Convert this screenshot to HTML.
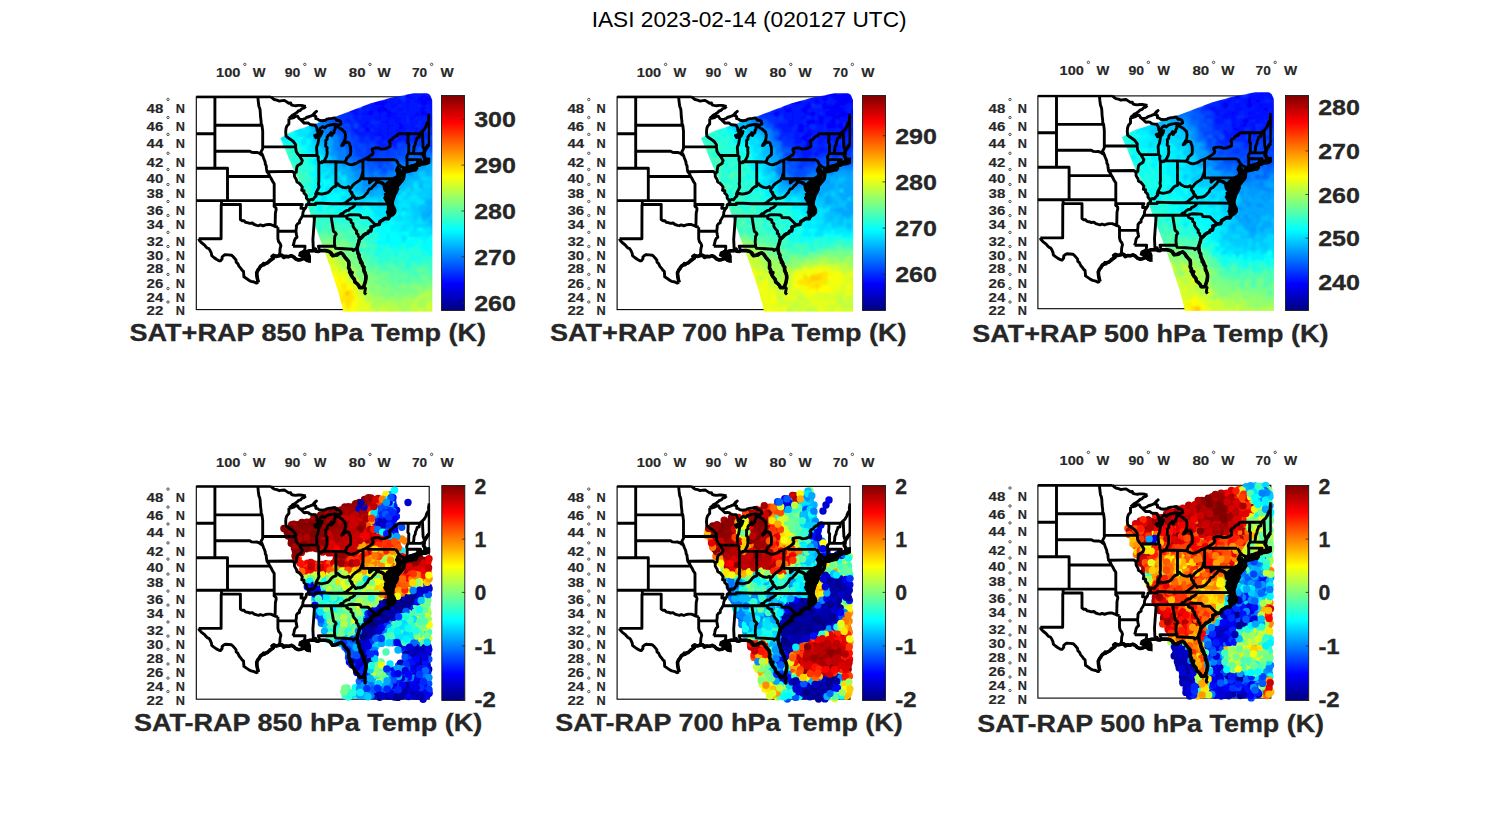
<!DOCTYPE html>
<html><head><meta charset="utf-8"><style>
html,body{margin:0;padding:0;background:#fff;width:1500px;height:825px;overflow:hidden}
svg{display:block}
text{font-family:"Liberation Sans",sans-serif}
.lb{font-size:12.9px;font-weight:bold;fill:#262626;stroke:#262626;stroke-width:0.15}
.lo{font-size:13.3px}
.dg{fill:none;stroke:#262626;stroke-width:0.8}
.cb{font-size:22.5px;font-weight:bold;fill:#262626;stroke:#262626;stroke-width:0.3}
.tt{font-size:23.6px;font-weight:bold;fill:#262626;stroke:#262626;stroke-width:0.3}
.mt{font-size:21.8px;fill:#000}
</style></head><body>
<svg width="1500" height="825" viewBox="0 0 1500 825">
<defs>
<linearGradient id="jetg" x1="0" y1="0" x2="0" y2="1"><stop offset="0.0000" stop-color="#800000"/><stop offset="0.0156" stop-color="#8f0000"/><stop offset="0.0312" stop-color="#9f0000"/><stop offset="0.0469" stop-color="#af0000"/><stop offset="0.0625" stop-color="#bf0000"/><stop offset="0.0781" stop-color="#cf0000"/><stop offset="0.0938" stop-color="#df0000"/><stop offset="0.1094" stop-color="#ef0000"/><stop offset="0.1250" stop-color="#ff0000"/><stop offset="0.1406" stop-color="#ff1000"/><stop offset="0.1562" stop-color="#ff2000"/><stop offset="0.1719" stop-color="#ff3000"/><stop offset="0.1875" stop-color="#ff4000"/><stop offset="0.2031" stop-color="#ff5000"/><stop offset="0.2188" stop-color="#ff6000"/><stop offset="0.2344" stop-color="#ff7000"/><stop offset="0.2500" stop-color="#ff8000"/><stop offset="0.2656" stop-color="#ff8f00"/><stop offset="0.2812" stop-color="#ff9f00"/><stop offset="0.2969" stop-color="#ffaf00"/><stop offset="0.3125" stop-color="#ffbf00"/><stop offset="0.3281" stop-color="#ffcf00"/><stop offset="0.3438" stop-color="#ffdf00"/><stop offset="0.3594" stop-color="#ffef00"/><stop offset="0.3750" stop-color="#ffff00"/><stop offset="0.3906" stop-color="#efff10"/><stop offset="0.4062" stop-color="#dfff20"/><stop offset="0.4219" stop-color="#cfff30"/><stop offset="0.4375" stop-color="#bfff40"/><stop offset="0.4531" stop-color="#afff50"/><stop offset="0.4688" stop-color="#9fff60"/><stop offset="0.4844" stop-color="#8fff70"/><stop offset="0.5000" stop-color="#80ff80"/><stop offset="0.5156" stop-color="#70ff8f"/><stop offset="0.5312" stop-color="#60ff9f"/><stop offset="0.5469" stop-color="#50ffaf"/><stop offset="0.5625" stop-color="#40ffbf"/><stop offset="0.5781" stop-color="#30ffcf"/><stop offset="0.5938" stop-color="#20ffdf"/><stop offset="0.6094" stop-color="#10ffef"/><stop offset="0.6250" stop-color="#00ffff"/><stop offset="0.6406" stop-color="#00efff"/><stop offset="0.6562" stop-color="#00dfff"/><stop offset="0.6719" stop-color="#00cfff"/><stop offset="0.6875" stop-color="#00bfff"/><stop offset="0.7031" stop-color="#00afff"/><stop offset="0.7188" stop-color="#009fff"/><stop offset="0.7344" stop-color="#008fff"/><stop offset="0.7500" stop-color="#0080ff"/><stop offset="0.7656" stop-color="#0070ff"/><stop offset="0.7812" stop-color="#0060ff"/><stop offset="0.7969" stop-color="#0050ff"/><stop offset="0.8125" stop-color="#0040ff"/><stop offset="0.8281" stop-color="#0030ff"/><stop offset="0.8438" stop-color="#0020ff"/><stop offset="0.8594" stop-color="#0010ff"/><stop offset="0.8750" stop-color="#0000ff"/><stop offset="0.8906" stop-color="#0000ef"/><stop offset="0.9062" stop-color="#0000df"/><stop offset="0.9219" stop-color="#0000cf"/><stop offset="0.9375" stop-color="#0000bf"/><stop offset="0.9531" stop-color="#0000af"/><stop offset="0.9688" stop-color="#00009f"/><stop offset="0.9844" stop-color="#00008f"/><stop offset="1.0000" stop-color="#000080"/></linearGradient>
<linearGradient id="sg0" x1="0" y1="0" x2="0" y2="1"><stop offset="0" stop-color="#0038ff"/><stop offset="0.2" stop-color="#0080ff"/><stop offset="0.5" stop-color="#00d1ff"/><stop offset="0.7" stop-color="#4dffb2"/><stop offset="1" stop-color="#b3ff4c"/></linearGradient><linearGradient id="sg1" x1="0" y1="0" x2="0" y2="1"><stop offset="0" stop-color="#0038ff"/><stop offset="0.2" stop-color="#0080ff"/><stop offset="0.5" stop-color="#00d1ff"/><stop offset="0.7" stop-color="#4dffb2"/><stop offset="1" stop-color="#b3ff4c"/></linearGradient><linearGradient id="sg2" x1="0" y1="0" x2="0" y2="1"><stop offset="0" stop-color="#004dff"/><stop offset="0.2" stop-color="#0094ff"/><stop offset="0.5" stop-color="#00d1ff"/><stop offset="0.7" stop-color="#2effd1"/><stop offset="1" stop-color="#80ff80"/></linearGradient><linearGradient id="sg3" x1="0" y1="0" x2="0" y2="1"><stop offset="0" stop-color="#e50000"/><stop offset="0.3" stop-color="#ff4c00"/><stop offset="0.5" stop-color="#e5ff1a"/><stop offset="0.7" stop-color="#00b2ff"/><stop offset="1" stop-color="#00e5ff"/></linearGradient><linearGradient id="sg4" x1="0" y1="0" x2="0" y2="1"><stop offset="0" stop-color="#e50000"/><stop offset="0.3" stop-color="#ff4c00"/><stop offset="0.5" stop-color="#00b2ff"/><stop offset="0.7" stop-color="#0000e6"/><stop offset="1" stop-color="#0019ff"/></linearGradient><linearGradient id="sg5" x1="0" y1="0" x2="0" y2="1"><stop offset="0" stop-color="#e50000"/><stop offset="0.3" stop-color="#ff4c00"/><stop offset="0.5" stop-color="#ff4c00"/><stop offset="0.7" stop-color="#e5ff1a"/><stop offset="1" stop-color="#1affe5"/></linearGradient>
<clipPath id="swclip"><polygon points="280.3,138.2 291.8,131.5 308.8,126 340,115 370,103.5 391.8,97.5 413.6,93.2 427.3,93.2 430,94.8 432.2,100 432.4,140 432.4,200 432.4,260 432.3,311.8 343.2,311.8 341.4,303.6 337.7,290 333.2,276.4 328.6,262.7 325,252.7 319,236.4 311.8,217.5 307.5,205.8 301.5,186.7 293,168.5 286,151.5"/></clipPath>
<filter id="bl" x="-5%" y="-5%" width="110%" height="110%"><feGaussianBlur stdDeviation="0.9"/></filter>
<clipPath id="boxclip"><rect x="195.3" y="95.6" width="234.9" height="215.2"/></clipPath>
</defs>
<rect width="1500" height="825" fill="#fff"/>
<text x="591.7" y="26.6" class="mt" textLength="314.9" lengthAdjust="spacingAndGlyphs">IASI 2023-02-14 (020127 UTC)</text>
<g transform="translate(0,0)"><rect x="196.3" y="96.8" width="232.9" height="212.8" fill="#fff" stroke="#000" stroke-width="1.1"/><g clip-path="url(#swclip)"><g filter="url(#bl)"><g fill="none" stroke-width="6" stroke-linecap="round"><path stroke="#0026ff" d="M400 98h0M416 98h0M396 102h0M404 102h0M420 106h0M428 106h0M360 110h0M368 110h0M392 110h0M340 114h0M348 114h0M352 114h0M360 114h0M340 118h0M348 118h0M360 118h0M408 118h0M416 118h0M424 118h0M356 122h0M364 122h0M376 122h0M380 122h0M408 122h0M420 122h0M368 126h0M376 126h0M416 126h0M420 126h0M432 126h0M364 130h0M408 130h0M432 130h0M356 134h0M368 134h0M384 134h0M416 134h0M424 134h0M428 134h0M432 134h0M360 138h0M364 138h0M408 138h0M412 138h0M424 138h0M428 138h0M360 142h0M364 142h0M368 142h0M376 142h0M388 142h0M400 142h0M412 142h0M380 146h0M388 146h0M368 150h0M376 150h0M380 150h0M388 150h0M372 158h0"/><path stroke="#0033ff" d="M404 98h0M400 106h0M344 114h0M344 118h0M352 118h0M344 122h0M352 122h0M372 122h0M352 130h0M360 130h0M372 130h0M352 134h0M412 134h0M352 138h0M368 138h0M376 138h0M380 138h0M396 138h0M420 138h0M372 142h0M384 142h0M404 142h0M416 142h0M420 142h0M368 146h0M376 146h0M392 146h0M408 146h0M420 146h0M428 146h0M432 146h0M356 150h0M360 150h0M396 150h0M416 150h0M368 154h0M372 154h0M376 154h0M388 154h0M400 154h0M380 158h0"/><path stroke="#000dff" d="M408 98h0M412 98h0M424 98h0M432 98h0M388 102h0M392 102h0M400 102h0M408 102h0M416 102h0M420 102h0M428 102h0M432 102h0M372 106h0M376 106h0M380 106h0M392 106h0M396 106h0M408 106h0M424 106h0M432 106h0M352 110h0M356 110h0M372 110h0M376 110h0M388 110h0M408 110h0M420 110h0M432 110h0M356 114h0M364 114h0M368 114h0M380 114h0M392 114h0M396 114h0M420 114h0M428 114h0M376 118h0M380 118h0M388 118h0M392 118h0M396 118h0M400 118h0M432 118h0M368 122h0M384 122h0M388 122h0M396 122h0M400 122h0M428 122h0M352 126h0M364 126h0M388 126h0M392 126h0M404 126h0M412 126h0M356 130h0M380 130h0M388 130h0M396 130h0M400 130h0M404 130h0M416 130h0M376 134h0M380 134h0M388 134h0M400 134h0M420 134h0M384 138h0M392 142h0"/><path stroke="#00f2ff" d="M296 130h0M304 130h0M288 134h0M296 134h0M280 138h0M296 138h0M304 138h0M312 138h0M300 142h0M308 146h0M308 150h0M316 154h0M316 158h0M320 166h0M316 170h0M324 174h0M328 174h0M340 174h0M316 178h0M320 178h0M324 178h0M316 182h0M320 182h0M332 182h0M328 186h0M332 186h0M340 186h0M316 190h0M340 190h0M420 190h0M328 194h0M332 194h0M340 194h0M340 198h0M344 202h0M348 202h0M356 202h0M344 206h0M348 206h0M356 206h0M368 206h0M404 206h0M356 210h0M364 210h0M372 210h0M400 210h0M368 214h0M388 214h0M376 218h0M380 218h0M392 218h0M420 218h0M388 222h0M396 222h0M400 222h0M404 222h0M376 226h0M392 226h0M396 226h0M400 226h0M412 226h0M384 230h0M392 230h0M396 230h0M400 230h0M408 230h0M412 230h0M424 230h0M388 234h0M400 234h0M424 234h0M388 238h0M416 238h0M424 238h0M428 238h0M388 242h0M404 242h0M424 242h0M432 242h0M412 246h0M428 250h0"/><path stroke="#99ff66" d="M324 246h0M336 250h0M340 258h0M344 258h0M352 266h0M356 270h0M356 274h0M356 278h0M364 282h0M368 286h0M380 286h0M420 286h0M420 290h0M428 290h0M432 290h0M396 294h0M420 294h0M376 298h0M408 298h0M412 298h0M416 298h0M380 302h0M392 302h0M400 302h0"/><path stroke="#33ffcc" d="M288 146h0M288 154h0M292 154h0M296 158h0M300 158h0M300 162h0M300 166h0M296 170h0M300 174h0M304 178h0M308 178h0M304 182h0M308 182h0M304 190h0M312 206h0M308 210h0M312 210h0M312 214h0M316 214h0M320 214h0M316 218h0M332 218h0M344 218h0M320 222h0M324 222h0M328 222h0M340 222h0M348 222h0M340 226h0M348 226h0M360 226h0M364 226h0M368 226h0M344 230h0M348 230h0M360 230h0M368 234h0M376 234h0M364 238h0M372 238h0M368 242h0M376 246h0M364 250h0M372 250h0M376 250h0M404 250h0M372 258h0M380 258h0M384 258h0M396 258h0M400 258h0M408 258h0M424 258h0M432 258h0M384 262h0M388 262h0M392 262h0M404 262h0M412 262h0M416 262h0M424 262h0M428 262h0M432 262h0M396 266h0M420 266h0M432 266h0M388 270h0"/><path stroke="#00bfff" d="M316 130h0M320 142h0M316 146h0M320 146h0M324 150h0M328 154h0M324 158h0M332 158h0M336 166h0M336 170h0M340 170h0M344 170h0M424 170h0M432 174h0M412 178h0M420 178h0M432 178h0M348 182h0M396 182h0M408 182h0M412 182h0M420 182h0M424 182h0M396 186h0M404 186h0M408 186h0M412 186h0M432 186h0M360 190h0M396 190h0M404 190h0M412 190h0M432 190h0M360 194h0M364 194h0M368 194h0M380 194h0M388 194h0M392 194h0M400 194h0M432 194h0M372 198h0M380 198h0M396 198h0M424 198h0M432 198h0M380 202h0M380 206h0M420 206h0M424 206h0M428 206h0M420 210h0M424 210h0M432 214h0M428 218h0M432 218h0"/><path stroke="#4dffb2" d="M292 162h0M296 174h0M300 178h0M316 222h0M332 222h0M324 226h0M332 226h0M336 226h0M320 234h0M328 234h0M344 234h0M348 234h0M352 234h0M356 234h0M360 234h0M344 238h0M348 238h0M356 238h0M360 238h0M348 242h0M356 242h0M360 242h0M352 250h0M356 250h0M364 254h0M364 258h0M368 258h0M368 262h0M372 266h0M380 266h0M388 266h0M404 266h0M424 266h0M372 270h0M380 270h0M384 270h0M392 270h0M412 270h0M416 270h0M428 270h0M392 274h0M408 274h0M412 274h0M420 274h0M424 274h0M432 274h0M392 278h0M400 278h0M408 278h0M416 278h0M408 282h0M420 282h0"/><path stroke="#0073ff" d="M324 122h0M324 126h0M332 126h0M332 138h0M340 146h0M336 150h0M340 150h0M352 154h0M412 154h0M428 154h0M432 154h0M412 158h0M352 162h0M364 162h0M392 162h0M396 162h0M400 162h0M412 162h0M416 162h0M364 166h0M396 166h0M356 170h0M364 170h0M368 170h0M380 170h0M368 174h0M372 174h0M388 174h0"/><path stroke="#00d9ff" d="M308 126h0M308 134h0M308 138h0M312 142h0M320 150h0M320 154h0M324 162h0M324 166h0M332 166h0M324 170h0M336 174h0M336 178h0M424 178h0M428 178h0M336 182h0M344 182h0M416 182h0M336 186h0M344 186h0M352 186h0M424 186h0M428 186h0M344 190h0M408 190h0M416 190h0M412 194h0M416 194h0M424 194h0M348 198h0M384 198h0M408 198h0M360 202h0M364 202h0M384 202h0M392 202h0M400 202h0M408 202h0M412 202h0M416 202h0M424 202h0M384 206h0M388 206h0M392 206h0M396 206h0M416 206h0M388 210h0M392 210h0M408 210h0M412 210h0M392 214h0M400 214h0M412 214h0M400 218h0M408 218h0M412 218h0M384 222h0M412 222h0M416 222h0M424 222h0M416 226h0M424 226h0M404 230h0M416 230h0M432 230h0M432 234h0"/><path stroke="#0099ff" d="M316 126h0M328 130h0M324 134h0M324 138h0M328 142h0M332 146h0M332 150h0M332 154h0M336 162h0M428 162h0M432 162h0M412 166h0M424 166h0M412 170h0M408 174h0M412 174h0M356 178h0M396 178h0M400 178h0M404 178h0M380 182h0M388 182h0M392 182h0M364 186h0M372 186h0M364 190h0M372 190h0"/><path stroke="#008cff" d="M320 122h0M336 154h0M424 162h0M344 166h0M352 166h0M352 170h0M360 170h0M396 170h0M356 174h0M360 174h0M396 174h0M360 178h0M364 178h0M368 178h0M376 178h0M384 178h0M388 178h0M364 182h0M368 182h0M376 182h0M384 182h0M368 186h0M380 186h0"/><path stroke="#0066ff" d="M332 118h0M336 126h0M336 130h0M336 134h0M340 138h0M340 142h0M420 150h0M428 150h0M408 154h0M348 158h0M352 158h0M356 158h0M416 158h0M428 158h0M356 162h0M360 162h0M404 162h0M408 162h0M360 166h0M368 166h0M376 166h0M384 166h0M376 170h0M388 170h0M380 174h0M384 174h0M372 178h0"/><path stroke="#ccff33" d="M328 254h0M332 254h0M332 258h0M336 266h0M340 266h0M340 270h0M344 270h0M348 274h0M352 282h0M364 290h0M360 294h0M364 298h0M368 302h0M372 302h0M376 306h0M380 310h0M384 310h0M388 310h0M428 310h0"/><path stroke="#40ffbf" d="M288 150h0M300 154h0M288 158h0M292 166h0M296 166h0M300 170h0M304 174h0M308 174h0M300 182h0M308 190h0M304 194h0M308 194h0M308 206h0M312 218h0M356 222h0M316 226h0M328 226h0M344 226h0M356 226h0M320 230h0M324 230h0M328 230h0M332 230h0M336 230h0M340 230h0M356 230h0M364 230h0M364 234h0M352 238h0M364 242h0M356 246h0M360 246h0M368 246h0M372 246h0M368 254h0M372 254h0M400 254h0M376 258h0M392 258h0M372 262h0M376 262h0M400 262h0M384 266h0M400 266h0M412 266h0M416 266h0M428 266h0M400 270h0M404 270h0M408 270h0M432 270h0M416 274h0M400 282h0"/><path stroke="#00a6ff" d="M320 138h0M328 138h0M324 142h0M332 142h0M328 146h0M336 158h0M340 162h0M420 166h0M432 166h0M348 170h0M416 170h0M420 170h0M428 170h0M352 174h0M404 174h0M352 178h0M356 182h0M360 182h0M372 182h0M360 186h0M388 186h0M392 186h0M356 190h0M368 190h0M376 190h0M384 190h0M388 190h0M372 194h0M384 194h0M432 202h0M432 210h0M428 214h0"/><path stroke="#fff200" d="M332 274h0M340 278h0M340 282h0M336 286h0M340 290h0M344 290h0M348 290h0M352 290h0M340 294h0M344 294h0M340 298h0M344 302h0M352 302h0M348 310h0"/><path stroke="#b3ff4c" d="M328 250h0M332 250h0M340 262h0M344 262h0M344 266h0M348 270h0M360 286h0M424 294h0M428 294h0M372 298h0M428 298h0M388 302h0M428 302h0M380 306h0M388 306h0M392 306h0M396 306h0M404 306h0M376 310h0M392 310h0M400 310h0M408 310h0"/><path stroke="#ffbf00" d="M348 294h0"/><path stroke="#00ccff" d="M312 130h0M312 134h0M316 142h0M316 150h0M324 154h0M328 158h0M328 162h0M328 166h0M332 170h0M332 174h0M420 174h0M424 174h0M328 178h0M340 178h0M340 182h0M428 182h0M432 182h0M348 186h0M348 190h0M352 190h0M400 190h0M424 190h0M428 190h0M352 194h0M356 194h0M408 194h0M420 194h0M428 194h0M364 198h0M368 198h0M376 198h0M388 198h0M392 198h0M404 198h0M420 198h0M428 198h0M396 202h0M412 206h0M396 210h0M404 210h0M416 210h0M416 214h0M420 214h0M416 218h0M428 222h0M420 226h0M428 226h0M432 226h0"/><path stroke="#f2ff0d" d="M344 282h0M352 286h0M356 306h0M344 310h0M356 310h0"/><path stroke="#bfff40" d="M336 258h0M336 262h0M352 274h0M364 286h0M360 290h0M364 294h0M368 294h0M420 298h0M416 302h0M432 302h0M384 306h0M412 306h0M416 306h0M432 306h0M396 310h0M412 310h0M416 310h0M424 310h0M432 310h0"/><path stroke="#d9ff26" d="M328 262h0M332 262h0M348 278h0M356 286h0M364 302h0M428 306h0M364 310h0M368 310h0M372 310h0M420 310h0"/><path stroke="#0dfff2" d="M292 134h0M300 138h0M284 142h0M300 146h0M304 150h0M312 166h0M324 190h0M316 198h0M328 198h0M332 202h0M328 206h0M336 206h0M340 206h0M364 206h0M328 210h0M336 210h0M344 210h0M348 210h0M352 210h0M368 210h0M328 214h0M336 214h0M344 214h0M372 214h0M372 222h0M372 226h0M380 226h0M384 226h0M376 230h0M388 230h0M408 238h0M412 238h0M432 238h0M408 242h0M396 246h0M400 246h0M420 246h0M432 246h0M380 250h0M384 250h0M396 250h0M424 250h0M432 250h0M396 254h0M412 254h0M424 254h0"/><path stroke="#a6ff59" d="M332 246h0M324 250h0M348 262h0M348 266h0M352 270h0M352 278h0M360 282h0M368 290h0M372 294h0M432 294h0M368 298h0M380 298h0M384 298h0M392 298h0M404 298h0M424 298h0M432 298h0M376 302h0M384 302h0M396 302h0M404 302h0M408 302h0M412 302h0M420 302h0M424 302h0M372 306h0M400 306h0M408 306h0M420 306h0M424 306h0M404 310h0"/><path stroke="#0059ff" d="M328 122h0M332 122h0M332 130h0M340 134h0M344 134h0M348 142h0M344 146h0M348 146h0M348 150h0M352 150h0M408 150h0M348 154h0M416 154h0M424 154h0M360 158h0M400 158h0M404 158h0M408 158h0M368 162h0M372 162h0M372 166h0M388 166h0M392 166h0M372 170h0M392 170h0"/><path stroke="#59ffa6" d="M308 202h0M316 230h0M352 230h0M324 234h0M332 234h0M336 234h0M340 234h0M336 238h0M340 238h0M352 242h0M352 246h0M364 246h0M360 254h0M360 258h0M364 262h0M368 266h0M376 266h0M392 266h0M396 270h0M424 270h0M376 274h0M380 274h0M396 274h0M400 274h0M404 274h0M428 274h0M412 278h0M420 278h0M428 278h0M432 278h0M380 282h0M392 282h0M404 282h0M412 282h0"/><path stroke="#ffff00" d="M336 274h0M336 278h0M344 278h0M336 282h0M340 286h0M348 286h0M356 298h0M356 302h0M344 306h0M352 306h0M352 310h0"/><path stroke="#00b2ff" d="M312 126h0M320 130h0M316 134h0M320 134h0M316 138h0M324 146h0M328 150h0M332 162h0M340 166h0M348 166h0M416 166h0M428 166h0M432 170h0M344 174h0M348 174h0M416 174h0M428 174h0M348 178h0M408 178h0M416 178h0M352 182h0M400 182h0M404 182h0M356 186h0M400 186h0M420 186h0M380 190h0M392 190h0M376 194h0M396 194h0M428 202h0M432 206h0M428 210h0M424 214h0M424 218h0M432 222h0"/><path stroke="#ffe500" d="M344 286h0M352 294h0M344 298h0M348 298h0M352 298h0M340 302h0M348 306h0"/><path stroke="#8cff73" d="M328 246h0M340 250h0M336 254h0M360 278h0M384 282h0M372 286h0M376 286h0M428 286h0M376 290h0M380 290h0M392 290h0M424 290h0M376 294h0M380 294h0M388 294h0M408 294h0M412 294h0M388 298h0M396 298h0M400 298h0"/><path stroke="#0000f2" d="M384 110h0"/><path stroke="#1affe5" d="M284 146h0M296 150h0M308 158h0M312 158h0M296 162h0M308 162h0M304 170h0M312 182h0M312 186h0M312 190h0M312 194h0M312 198h0M320 198h0M312 202h0M316 206h0M324 210h0M332 214h0M352 214h0M356 214h0M360 214h0M364 214h0M336 218h0M356 218h0M364 218h0M368 218h0M364 222h0M368 222h0M372 230h0M372 234h0M380 238h0M376 242h0M420 242h0M380 246h0M384 246h0M388 246h0M404 246h0M416 246h0M400 250h0M408 250h0M416 250h0M420 250h0M376 254h0M380 254h0M388 254h0M428 254h0M412 258h0M416 258h0M420 258h0"/><path stroke="#0000ff" d="M408 94h0M424 94h0M420 98h0M428 98h0M376 102h0M380 102h0M384 102h0M424 102h0M384 106h0M380 110h0M400 110h0M424 110h0M372 114h0M388 114h0M404 114h0M416 114h0M424 114h0M412 118h0M400 126h0M368 130h0"/><path stroke="#26ffd9" d="M292 146h0M296 146h0M292 150h0M300 150h0M296 154h0M292 158h0M304 158h0M304 162h0M304 166h0M308 166h0M308 170h0M312 170h0M312 178h0M304 186h0M308 186h0M308 198h0M324 206h0M316 210h0M332 210h0M324 214h0M340 214h0M348 214h0M320 218h0M324 218h0M328 218h0M340 218h0M348 218h0M352 218h0M360 218h0M336 222h0M344 222h0M352 222h0M360 222h0M320 226h0M352 226h0M368 230h0M368 238h0M376 238h0M372 242h0M360 250h0M368 250h0M388 250h0M392 250h0M412 250h0M384 254h0M392 254h0M404 254h0M408 254h0M416 254h0M420 254h0M388 258h0M404 258h0M428 258h0M380 262h0M396 262h0M408 262h0M420 262h0M408 266h0"/><path stroke="#ffd900" d="M348 302h0"/><path stroke="#e5ff1a" d="M328 258h0M332 266h0M332 270h0M336 270h0M340 274h0M344 274h0M348 282h0M356 282h0M356 290h0M356 294h0M360 298h0M360 302h0M360 306h0M364 306h0M368 306h0M360 310h0"/><path stroke="#0080ff" d="M320 126h0M328 126h0M324 130h0M328 134h0M332 134h0M336 138h0M336 142h0M336 146h0M344 150h0M340 154h0M344 154h0M340 158h0M344 158h0M420 158h0M432 158h0M344 162h0M348 162h0M420 162h0M356 166h0M400 166h0M404 166h0M408 166h0M400 170h0M404 170h0M408 170h0M364 174h0M376 174h0M392 174h0M400 174h0M380 178h0M392 178h0M376 186h0M384 186h0"/><path stroke="#66ff99" d="M320 238h0M324 238h0M328 238h0M332 238h0M340 242h0M352 254h0M356 258h0M364 266h0M364 270h0M368 270h0M376 270h0M420 270h0M388 274h0M384 278h0M388 278h0M396 278h0M404 278h0M388 282h0M396 282h0M416 282h0M424 282h0M432 282h0M384 286h0M392 286h0M396 286h0M408 286h0"/><path stroke="#00ffff" d="M288 138h0M292 138h0M288 142h0M292 142h0M296 142h0M308 142h0M304 146h0M304 154h0M308 154h0M312 154h0M320 158h0M312 162h0M316 166h0M312 174h0M316 174h0M324 182h0M328 182h0M316 186h0M324 186h0M320 190h0M332 190h0M316 194h0M320 194h0M324 194h0M336 194h0M344 194h0M332 198h0M336 198h0M316 202h0M320 202h0M324 202h0M328 202h0M336 202h0M340 202h0M320 206h0M332 206h0M352 206h0M320 210h0M340 210h0M360 210h0M396 214h0M404 214h0M372 218h0M388 218h0M376 222h0M392 222h0M388 226h0M380 230h0M420 230h0M380 234h0M384 234h0M392 234h0M396 234h0M404 234h0M408 234h0M384 238h0M392 238h0M396 238h0M400 238h0M420 238h0M380 242h0M384 242h0M392 242h0M396 242h0M400 242h0M412 242h0M416 242h0M428 242h0M392 246h0M408 246h0M424 246h0M428 246h0M432 254h0"/><path stroke="#0019ff" d="M412 94h0M416 94h0M420 94h0M428 94h0M388 98h0M392 98h0M396 98h0M372 102h0M412 102h0M364 106h0M368 106h0M388 106h0M404 106h0M412 106h0M416 106h0M364 110h0M396 110h0M404 110h0M412 110h0M416 110h0M428 110h0M376 114h0M384 114h0M400 114h0M408 114h0M412 114h0M432 114h0M356 118h0M364 118h0M368 118h0M372 118h0M384 118h0M404 118h0M420 118h0M428 118h0M348 122h0M360 122h0M392 122h0M404 122h0M412 122h0M416 122h0M424 122h0M432 122h0M360 126h0M372 126h0M380 126h0M384 126h0M396 126h0M408 126h0M424 126h0M428 126h0M376 130h0M384 130h0M392 130h0M412 130h0M420 130h0M424 130h0M360 134h0M364 134h0M372 134h0M392 134h0M396 134h0M404 134h0M408 134h0M372 138h0M388 138h0M392 138h0M400 138h0M404 138h0M416 138h0M380 142h0M396 142h0M408 142h0M384 146h0M396 146h0"/><path stroke="#004dff" d="M336 122h0M340 130h0M344 130h0M348 134h0M344 138h0M348 138h0M432 138h0M344 142h0M352 142h0M352 146h0M360 146h0M400 146h0M412 146h0M364 150h0M404 150h0M412 150h0M424 150h0M432 150h0M356 154h0M396 154h0M404 154h0M420 154h0M384 158h0M392 158h0M396 158h0M424 158h0M376 162h0M384 162h0M388 162h0M384 170h0"/><path stroke="#73ff8c" d="M320 242h0M332 242h0M336 242h0M344 242h0M336 246h0M344 246h0M348 246h0M344 250h0M348 250h0M344 254h0M348 254h0M356 254h0M352 258h0M352 262h0M360 262h0M360 266h0M360 274h0M372 274h0M384 274h0M380 278h0M424 278h0M376 282h0M428 282h0M400 286h0M424 286h0M396 290h0M400 290h0M404 290h0M408 290h0M412 290h0M392 294h0"/><path stroke="#00e5ff" d="M300 130h0M308 130h0M300 134h0M304 134h0M284 138h0M304 142h0M312 146h0M312 150h0M316 162h0M320 162h0M320 170h0M328 170h0M320 174h0M332 178h0M344 178h0M320 186h0M416 186h0M328 190h0M336 190h0M348 194h0M404 194h0M324 198h0M344 198h0M352 198h0M356 198h0M360 198h0M400 198h0M412 198h0M416 198h0M352 202h0M368 202h0M372 202h0M376 202h0M388 202h0M404 202h0M420 202h0M360 206h0M372 206h0M376 206h0M400 206h0M408 206h0M376 210h0M380 210h0M384 210h0M376 214h0M380 214h0M384 214h0M408 214h0M384 218h0M396 218h0M404 218h0M380 222h0M408 222h0M420 222h0M404 226h0M408 226h0M428 230h0M412 234h0M416 234h0M420 234h0M428 234h0M404 238h0"/><path stroke="#80ff80" d="M324 242h0M328 242h0M340 246h0M340 254h0M348 258h0M356 262h0M356 266h0M360 270h0M364 274h0M368 274h0M364 278h0M368 278h0M372 278h0M376 278h0M368 282h0M372 282h0M388 286h0M404 286h0M412 286h0M416 286h0M432 286h0M372 290h0M384 290h0M388 290h0M416 290h0M384 294h0M400 294h0M404 294h0M416 294h0"/><path stroke="#0040ff" d="M336 118h0M340 122h0M340 126h0M344 126h0M348 126h0M356 126h0M348 130h0M428 130h0M356 138h0M356 142h0M424 142h0M428 142h0M432 142h0M356 146h0M364 146h0M372 146h0M404 146h0M416 146h0M424 146h0M372 150h0M384 150h0M392 150h0M400 150h0M360 154h0M364 154h0M380 154h0M384 154h0M392 154h0M364 158h0M368 158h0M376 158h0M388 158h0M380 162h0M380 166h0"/></g></g></g><g clip-path="url(#boxclip)"><path d="M196.3 96.8 270.9 96.8M214.9 96.8 214.9 168.2M196.3 133.7 214.9 133.7M214.9 125.3 262 125.3M214.9 151.2 249.8 151.2 251.7 152.3 254.2 152.5 256.7 152.4 259.2 153.2 261.1 154.7 262.7 155.6M196.3 168.2 227.5 168.2 227.5 200.6M227.5 176.5 269.9 176.5M196.3 200.6 274.2 200.6M221.5 200.6 221.5 204.5 240.4 204.5 240.4 219.5 242.2 220.7 244.1 220.7 245.4 222.3 247.3 222.6 249.8 223.4 252.3 223 254.2 224.5 256.7 225.3 258.6 225.7 260.5 224.9 263 225.9 265.5 224.9 268 224.5 270.6 224.5 272.5 225.3 275.1 226.5 277.9 227.2M221.2 204.5 221.1 238.8 198.7 238.8M198.7 238.8 199.4 240.5 201.3 242.5 203.2 244 204.6 245.1 205.7 246.5 207.1 248 208.9 248.7 210 250.3 210.8 252 211.5 253.8 211.7 255.7 213.9 257.5 216.4 259.3 219 260.7 220.5 260.9 222.1 258.9 222.1 257 223.4 255.7 225.3 254.6 228.4 254.9 231.5 255.2 232.9 256.4 234.1 257.8 236 260 236.2 262.2 237.8 263.6 239.1 266.4 241 268.6 242 270.2 243.5 271.4 243.8 275 243.9 276.8 245.4 277.8 247.9 279.5 249.4 280.6 251.1 281.3 254.2 282 256.4 283.1 258.3 282.4M258.3 282.4 257.7 279.9 257 276.4 256.7 272.8 258 270 259.2 268.7 259.9 267.2 261.2 266.2 262.4 265 263.4 263.2 265.5 263.6 267.4 263.2 268.7 261.8 270.5 260.8 271.8 259.3 273.4 258.2 272.1 256.4 273.7 255.3 276.2 256.4 279.1 255.7M274.2 200.6 274.2 204.5 274.1 206.3 276 207.8 276.2 209.5 275.8 211.3 275.4 213.1 275.1 226.5M277.9 227.2 277.9 231.2 277.9 238.8 278.7 241.8 280.2 243.6 280.9 245.8 280.3 247.8 280 249.8 279.9 252.8 279.1 255.7M277.9 231.2 295.9 231.3M274.2 200.6 274.2 183.8 272.6 181.4 271.2 178.5 269.9 176.5M274.2 204.5 302.3 204.5 301.1 206.9 301 208.4 305.2 208.4M262.7 155.6 263.6 158.1 264.5 160.2 265.2 162.3 265.3 164.1 266.2 165.7 266.5 169 267 171.7 268.7 174 269.9 176.5M267 171.7 292.4 171.4 294.4 173.3M262.7 146.9 295.6 146.9M262.7 146.9 262.7 131.1 262 125.3 261.1 123.3 261.1 121.1 260.5 116.5 260.2 111 260 109.4 259.6 107.8 258.9 106.3 258.3 101.6 257.8 96.8M262.7 146.9 262.7 148.8 261.8 150.4 260.8 152.4 262 153.9 262.7 155.6M270.9 96.8 273.1 98.7 274.3 99.5 276.9 100.1 279.4 101.1 281.9 100.6 284.4 100.4 286.9 102 288.8 103.3 290.7 103 291.3 104.8 293.2 105.4 295.7 105.8 298.3 105.4 300.8 105.4 303.3 105.8 305.8 106.4M305.8 106.4 304.2 107.9 302 108.6 300.4 110.3 298.3 111 297.2 112.3 295.8 113.2 294.5 114.2 292.6 115 291.3 116.5 288.9 118.4M288.9 118.4 288.9 124 286.9 126.1 286 128.6 285.7 132 286 136 287.3 137.2 288.8 138.2 291.3 139.9 293.1 141.2 294.5 143 295.7 144.8 295.6 146.9M288.9 118.4 290.7 118.4 293.9 117.5 295.6 116.4 297.6 116.1 298.9 118.4 300.6 119.6M300.6 119.6 302.7 121.6 304.2 123.1 306.4 122.9 308.3 123 309.7 124.3 311.5 124.8 315.3 125.2 316.8 127.9 317.1 130.6 318.4 132.8M295.6 146.9 296.1 151.2 297.6 153.8 299.2 155.5 300.8 158.1 302.3 160.6 301.4 163.2 299.5 164.4 298.1 165.2 297 166.5 296.4 169.8 296.3 172.1 294.4 173.3 294.5 176.5 295.4 178.1 296.4 179.7 296.9 182 298.9 183 300.8 185 302.3 187 301.7 190.3 304 190.7 303.9 193.1 305.4 194.3 306.4 195.8 306.4 198.2 307.6 199.3 308.6 200.6 309 202.2 308.1 203.8 306.4 204.5 306.1 206.9 305.2 208.4 303.8 210.2 303 212.3 302.7 215.4 301.4 217.7 300.5 219.2 299.5 220.7 299.5 222.8 297.6 223.8 296.4 225.5 296.4 227.6 295.9 231.3 296.4 234.3 297 237.3 295.4 238.5 294.5 240.3 293.9 243.2 293 246.2M293 246.2 305 246.2 304.9 248.4 304.6 250.4 305.8 252.2M299.3 155.5 317.1 155.5M318.8 161.8 318.8 181.8 318.4 183.8 319 187 317.8 189.5 316.5 191.9 315.6 194.2M308.6 200.6 310.8 199.4 312.7 199.8 314.6 197.4 316.1 196.1 315.6 194.2 318.4 193.5 321.5 194.2 324.7 193.5 327.8 192.7 329.7 191.1 331.6 188.6 333.5 187 336 186.2 335.9 183.8 337.9 183.8 339 185.2 340.4 186.2 342.9 187.4 346.1 187.8 348.6 186.6 349.9 189 351.8 187 352.7 185.4 354.9 183.4 357.4 181.8 359.9 180.1 361.2 177.3 362.1 174.8 362.6 173 363 171.2M335.9 161.8 335.9 183.8M320.9 161.8 335.9 161.8 344.5 162.1M363 171.2 363 159.8M367.7 157.5 367.7 159.8 395.4 159.8M363 171.2 363 178.8 392.7 178.8M349.9 191.1 351.9 192.5 352.4 195 354 196.4 355.5 199 357.4 198.2 359.9 198.2 362.5 197.4 364.3 196.2 366.2 193.9 367.6 192.7 368.1 191.1 369.4 189 371.3 188.6 373.2 186.2 375 184.6 376.6 182.2 380.1 182.2M380.1 182.2 378.5 181.5 377.6 180.1 375.7 180.1 373.8 179.7 371.9 181 369.5 183 369.5 178.8M343.1 203.7 346.1 202.6 348 200.6 350.5 199 352 197.4 354 196.4M354 196.4 351.8 194.2 350.8 191.9 349.9 191.1 349.9 189M306.4 204.5 315.6 204.5 315.6 203.1 322.2 203.3 331.6 203.7 337.9 203.7 343.1 203.7M343.1 203.7 355.7 203.8M355.7 203.8 354.3 206.1 352.4 207.6 349.9 208.6 348.8 210.3 346.7 210.4 344.2 211.9 343 213.5 341.1 213.8 339 216.1M339 216.1 301.4 216.1M355.7 203.8 392.2 204.1M339 216.1 346.7 216.1 348.8 215 351.1 214.6 359.7 215 360.4 215.4 361.2 217.5 368.2 217.7 375.4 224.8M346.7 216.1 346.8 218.2 348.6 219.2 351 219.8 351.1 222.3 353 223.7 353 226.1 353.8 227.7 354.9 229.1 356.8 231.3 356.4 233.2 358 234.3 358.3 236.2 359.3 237.7 360.6 238.4M331 216.1 333.5 231.3 335.3 232.6 336.2 234.1 334.8 236.2 334.4 241.8 334.8 246.2M334.8 246.2 335.6 248.3 344.2 248.7 352.4 249.3 353.3 250.6 355.2 249.1 357.1 248.4M334.8 246.2 318.4 246.2 319 248.4 319.7 250.6M314.6 216.1 312.9 239.5 313.4 250.6M279.1 255.7 281.9 255.2 284 256 286.3 256.4 288.8 256.7 291.3 255.7 293.9 257.1 295.7 258.9 298.3 260 300.8 259.6 302.7 258.9 304.6 258.2 307.1 260 308.6 260.7 307.7 258.6 306.4 257.1 305.2 255.7 306.8 253.8 305.2 252.9 305.8 252.2M300.5 253.1 302.7 252 304.6 252 304.9 253.1 303 253.3 300.5 253.1M305.8 252.2 307.5 250.9 309.6 250.7 313.4 250.7 315.3 249.1 315.9 251.3 318.4 251.5 320.1 250.2 322.2 250.6 325.3 250.6 328.5 251.3 331 252.8 331.1 254.6 332.6 255.7 335.4 255.3 337.3 255.3 338.5 253.8 341.1 252.8 342.9 254.2 343.8 255.7 344.8 257.1 346.7 259.3 348.6 261.4 348.9 265 348.6 267.9 349.9 270 349.6 272.1 350.2 273.6 351.1 275 352.4 277.1 354.3 279.2 354.9 282 356.8 283.4 358.7 285.5 359.6 287.6 362.5 287.6 363.7 286.9 364.3 284.8 365.3 282 365.9 278.5 365.9 275.7 365 272.8 364.6 271 363.7 269.3 364.2 267.1 362.5 265.7 362.1 263.6 361.8 261.9 360.6 260.7 360.1 258.8 359 257.1 358.9 255.2 358 253.5 357.4 250.6 357.1 248.4M363.7 286.9 365.5 288.4 365 290.7 364.7 292.9 366.2 294.5M357.1 248.4 357.7 245.4 358.7 242.5 359.3 239.5 360.6 238.4 362.5 236.6 363.7 235.1 366.2 233.6 368 233 368.7 231.3 370.3 230.5 371.3 229.1 371 226.9 373.2 226.4 375.4 224.8 379.1 224.5 380.1 221.5 382.6 220 385.1 218.4 388.3 218.8 389.5 216.5 390.8 215.2 392.7 214.6 394.6 212.3 394.6 210 394.3 208.1 393 206.9 392.2 204.1 391.7 201.4M388.3 216.5 388.1 214.4 390.1 213.8 387.6 212.3 389.5 211.4 391.4 210.7 388.9 209.2 390.8 209.1 392 207.6 387.6 208.4M391.7 201.4 389.5 201 388.9 199 389.5 196.6 389.2 194.2 389.5 192.3 387.6 191.1 385.7 190.3 384.8 188.6 384.5 186.2 384.8 185 383.2 183.8 382 183 380.1 182.2M389.5 192.3 388.3 190.3 388.9 187.8 387.9 185.4 388.6 183 389.5 181.8 390.8 180.1 391.7 179.7 392.7 178.8M385.1 189.5 387 188.6 387.6 191.1M388.9 195.8 386.9 195.9 385.7 194.2 387.6 196.6M391.7 179.7 390.1 182.2 390.8 185 389.5 187 389.4 189.3 391.4 190.3 392 192.7 391.7 195.8 391.4 199.4 392 199.4 393.3 197.8 393.9 195.8 394.6 194.4 395.5 193.1 396.4 191.1 397.4 189 397.1 186.2 396.3 184.5 395.2 183 394.2 180.1 394.2 178.1M392.7 178.8 392.7 189 397.4 189M393.6 193.1 396.2 192.4M394.2 178.1 396.4 177.3 397.7 176 399.3 174.8 397.7 172.7 396.4 170.3 397.4 168.2 398.3 166.5 399.6 165.3M392.7 178.8 394.6 177.8 395.1 178.1M395.4 159.8 397.1 161.5 398.3 164 399.6 165.3M399.6 165.3 401 166.7 402.9 167.3 404.6 168.3M404.6 168.3 404 170.3 402.4 172.3 404 173.2 403.7 176.5 403.4 178.5 402.1 180.5 400.2 182.6 398.3 185 398 183 395.8 181.8 394.2 179.7M404 171.5 407.1 171.5 410.3 170.7 413.4 169.8 415.4 169.8 416.6 168.2 414.1 168.6 411.5 168.6 408.4 169 405.9 169.4 404.6 169.8M367.7 157.5 370 156 372.5 154.2 373.2 152.1 372.2 150.4 372.2 148.9 375.7 148 378.8 148 381.3 149.1 385.1 148.8 387.6 147.8 390.1 146.5 390.1 143.4 389.2 141.7 390.3 140.2 392 139.5 393.4 137.7 395.2 136.4 397 135.9 397.7 134.2 399.6 133.7 408.1 133.7M408.1 133.7 419.7 133.6 421.1 132.4 422.4 131.1M408.1 133.7 408.1 138.2 407.8 142.6 408.9 144.4 408.7 146.5 408.7 151.2 408.6 153.4M408.6 153.4 407.4 155.2 406.6 157.1 407.1 159.4 407.1 165.7 406.2 168.2M413.1 153.6 413.7 151.2 414.1 146.9 415.3 144.3 415.6 142 416.6 139.9 417.1 137.9 419.1 137.3 419.7 133.6M408.6 153.4 413.7 153.6 421 153.8 422.9 153 424.1 152.4M424.8 150.5 423.8 148.8 423.1 146.9 422.9 142.6 422.6 135.5 422.4 131.1M422.4 131.1 424.1 129.7 425 128.1 426 126.6 426.4 124.7 427.3 122.9 428.9 120.9 428.5 118.4 429.2 113.8M407.1 159.4 417.8 159.6 420.5 159.6 420.5 164M417.8 159.6 417.5 165.5M406.2 168.2 408.4 167.2 410.3 166.5 412.8 165.9 415.3 165.7 417.5 165.5 419.7 165.1 421 164 422.2 164 423.5 163.6 425.4 163.6 427.9 162.7 429.2 161.9 429.2 159.4 427.9 159.4 426 161 425.1 159.8 424.8 157.7 423.5 156 424.1 153.8 424.1 152.4 424.8 150.5 425.1 148.7 426.6 147.8 427.9 145.6 429.2 144.3M429.2 144.3 429.2 113.8M318.8 161.8 320.3 162.7 322.2 162.5 323.7 161.5 325.3 158.9 326.6 156.4 327.2 153 326.9 149.5 327.2 147.5 325.6 146.1 325.9 142.6 325.7 140.5 327.2 139.1 327.1 137.1 328.2 135.5 329.9 134.3 331 132.4 331.6 135.5 332.6 133.7 334.1 132.6 334.1 130.6 335.2 129 335.1 127 337.3 126.6 339.8 128.2 342.3 129.7 343.4 131 344.8 132 345.5 135.5 345.1 139.5 344.3 141 343.6 142.6 342.5 144 341.7 145.6 343.2 144.9 344.2 143.4 345.7 142.7 347.3 142.1 349.2 143 349.7 145 350.5 146.9 350.8 151.2 350.5 154.7 348.6 156.4 346.7 158.1 346.1 160.2 344.5 162.1M300.6 119.6 303.3 119.1 305.1 118.7 306.4 117.5 309.6 116.5 311.2 115.8 312.7 115.2 314.6 112.8 316.5 111.4 315.2 112.5 314.5 114 314 115.6 315.9 116.5 315.8 118.7 317.8 119.1 319 120.2 322.2 120.7 325.3 120.2 326.8 119.2 328.5 118.8 331.6 118.4 334.8 117.9 336.6 120.2 338.5 120.2 340.4 121.1 341.1 123.9 339.6 124.7 337.9 124.9 334.8 124.3 331.6 124.8 329.1 125.2 326.6 126.1 324.7 127.9 322.8 126.6 320.3 128.4 319.7 129.9 318.4 131.1 318.4 132.8M317.1 155.5 316.8 151.2 316.5 147.8 316.9 146 317.8 144.3 318.4 140.8 319 137.3 320.5 135.7 321.5 133.7 322.2 131.5 319.6 132.4 319 135.1 317.1 136.8 315.9 137.7 314.7 135.5 317.1 134.6 318.4 132.8M317.1 155.5 318.4 157 318.1 158.9 318.4 161 318.8 161.8M344.5 162.1 346.7 163.2 349.2 164.4 351.8 164.8 354.3 164 355.9 163.5 357.4 162.7 359.9 161 361.5 160.8 363 159.9 365.6 158.9 367.7 157.5" fill="none" stroke="#000" stroke-width="2.9" stroke-linejoin="round"/><path d="M258.3 282.4 257.7 279.9 257 276.4 256.7 272.8 258 270 259.1 268.7 259.9 267.2 260.9 265.8 262.4 265 264.2 264.7 265.5 263.6 267.2 262.9 268.7 261.8 270 260.2 271.8 259.3 273.4 258.2 272.1 256.4 273.7 255.3 276.2 256.4 279.1 255.7M279.1 255.7 281.9 255.2 283.6 257.5 286.3 256.4 288.8 256.7 291.3 255.7 293.9 257.1 295.7 258.9 298.3 260 300.8 259.6 302.7 258.9 304.6 258.2 307.1 260 308.6 260.7 307.7 258.6 306.4 257.1 305.2 255.7 306.8 253.8 305.2 252.9 305.8 252.2M305.8 252.2 307.8 251.7 309.6 250.7 313.4 250.7 315.3 249.1 315.9 251.3 318.4 251.5 320.2 250.6 322.2 250.6 325.3 250.6 328.5 251.3 331 252.8 331.8 254.2 332.6 255.7 335.4 255.3 336.9 254.4 338.5 253.8 341.1 252.8 342.9 254.2 343.9 255.6 344.8 257.1 346.7 259.3 348.6 261.4 348.9 265 348.6 267.9 349.9 270 349.6 272.1 352.1 272.6 351.1 275 352.4 277.1 354.3 279.2 354.9 282 356.8 283.4 358.7 285.5 359.6 287.6 362.5 287.6 363.7 286.9 364.3 284.8 365.3 282 365.9 278.5 365.9 275.7 365 272.8 364 271.2 363.7 269.3 363.8 267.3 362.5 265.7 362.1 263.6 360.6 262.6 360.6 260.7 359.7 258.9 359 257.1 359.2 255.1 358 253.5 357.4 250.6 357.1 248.4M357.1 248.4 357.7 245.4 358.7 242.5 359.3 239.5 360.6 238.4 362.5 236.6 363.7 235.1 366.2 233.6 367.9 232.9 368.7 231.3 370.8 231 371.3 229.1 371.2 227 373.2 226.4 375.4 224.8 379.1 224.5 380.1 221.5 382.6 220 385.1 218.4 388.3 218.8 389.5 216.5 391 215.3 392.7 214.6 394.6 212.3 394.6 210 393.5 208.5 393 206.9 392.2 204.1 391.7 201.4M388.3 216.5 389.6 215.5 390.1 213.8 387.6 212.3 389.8 212.3 391.4 210.7 388.9 209.2 389.6 206.6 392 207.6 387.6 208.4M391.7 201.4 389.5 201 388.9 199 389.5 196.6 389.2 194.2 389.5 192.3 387.6 191.1 385.7 190.3 384.8 188.6 384.5 186.2 384.8 185 383.2 183.8 382 183 380.1 182.2M389.5 192.3 388.3 190.3 388.9 187.8 387.9 185.4 388.6 183 389.5 181.8 390.8 180.1 391.7 179.7 392.7 178.8M385.1 189.5 387 188.6 387.6 191.1M388.9 195.8 387.7 194.3 385.7 194.2 387.6 196.6M391.7 179.7 390.1 182.2 390.8 185 389.5 187 391.4 188.1 391.4 190.3 392 192.7 391.7 195.8 391.4 199.4 392 199.4 393.4 197.9 393.9 195.8 393.7 193.9 395.5 193.1 396.4 191.1 397.4 189 397.1 186.2 396.2 184.5 395.2 183 394.2 180.1 394.2 178.1M392.7 178.8 392.7 189 397.4 189M393.6 193.1 396.2 192.4M404.6 168.3 404 170.3 402.4 172.3 404 173.2 403.7 176.5 403.4 178.5 402.1 180.5 400.2 182.6 398.3 185 398 183 395.8 181.8 394.2 179.7M404 171.5 407.1 171.5 410.3 170.7 413.4 169.8 415.4 169.8 416.6 168.2 414.1 168.6 411.5 168.6 408.4 169 405.9 169.4 404.6 169.8M406.2 168.2 408.4 167.2 410.3 166.5 412.8 165.9 415.3 165.7 417.5 165.5 419.7 165.1 421 164 422.2 164 423.5 163.6 425.4 163.6 427.9 162.7 429.2 161.9 429.2 159.4 427.9 159.4 426 161 425.1 159.8 424.8 157.7 423.5 156 424.1 153.8 424.1 152.4 424.8 150.5 425.6 149.1 426.6 147.8 427.9 145.6 429.2 144.3" fill="none" stroke="#000" stroke-width="3.6" stroke-linejoin="round"/><polygon points="396.2,166.5 401,168.4 403,173.3 400.5,181 398,188.8 395.5,196.6 393.5,204.4 395.5,212.5 391,216.5 386.5,212 387,205 383,198 386,193 384,187 386,182 390,179.5 395,177.5 397,172.3"/><polygon points="403,168 410,165 418,162 428,158.5 430,160.5 422,165 414,169 406,172.5 402,172"/><polygon points="299,252 304,249.5 309,251 311,256 311,263 306,262 302,258 298,256"/></g></g><g transform="translate(0,0)"><text x="163.3" y="112.9" text-anchor="end" class="lb" textLength="16.7" lengthAdjust="spacingAndGlyphs">48</text><circle cx="168" cy="99.5" r="1.2" class="dg"/><text x="175.7" y="112.9" class="lb" textLength="9.2" lengthAdjust="spacingAndGlyphs">N</text><text x="163.3" y="130.8" text-anchor="end" class="lb" textLength="16.7" lengthAdjust="spacingAndGlyphs">46</text><circle cx="168" cy="117.5" r="1.2" class="dg"/><text x="175.7" y="130.8" class="lb" textLength="9.2" lengthAdjust="spacingAndGlyphs">N</text><text x="163.3" y="147.8" text-anchor="end" class="lb" textLength="16.7" lengthAdjust="spacingAndGlyphs">44</text><circle cx="168" cy="134.4" r="1.2" class="dg"/><text x="175.7" y="147.8" class="lb" textLength="9.2" lengthAdjust="spacingAndGlyphs">N</text><text x="163.3" y="166.7" text-anchor="end" class="lb" textLength="16.7" lengthAdjust="spacingAndGlyphs">42</text><circle cx="168" cy="153.3" r="1.2" class="dg"/><text x="175.7" y="166.7" class="lb" textLength="9.2" lengthAdjust="spacingAndGlyphs">N</text><text x="163.3" y="182.9" text-anchor="end" class="lb" textLength="16.7" lengthAdjust="spacingAndGlyphs">40</text><circle cx="168" cy="169.5" r="1.2" class="dg"/><text x="175.7" y="182.9" class="lb" textLength="9.2" lengthAdjust="spacingAndGlyphs">N</text><text x="163.3" y="197.9" text-anchor="end" class="lb" textLength="16.7" lengthAdjust="spacingAndGlyphs">38</text><circle cx="168" cy="184.5" r="1.2" class="dg"/><text x="175.7" y="197.9" class="lb" textLength="9.2" lengthAdjust="spacingAndGlyphs">N</text><text x="163.3" y="214.9" text-anchor="end" class="lb" textLength="16.7" lengthAdjust="spacingAndGlyphs">36</text><circle cx="168" cy="201.5" r="1.2" class="dg"/><text x="175.7" y="214.9" class="lb" textLength="9.2" lengthAdjust="spacingAndGlyphs">N</text><text x="163.3" y="228.9" text-anchor="end" class="lb" textLength="16.7" lengthAdjust="spacingAndGlyphs">34</text><circle cx="168" cy="215.5" r="1.2" class="dg"/><text x="175.7" y="228.9" class="lb" textLength="9.2" lengthAdjust="spacingAndGlyphs">N</text><text x="163.3" y="245.8" text-anchor="end" class="lb" textLength="16.7" lengthAdjust="spacingAndGlyphs">32</text><circle cx="168" cy="232.4" r="1.2" class="dg"/><text x="175.7" y="245.8" class="lb" textLength="9.2" lengthAdjust="spacingAndGlyphs">N</text><text x="163.3" y="259.9" text-anchor="end" class="lb" textLength="16.7" lengthAdjust="spacingAndGlyphs">30</text><circle cx="168" cy="246.5" r="1.2" class="dg"/><text x="175.7" y="259.9" class="lb" textLength="9.2" lengthAdjust="spacingAndGlyphs">N</text><text x="163.3" y="273.1" text-anchor="end" class="lb" textLength="16.7" lengthAdjust="spacingAndGlyphs">28</text><circle cx="168" cy="259.7" r="1.2" class="dg"/><text x="175.7" y="273.1" class="lb" textLength="9.2" lengthAdjust="spacingAndGlyphs">N</text><text x="163.3" y="287.8" text-anchor="end" class="lb" textLength="16.7" lengthAdjust="spacingAndGlyphs">26</text><circle cx="168" cy="274.4" r="1.2" class="dg"/><text x="175.7" y="287.8" class="lb" textLength="9.2" lengthAdjust="spacingAndGlyphs">N</text><text x="163.3" y="301.9" text-anchor="end" class="lb" textLength="16.7" lengthAdjust="spacingAndGlyphs">24</text><circle cx="168" cy="288.5" r="1.2" class="dg"/><text x="175.7" y="301.9" class="lb" textLength="9.2" lengthAdjust="spacingAndGlyphs">N</text><text x="163.3" y="315.4" text-anchor="end" class="lb" textLength="16.7" lengthAdjust="spacingAndGlyphs">22</text><circle cx="168" cy="302" r="1.2" class="dg"/><text x="175.7" y="315.4" class="lb" textLength="9.2" lengthAdjust="spacingAndGlyphs">N</text></g><g transform="translate(0,0)"><text x="216" y="77" class="lb lo" textLength="24.4" lengthAdjust="spacingAndGlyphs">100</text><circle cx="244.8" cy="64.4" r="1.2" class="dg"/><text x="252.8" y="77" class="lb lo" textLength="12.8" lengthAdjust="spacingAndGlyphs">W</text><text x="284.8" y="77" class="lb lo" textLength="15.6" lengthAdjust="spacingAndGlyphs">90</text><circle cx="304.8" cy="64.4" r="1.2" class="dg"/><text x="314" y="77" class="lb lo" textLength="12.4" lengthAdjust="spacingAndGlyphs">W</text><text x="348.8" y="77" class="lb lo" textLength="16.8" lengthAdjust="spacingAndGlyphs">80</text><circle cx="370" cy="64.4" r="1.2" class="dg"/><text x="377.6" y="77" class="lb lo" textLength="13.2" lengthAdjust="spacingAndGlyphs">W</text><text x="412" y="77" class="lb lo" textLength="15.2" lengthAdjust="spacingAndGlyphs">70</text><circle cx="431.6" cy="64.4" r="1.2" class="dg"/><text x="440.4" y="77" class="lb lo" textLength="13.2" lengthAdjust="spacingAndGlyphs">W</text></g><g transform="translate(0,0)"><rect x="441.5" y="95.5" width="23" height="215" fill="url(#jetg)" stroke="#1a1a1a" stroke-width="0.9"/><text x="474.2" y="127.2" class="cb" textLength="41.8" lengthAdjust="spacingAndGlyphs">300</text><line x1="461.5" x2="464.8" y1="119.2" y2="119.2" stroke="#262626" stroke-width="0.8"/><text x="474.2" y="173.1" class="cb" textLength="41.8" lengthAdjust="spacingAndGlyphs">290</text><line x1="461.5" x2="464.8" y1="165.1" y2="165.1" stroke="#262626" stroke-width="0.8"/><text x="474.2" y="219" class="cb" textLength="41.8" lengthAdjust="spacingAndGlyphs">280</text><line x1="461.5" x2="464.8" y1="211" y2="211" stroke="#262626" stroke-width="0.8"/><text x="474.2" y="264.8" class="cb" textLength="41.8" lengthAdjust="spacingAndGlyphs">270</text><line x1="461.5" x2="464.8" y1="256.8" y2="256.8" stroke="#262626" stroke-width="0.8"/><text x="474.2" y="310.7" class="cb" textLength="41.8" lengthAdjust="spacingAndGlyphs">260</text><line x1="461.5" x2="464.8" y1="302.7" y2="302.7" stroke="#262626" stroke-width="0.8"/></g><text x="129.6" y="341.1" class="tt" textLength="356.5" lengthAdjust="spacingAndGlyphs">SAT+RAP 850 hPa Temp (K)</text><g transform="translate(420.8,0)"><rect x="196.3" y="96.8" width="232.9" height="212.8" fill="#fff" stroke="#000" stroke-width="1.1"/><g clip-path="url(#swclip)"><g filter="url(#bl)"><g fill="none" stroke-width="6" stroke-linecap="round"><path stroke="#00ffff" d="M308 130h0M312 130h0M308 134h0M316 138h0M320 138h0M312 142h0M316 146h0M320 146h0M324 146h0M320 154h0M336 154h0M332 158h0M332 162h0M336 162h0M336 170h0M336 174h0M340 174h0M332 178h0M336 178h0M340 178h0M344 178h0M336 182h0M340 186h0M340 190h0M344 190h0M344 194h0M352 194h0M364 202h0M356 206h0M360 206h0M380 210h0M388 210h0M380 214h0M388 214h0M376 218h0M392 218h0M380 222h0M372 230h0M376 230h0M392 230h0M396 230h0M412 230h0M372 234h0M380 234h0M392 234h0M404 234h0M408 234h0M412 234h0M420 234h0M432 234h0M388 238h0M424 238h0M432 238h0"/><path stroke="#0066ff" d="M336 118h0M360 142h0M360 146h0M360 150h0M432 154h0M420 158h0M364 162h0M424 162h0M428 162h0M364 166h0M368 166h0M404 166h0M412 166h0M428 166h0M392 170h0M400 170h0M368 174h0M388 174h0M380 178h0M384 178h0"/><path stroke="#fff200" d="M384 274h0M392 274h0M396 274h0M408 274h0M388 278h0M396 282h0M384 286h0M388 286h0M400 286h0M388 290h0M396 290h0M404 294h0"/><path stroke="#59ffa6" d="M308 210h0M316 218h0M320 222h0M324 222h0M320 226h0M328 226h0M316 230h0M324 234h0M340 238h0M344 238h0M356 246h0M416 246h0M420 246h0M360 250h0M364 250h0M404 250h0M416 250h0M424 250h0M368 254h0M376 254h0"/><path stroke="#0dfff2" d="M300 134h0M312 134h0M312 138h0M320 142h0M328 146h0M300 150h0M320 150h0M328 150h0M324 154h0M324 158h0M328 166h0M328 178h0M336 190h0M344 198h0M348 198h0M352 198h0M356 202h0M328 206h0M348 206h0M368 210h0M372 210h0M376 210h0M372 214h0M376 214h0M384 218h0M364 222h0M372 222h0M372 226h0M376 226h0M388 230h0M372 238h0M380 238h0M384 238h0M392 238h0M396 238h0M408 238h0M412 238h0M420 238h0M428 238h0M372 242h0M380 242h0M384 242h0M392 242h0M412 242h0"/><path stroke="#ffd900" d="M400 274h0M384 278h0M400 278h0M388 282h0M396 286h0"/><path stroke="#ccff33" d="M328 254h0M328 258h0M332 262h0M336 262h0M332 266h0M340 266h0M384 266h0M392 266h0M396 266h0M412 266h0M340 270h0M380 270h0M412 270h0M420 270h0M432 270h0M424 274h0M344 278h0M368 278h0M432 278h0M360 282h0M368 282h0M352 286h0M360 286h0M368 290h0M376 290h0M432 290h0M348 294h0M356 294h0M364 294h0M400 294h0M408 294h0M420 294h0M424 294h0M384 298h0M404 298h0M412 298h0M416 298h0M432 298h0M360 302h0M364 302h0M368 302h0M372 302h0M376 302h0M384 302h0M388 302h0M416 302h0M424 302h0M428 302h0M432 302h0M372 306h0M380 306h0M384 306h0M392 306h0M412 306h0M416 306h0M428 306h0M372 310h0M380 310h0M392 310h0M396 310h0M412 310h0M428 310h0"/><path stroke="#000dff" d="M416 94h0M420 94h0M428 94h0M372 102h0M380 102h0M388 102h0M392 102h0M404 102h0M416 102h0M432 102h0M364 106h0M384 106h0M420 106h0M424 106h0M364 110h0M380 110h0M396 110h0M400 110h0M404 110h0M408 110h0M424 110h0M352 114h0M364 114h0M372 114h0M384 114h0M404 114h0M416 114h0M428 114h0M432 114h0M364 118h0M372 118h0M380 118h0M384 118h0M392 118h0M404 118h0M420 118h0M424 118h0M428 118h0M432 118h0M368 122h0M372 122h0M408 122h0M420 122h0M424 122h0M428 122h0M368 126h0M372 126h0M384 126h0M388 126h0M396 126h0M416 126h0M428 126h0M376 130h0M388 130h0M392 130h0M428 130h0M432 130h0M384 134h0M420 134h0M424 134h0M380 138h0M404 138h0M380 142h0M392 142h0M408 142h0M384 146h0M376 154h0"/><path stroke="#66ff99" d="M320 238h0M328 238h0M332 242h0M336 242h0M340 242h0M348 246h0M352 246h0M352 250h0M356 250h0M408 250h0M420 250h0M428 250h0M364 254h0M388 254h0M396 254h0M400 254h0M360 258h0M368 258h0M376 258h0M388 258h0"/><path stroke="#0099ff" d="M340 130h0M352 170h0M420 170h0M424 170h0M432 170h0M356 174h0M404 174h0M408 174h0M428 174h0M400 178h0M416 178h0M360 182h0M364 182h0M392 182h0M404 182h0M408 182h0M424 182h0M368 186h0M372 186h0M388 190h0M432 194h0M428 202h0M416 210h0"/><path stroke="#d9ff26" d="M328 262h0M400 266h0M404 266h0M408 266h0M416 266h0M336 270h0M376 270h0M416 270h0M336 274h0M344 274h0M348 274h0M372 274h0M348 278h0M372 278h0M428 278h0M336 282h0M348 282h0M372 282h0M424 282h0M428 282h0M432 282h0M348 286h0M356 286h0M420 286h0M424 286h0M432 286h0M352 290h0M356 290h0M412 290h0M420 290h0M424 290h0M340 294h0M368 294h0M372 294h0M376 294h0M380 294h0M396 294h0M416 294h0M432 294h0M340 298h0M356 298h0M376 298h0M388 298h0M396 298h0M408 298h0M344 302h0M380 302h0M408 302h0M356 306h0M360 306h0M364 306h0M368 306h0M388 306h0M396 306h0M404 306h0M408 306h0M420 306h0M352 310h0M376 310h0M384 310h0M404 310h0M408 310h0M420 310h0M424 310h0M432 310h0"/><path stroke="#b3ff4c" d="M404 262h0M424 262h0M344 266h0M352 266h0M428 266h0M348 270h0M352 270h0M372 270h0M356 274h0M360 278h0M364 278h0"/><path stroke="#33ffcc" d="M288 134h0M292 134h0M284 142h0M288 142h0M292 142h0M296 142h0M308 142h0M288 146h0M292 146h0M300 146h0M304 146h0M312 154h0M300 158h0M304 158h0M320 158h0M292 162h0M296 162h0M292 166h0M308 166h0M312 166h0M324 166h0M300 170h0M316 170h0M320 170h0M296 174h0M308 174h0M316 174h0M324 174h0M312 178h0M316 178h0M312 182h0M316 182h0M324 182h0M332 182h0M312 186h0M320 186h0M304 190h0M308 190h0M304 194h0M312 194h0M316 194h0M324 194h0M308 198h0M316 198h0M324 198h0M316 202h0M324 202h0M332 202h0M312 206h0M316 206h0M340 206h0M352 206h0M336 210h0M344 210h0M340 214h0M356 214h0M360 214h0M336 218h0M340 218h0M356 218h0M336 222h0M348 222h0M356 226h0M360 226h0M364 226h0M328 230h0M332 230h0M336 230h0M344 230h0M368 230h0M340 234h0M348 234h0M364 234h0M368 242h0M396 242h0M416 242h0M420 242h0M424 242h0M432 242h0M372 246h0M380 246h0M388 246h0M404 246h0M408 246h0M424 246h0M372 250h0M384 250h0"/><path stroke="#008cff" d="M348 138h0M348 142h0M356 162h0M356 166h0M360 166h0M420 166h0M356 170h0M412 170h0M428 170h0M396 178h0M376 182h0M380 182h0M396 182h0M376 186h0M380 186h0M424 190h0M420 194h0"/><path stroke="#00f2ff" d="M316 134h0M332 138h0M316 142h0M324 142h0M328 142h0M332 146h0M332 150h0M332 154h0M332 166h0M336 166h0M332 170h0M340 170h0M340 182h0M348 190h0M352 190h0M348 194h0M356 194h0M364 194h0M356 198h0M360 198h0M364 198h0M372 198h0M376 198h0M368 202h0M372 202h0M376 202h0M380 202h0M372 206h0M376 206h0M380 206h0M384 206h0M384 214h0M396 214h0M376 222h0M384 222h0M388 222h0M392 222h0M396 222h0M380 226h0M384 226h0M392 226h0M384 230h0M404 230h0M432 230h0M384 234h0M388 234h0M416 234h0M424 234h0M428 234h0"/><path stroke="#99ff66" d="M320 242h0M332 250h0M340 250h0M340 254h0M340 258h0M400 258h0M412 258h0M416 258h0M424 258h0M348 262h0M360 262h0M392 262h0M412 262h0M428 262h0M432 262h0M348 266h0M364 266h0M372 266h0M376 266h0M364 270h0M360 274h0"/><path stroke="#0000f2" d="M412 94h0M412 98h0M424 98h0M420 102h0M424 102h0M428 102h0M408 106h0M412 106h0M416 106h0M432 110h0M412 114h0M420 114h0M424 114h0M412 118h0M416 118h0"/><path stroke="#0040ff" d="M352 130h0M364 138h0M364 146h0M392 146h0M428 146h0M372 150h0M424 150h0M368 154h0M408 154h0M420 154h0M376 158h0M396 158h0M400 158h0M416 158h0M428 158h0M368 162h0M380 162h0M388 162h0M396 162h0M376 166h0M384 166h0M388 166h0M380 170h0M376 174h0"/><path stroke="#0073ff" d="M332 118h0M336 122h0M344 126h0M352 134h0M352 138h0M356 142h0M352 146h0M360 158h0M364 158h0M360 162h0M420 162h0M400 166h0M408 166h0M416 166h0M360 170h0M364 170h0M360 174h0M392 174h0M372 178h0M384 182h0"/><path stroke="#00d9ff" d="M312 126h0M316 130h0M320 130h0M324 134h0M328 134h0M324 138h0M328 138h0M336 138h0M332 142h0M340 142h0M336 146h0M336 150h0M340 154h0M344 166h0M344 170h0M344 174h0M352 174h0M348 182h0M348 186h0M356 186h0M356 190h0M420 190h0M360 194h0M368 194h0M368 198h0M380 198h0M428 198h0M392 202h0M388 206h0M392 206h0M396 206h0M408 206h0M396 210h0M408 210h0M400 218h0M404 218h0M424 218h0M416 222h0M424 222h0M432 222h0M400 226h0M404 226h0M424 226h0M432 226h0M400 230h0M428 230h0"/><path stroke="#ffff00" d="M400 270h0M332 274h0M416 274h0M376 278h0M408 278h0M412 278h0M344 282h0M416 282h0M376 286h0M404 286h0M408 286h0M344 290h0M392 290h0M400 290h0M404 290h0M408 290h0M352 298h0M348 310h0M364 310h0"/><path stroke="#0000e6" d="M388 114h0"/><path stroke="#004dff" d="M340 114h0M352 126h0M356 130h0M356 138h0M432 150h0M364 154h0M372 154h0M368 158h0M404 158h0M424 158h0M432 158h0M376 162h0M400 162h0M404 162h0M372 166h0M392 166h0M376 170h0M384 170h0M380 174h0M384 174h0M376 178h0"/><path stroke="#0080ff" d="M332 122h0M340 122h0M336 126h0M340 126h0M344 130h0M348 130h0M348 134h0M352 142h0M356 146h0M356 150h0M356 154h0M360 154h0M424 166h0M432 166h0M404 170h0M408 170h0M416 170h0M364 174h0M396 174h0M400 174h0M412 174h0M364 178h0M368 178h0M388 178h0M392 178h0M368 182h0M372 182h0"/><path stroke="#1affe5" d="M296 130h0M300 130h0M304 130h0M304 134h0M280 138h0M296 138h0M304 138h0M308 146h0M316 150h0M324 150h0M328 154h0M328 158h0M324 162h0M328 162h0M304 166h0M328 174h0M332 174h0M324 178h0M304 182h0M336 186h0M312 190h0M324 190h0M332 190h0M328 194h0M332 194h0M336 194h0M340 198h0M328 202h0M336 202h0M344 202h0M348 202h0M352 202h0M344 206h0M364 206h0M368 206h0M328 210h0M348 210h0M352 210h0M344 214h0M352 214h0M332 218h0M360 218h0M364 218h0M368 218h0M372 218h0M380 218h0M344 222h0M352 226h0M368 226h0M356 230h0M364 230h0M380 230h0M368 234h0M376 234h0M368 238h0M376 238h0M400 238h0M404 238h0M416 238h0M376 242h0M388 242h0M400 242h0M408 242h0M392 246h0"/><path stroke="#0026ff" d="M388 98h0M368 106h0M396 106h0M400 106h0M352 110h0M356 110h0M344 114h0M348 114h0M360 114h0M400 114h0M356 118h0M388 118h0M396 118h0M356 122h0M360 122h0M364 122h0M384 122h0M356 126h0M376 126h0M404 126h0M424 126h0M432 126h0M372 130h0M404 130h0M360 134h0M364 134h0M368 134h0M372 134h0M380 134h0M400 134h0M432 134h0M360 138h0M368 138h0M372 138h0M396 138h0M420 138h0M432 138h0M368 142h0M384 142h0M396 142h0M404 142h0M412 142h0M416 142h0M424 142h0M428 142h0M376 146h0M380 146h0M396 146h0M400 146h0M404 146h0M420 146h0M424 146h0M376 150h0M380 150h0M392 150h0M396 150h0M412 150h0M420 150h0M428 150h0M380 154h0M392 154h0M416 154h0M380 158h0M388 158h0"/><path stroke="#e5ff1a" d="M332 270h0M404 270h0M340 274h0M420 274h0M428 274h0M432 274h0M424 278h0M340 282h0M408 282h0M336 286h0M340 286h0M348 290h0M372 290h0M380 290h0M416 290h0M428 290h0M360 294h0M384 294h0M412 294h0M348 298h0M364 298h0M368 298h0M372 298h0M392 298h0M400 298h0M424 298h0M356 302h0M392 302h0M396 302h0M400 302h0M404 302h0M412 302h0M344 306h0M348 306h0M352 306h0M400 306h0M360 310h0M416 310h0"/><path stroke="#f2ff0d" d="M384 270h0M388 270h0M392 270h0M396 270h0M408 270h0M376 274h0M380 274h0M388 274h0M412 274h0M336 278h0M380 278h0M416 278h0M420 278h0M376 282h0M412 282h0M420 282h0M344 286h0M372 286h0M380 286h0M412 286h0M416 286h0M428 286h0M340 290h0M384 290h0M344 294h0M352 294h0M388 294h0M392 294h0M428 294h0M344 298h0M340 302h0M348 302h0M352 302h0M344 310h0M356 310h0M400 310h0"/><path stroke="#00b2ff" d="M320 122h0M320 126h0M332 126h0M328 130h0M340 134h0M348 146h0M348 150h0M348 154h0M348 162h0M352 162h0M352 166h0M356 178h0M412 178h0M432 178h0M412 182h0M416 182h0M432 182h0M360 186h0M396 186h0M404 186h0M424 186h0M380 190h0M400 190h0M408 190h0M412 190h0M416 190h0M396 194h0M408 194h0M416 194h0M424 194h0M388 198h0M404 198h0M412 198h0M420 198h0M432 198h0M404 202h0M412 202h0M416 202h0M432 202h0M416 206h0M412 210h0M424 210h0M428 210h0M416 214h0M432 214h0M412 218h0M420 218h0M428 218h0"/><path stroke="#0033ff" d="M392 106h0M340 118h0M344 118h0M348 118h0M352 118h0M360 118h0M348 122h0M352 122h0M392 126h0M360 130h0M392 138h0M428 138h0M364 142h0M372 142h0M420 142h0M432 142h0M368 146h0M372 146h0M408 146h0M412 146h0M432 146h0M408 150h0M400 154h0M404 154h0M412 154h0M424 154h0M428 154h0M372 158h0M392 158h0M412 158h0M384 162h0M392 162h0M380 166h0"/><path stroke="#4dffb2" d="M284 146h0M296 146h0M288 158h0M296 158h0M300 162h0M312 174h0M304 186h0M308 186h0M316 190h0M312 210h0M316 210h0M320 210h0M324 214h0M340 222h0M320 234h0M332 234h0M332 238h0M336 238h0M348 238h0M344 242h0M348 242h0M352 242h0M360 246h0M428 246h0M368 250h0M380 250h0M396 250h0M400 250h0M412 250h0M432 250h0M356 254h0M372 254h0M380 254h0M364 258h0"/><path stroke="#0019ff" d="M392 98h0M396 98h0M400 98h0M408 98h0M432 98h0M384 102h0M400 102h0M408 102h0M412 102h0M372 106h0M376 106h0M380 106h0M428 106h0M432 106h0M360 110h0M372 110h0M376 110h0M388 110h0M392 110h0M428 110h0M368 114h0M376 114h0M380 114h0M396 114h0M368 118h0M376 118h0M408 118h0M376 122h0M380 122h0M396 122h0M404 122h0M416 122h0M432 122h0M360 126h0M364 126h0M400 126h0M364 130h0M368 130h0M384 130h0M396 130h0M400 130h0M408 130h0M412 130h0M416 130h0M420 130h0M376 134h0M392 134h0M396 134h0M404 134h0M408 134h0M412 134h0M416 134h0M428 134h0M376 138h0M388 138h0M400 138h0M408 138h0M412 138h0M416 138h0M424 138h0M376 142h0M400 142h0M416 146h0M384 150h0M388 150h0M400 150h0M404 150h0M416 150h0M384 154h0M388 154h0M396 154h0M384 158h0"/><path stroke="#ffe500" d="M404 274h0M404 278h0M380 282h0M384 282h0M392 282h0M400 282h0M404 282h0M392 286h0"/><path stroke="#00ccff" d="M316 126h0M324 126h0M332 134h0M336 134h0M340 138h0M340 146h0M340 158h0M344 158h0M348 158h0M344 162h0M348 166h0M348 174h0M352 178h0M356 182h0M372 194h0M376 194h0M380 194h0M404 194h0M412 194h0M384 198h0M396 198h0M384 202h0M388 202h0M396 202h0M400 202h0M400 206h0M392 210h0M392 214h0M404 214h0M416 218h0M432 218h0M404 222h0M408 222h0M412 222h0M428 222h0M412 226h0M416 226h0M420 226h0"/><path stroke="#8cff73" d="M324 242h0M328 242h0M324 246h0M332 246h0M336 254h0M432 254h0M348 258h0M352 258h0M408 258h0M356 262h0M372 262h0M376 262h0M380 262h0M384 262h0M420 262h0M356 266h0M368 266h0"/><path stroke="#bfff40" d="M324 250h0M328 250h0M332 258h0M336 258h0M340 262h0M400 262h0M336 266h0M388 266h0M420 266h0M424 266h0M344 270h0M368 270h0M424 270h0M428 270h0M352 274h0M364 274h0M368 274h0M340 278h0M352 278h0M352 282h0M364 282h0M364 286h0M368 286h0M360 290h0M364 290h0M360 298h0M380 298h0M420 298h0M428 298h0M420 302h0M376 306h0M424 306h0M432 306h0M368 310h0M388 310h0"/><path stroke="#00e5ff" d="M308 126h0M324 130h0M320 134h0M336 142h0M340 150h0M336 158h0M340 162h0M340 166h0M348 178h0M344 182h0M344 186h0M352 186h0M384 210h0M400 210h0M404 210h0M400 214h0M388 218h0M396 218h0M400 222h0M388 226h0M396 226h0M408 226h0M408 230h0M416 230h0M420 230h0M424 230h0M396 234h0M400 234h0"/><path stroke="#80ff80" d="M328 246h0M336 246h0M344 250h0M348 250h0M344 254h0M408 254h0M412 254h0M420 254h0M356 258h0M372 258h0M384 258h0M392 258h0M396 258h0M420 258h0M432 258h0"/><path stroke="#00bfff" d="M324 122h0M328 126h0M332 130h0M344 138h0M344 142h0M344 146h0M344 150h0M344 154h0M348 170h0M420 178h0M424 178h0M352 182h0M420 182h0M416 186h0M360 190h0M364 190h0M368 190h0M372 190h0M384 190h0M392 190h0M384 194h0M388 194h0M392 194h0M400 198h0M416 198h0M420 202h0M424 202h0M404 206h0M412 206h0M420 206h0M424 206h0M408 214h0M412 214h0M420 214h0M408 218h0M420 222h0M428 226h0"/><path stroke="#a6ff59" d="M336 250h0M332 254h0M344 258h0M404 258h0M428 258h0M344 262h0M352 262h0M388 262h0M396 262h0M408 262h0M416 262h0M360 266h0M380 266h0M432 266h0M356 270h0M360 270h0M356 278h0M356 282h0"/><path stroke="#40ffbf" d="M288 150h0M292 150h0M296 150h0M288 154h0M304 154h0M292 158h0M312 162h0M296 166h0M300 166h0M296 170h0M300 174h0M320 174h0M300 178h0M308 178h0M320 190h0M320 198h0M312 202h0M320 202h0M308 206h0M332 206h0M332 210h0M312 214h0M316 214h0M320 214h0M328 214h0M332 214h0M320 218h0M324 218h0M328 218h0M316 222h0M332 222h0M352 222h0M316 226h0M324 226h0M332 226h0M336 226h0M340 226h0M348 226h0M320 230h0M324 230h0M340 230h0M360 230h0M328 234h0M336 234h0M344 234h0M352 234h0M352 238h0M356 238h0M360 238h0M364 238h0M356 242h0M360 242h0M364 242h0M364 246h0M376 246h0M384 246h0M396 246h0M412 246h0M432 246h0M376 250h0M388 250h0M384 254h0"/><path stroke="#0059ff" d="M344 122h0M348 126h0M356 134h0M364 150h0M368 150h0M408 158h0M372 162h0M408 162h0M412 162h0M416 162h0M432 162h0M396 166h0M368 170h0M372 170h0M388 170h0M396 170h0M372 174h0"/><path stroke="#0000ff" d="M408 94h0M424 94h0M404 98h0M416 98h0M420 98h0M428 98h0M376 102h0M396 102h0M388 106h0M404 106h0M368 110h0M384 110h0M412 110h0M416 110h0M420 110h0M356 114h0M392 114h0M408 114h0M400 118h0M388 122h0M392 122h0M400 122h0M412 122h0M380 126h0M408 126h0M412 126h0M420 126h0M380 130h0M424 130h0M388 134h0M384 138h0M388 142h0M388 146h0"/><path stroke="#73ff8c" d="M324 238h0M340 246h0M344 246h0M348 254h0M352 254h0M360 254h0M392 254h0M404 254h0M416 254h0M424 254h0M428 254h0M380 258h0M364 262h0M368 262h0"/><path stroke="#00a6ff" d="M328 122h0M336 130h0M344 134h0M352 150h0M352 154h0M352 158h0M356 158h0M416 174h0M420 174h0M424 174h0M432 174h0M360 178h0M404 178h0M408 178h0M428 178h0M388 182h0M400 182h0M428 182h0M364 186h0M384 186h0M388 186h0M392 186h0M400 186h0M408 186h0M412 186h0M420 186h0M428 186h0M432 186h0M376 190h0M396 190h0M404 190h0M428 190h0M432 190h0M400 194h0M428 194h0M392 198h0M408 198h0M424 198h0M408 202h0M428 206h0M432 206h0M420 210h0M432 210h0M424 214h0M428 214h0"/><path stroke="#26ffd9" d="M296 134h0M284 138h0M288 138h0M292 138h0M300 138h0M308 138h0M300 142h0M304 142h0M312 146h0M304 150h0M308 150h0M312 150h0M292 154h0M296 154h0M300 154h0M308 154h0M316 154h0M308 158h0M312 158h0M316 158h0M304 162h0M308 162h0M316 162h0M320 162h0M316 166h0M320 166h0M304 170h0M308 170h0M312 170h0M324 170h0M328 170h0M304 174h0M304 178h0M320 178h0M300 182h0M308 182h0M320 182h0M328 182h0M316 186h0M324 186h0M328 186h0M332 186h0M328 190h0M308 194h0M320 194h0M340 194h0M312 198h0M328 198h0M332 198h0M336 198h0M308 202h0M340 202h0M360 202h0M320 206h0M324 206h0M336 206h0M324 210h0M340 210h0M356 210h0M360 210h0M364 210h0M336 214h0M348 214h0M364 214h0M368 214h0M312 218h0M344 218h0M348 218h0M352 218h0M328 222h0M356 222h0M360 222h0M368 222h0M344 226h0M348 230h0M352 230h0M356 234h0M360 234h0M404 242h0M428 242h0M368 246h0M400 246h0M392 250h0"/><path stroke="#ffcc00" d="M392 278h0M396 278h0"/></g></g></g><g clip-path="url(#boxclip)"><path d="M196.3 96.8 270.9 96.8M214.9 96.8 214.9 168.2M196.3 133.7 214.9 133.7M214.9 125.3 262 125.3M214.9 151.2 249.8 151.2 251.7 152.3 254.2 152.5 256.7 152.4 259.2 153.2 261.1 154.7 262.7 155.6M196.3 168.2 227.5 168.2 227.5 200.6M227.5 176.5 269.9 176.5M196.3 200.6 274.2 200.6M221.5 200.6 221.5 204.5 240.4 204.5 240.4 219.5 242.2 220.7 244.1 220.7 245.4 222.3 247.3 222.6 249.8 223.4 252.3 223 254.2 224.5 256.7 225.3 258.6 225.7 260.5 224.9 263 225.9 265.5 224.9 268 224.5 270.6 224.5 272.5 225.3 275.1 226.5 277.9 227.2M221.2 204.5 221.1 238.8 198.7 238.8M198.7 238.8 199.4 240.5 201.3 242.5 203.2 244 204.6 245.1 205.7 246.5 207.1 248 208.9 248.7 210 250.3 210.8 252 211.5 253.8 211.7 255.7 213.9 257.5 216.4 259.3 219 260.7 220.5 260.9 222.1 258.9 222.1 257 223.4 255.7 225.3 254.6 228.4 254.9 231.5 255.2 232.9 256.4 234.1 257.8 236 260 236.2 262.2 237.8 263.6 239.1 266.4 241 268.6 242 270.2 243.5 271.4 243.8 275 243.9 276.8 245.4 277.8 247.9 279.5 249.4 280.6 251.1 281.3 254.2 282 256.4 283.1 258.3 282.4M258.3 282.4 257.7 279.9 257 276.4 256.7 272.8 258 270 259.2 268.7 259.9 267.2 261.2 266.2 262.4 265 263.4 263.2 265.5 263.6 267.4 263.2 268.7 261.8 270.5 260.8 271.8 259.3 273.4 258.2 272.1 256.4 273.7 255.3 276.2 256.4 279.1 255.7M274.2 200.6 274.2 204.5 274.1 206.3 276 207.8 276.2 209.5 275.8 211.3 275.4 213.1 275.1 226.5M277.9 227.2 277.9 231.2 277.9 238.8 278.7 241.8 280.2 243.6 280.9 245.8 280.3 247.8 280 249.8 279.9 252.8 279.1 255.7M277.9 231.2 295.9 231.3M274.2 200.6 274.2 183.8 272.6 181.4 271.2 178.5 269.9 176.5M274.2 204.5 302.3 204.5 301.1 206.9 301 208.4 305.2 208.4M262.7 155.6 263.6 158.1 264.5 160.2 265.2 162.3 265.3 164.1 266.2 165.7 266.5 169 267 171.7 268.7 174 269.9 176.5M267 171.7 292.4 171.4 294.4 173.3M262.7 146.9 295.6 146.9M262.7 146.9 262.7 131.1 262 125.3 261.1 123.3 261.1 121.1 260.5 116.5 260.2 111 260 109.4 259.6 107.8 258.9 106.3 258.3 101.6 257.8 96.8M262.7 146.9 262.7 148.8 261.8 150.4 260.8 152.4 262 153.9 262.7 155.6M270.9 96.8 273.1 98.7 274.3 99.5 276.9 100.1 279.4 101.1 281.9 100.6 284.4 100.4 286.9 102 288.8 103.3 290.7 103 291.3 104.8 293.2 105.4 295.7 105.8 298.3 105.4 300.8 105.4 303.3 105.8 305.8 106.4M305.8 106.4 304.2 107.9 302 108.6 300.4 110.3 298.3 111 297.2 112.3 295.8 113.2 294.5 114.2 292.6 115 291.3 116.5 288.9 118.4M288.9 118.4 288.9 124 286.9 126.1 286 128.6 285.7 132 286 136 287.3 137.2 288.8 138.2 291.3 139.9 293.1 141.2 294.5 143 295.7 144.8 295.6 146.9M288.9 118.4 290.7 118.4 293.9 117.5 295.6 116.4 297.6 116.1 298.9 118.4 300.6 119.6M300.6 119.6 302.7 121.6 304.2 123.1 306.4 122.9 308.3 123 309.7 124.3 311.5 124.8 315.3 125.2 316.8 127.9 317.1 130.6 318.4 132.8M295.6 146.9 296.1 151.2 297.6 153.8 299.2 155.5 300.8 158.1 302.3 160.6 301.4 163.2 299.5 164.4 298.1 165.2 297 166.5 296.4 169.8 296.3 172.1 294.4 173.3 294.5 176.5 295.4 178.1 296.4 179.7 296.9 182 298.9 183 300.8 185 302.3 187 301.7 190.3 304 190.7 303.9 193.1 305.4 194.3 306.4 195.8 306.4 198.2 307.6 199.3 308.6 200.6 309 202.2 308.1 203.8 306.4 204.5 306.1 206.9 305.2 208.4 303.8 210.2 303 212.3 302.7 215.4 301.4 217.7 300.5 219.2 299.5 220.7 299.5 222.8 297.6 223.8 296.4 225.5 296.4 227.6 295.9 231.3 296.4 234.3 297 237.3 295.4 238.5 294.5 240.3 293.9 243.2 293 246.2M293 246.2 305 246.2 304.9 248.4 304.6 250.4 305.8 252.2M299.3 155.5 317.1 155.5M318.8 161.8 318.8 181.8 318.4 183.8 319 187 317.8 189.5 316.5 191.9 315.6 194.2M308.6 200.6 310.8 199.4 312.7 199.8 314.6 197.4 316.1 196.1 315.6 194.2 318.4 193.5 321.5 194.2 324.7 193.5 327.8 192.7 329.7 191.1 331.6 188.6 333.5 187 336 186.2 335.9 183.8 337.9 183.8 339 185.2 340.4 186.2 342.9 187.4 346.1 187.8 348.6 186.6 349.9 189 351.8 187 352.7 185.4 354.9 183.4 357.4 181.8 359.9 180.1 361.2 177.3 362.1 174.8 362.6 173 363 171.2M335.9 161.8 335.9 183.8M320.9 161.8 335.9 161.8 344.5 162.1M363 171.2 363 159.8M367.7 157.5 367.7 159.8 395.4 159.8M363 171.2 363 178.8 392.7 178.8M349.9 191.1 351.9 192.5 352.4 195 354 196.4 355.5 199 357.4 198.2 359.9 198.2 362.5 197.4 364.3 196.2 366.2 193.9 367.6 192.7 368.1 191.1 369.4 189 371.3 188.6 373.2 186.2 375 184.6 376.6 182.2 380.1 182.2M380.1 182.2 378.5 181.5 377.6 180.1 375.7 180.1 373.8 179.7 371.9 181 369.5 183 369.5 178.8M343.1 203.7 346.1 202.6 348 200.6 350.5 199 352 197.4 354 196.4M354 196.4 351.8 194.2 350.8 191.9 349.9 191.1 349.9 189M306.4 204.5 315.6 204.5 315.6 203.1 322.2 203.3 331.6 203.7 337.9 203.7 343.1 203.7M343.1 203.7 355.7 203.8M355.7 203.8 354.3 206.1 352.4 207.6 349.9 208.6 348.8 210.3 346.7 210.4 344.2 211.9 343 213.5 341.1 213.8 339 216.1M339 216.1 301.4 216.1M355.7 203.8 392.2 204.1M339 216.1 346.7 216.1 348.8 215 351.1 214.6 359.7 215 360.4 215.4 361.2 217.5 368.2 217.7 375.4 224.8M346.7 216.1 346.8 218.2 348.6 219.2 351 219.8 351.1 222.3 353 223.7 353 226.1 353.8 227.7 354.9 229.1 356.8 231.3 356.4 233.2 358 234.3 358.3 236.2 359.3 237.7 360.6 238.4M331 216.1 333.5 231.3 335.3 232.6 336.2 234.1 334.8 236.2 334.4 241.8 334.8 246.2M334.8 246.2 335.6 248.3 344.2 248.7 352.4 249.3 353.3 250.6 355.2 249.1 357.1 248.4M334.8 246.2 318.4 246.2 319 248.4 319.7 250.6M314.6 216.1 312.9 239.5 313.4 250.6M279.1 255.7 281.9 255.2 284 256 286.3 256.4 288.8 256.7 291.3 255.7 293.9 257.1 295.7 258.9 298.3 260 300.8 259.6 302.7 258.9 304.6 258.2 307.1 260 308.6 260.7 307.7 258.6 306.4 257.1 305.2 255.7 306.8 253.8 305.2 252.9 305.8 252.2M300.5 253.1 302.7 252 304.6 252 304.9 253.1 303 253.3 300.5 253.1M305.8 252.2 307.5 250.9 309.6 250.7 313.4 250.7 315.3 249.1 315.9 251.3 318.4 251.5 320.1 250.2 322.2 250.6 325.3 250.6 328.5 251.3 331 252.8 331.1 254.6 332.6 255.7 335.4 255.3 337.3 255.3 338.5 253.8 341.1 252.8 342.9 254.2 343.8 255.7 344.8 257.1 346.7 259.3 348.6 261.4 348.9 265 348.6 267.9 349.9 270 349.6 272.1 350.2 273.6 351.1 275 352.4 277.1 354.3 279.2 354.9 282 356.8 283.4 358.7 285.5 359.6 287.6 362.5 287.6 363.7 286.9 364.3 284.8 365.3 282 365.9 278.5 365.9 275.7 365 272.8 364.6 271 363.7 269.3 364.2 267.1 362.5 265.7 362.1 263.6 361.8 261.9 360.6 260.7 360.1 258.8 359 257.1 358.9 255.2 358 253.5 357.4 250.6 357.1 248.4M363.7 286.9 365.5 288.4 365 290.7 364.7 292.9 366.2 294.5M357.1 248.4 357.7 245.4 358.7 242.5 359.3 239.5 360.6 238.4 362.5 236.6 363.7 235.1 366.2 233.6 368 233 368.7 231.3 370.3 230.5 371.3 229.1 371 226.9 373.2 226.4 375.4 224.8 379.1 224.5 380.1 221.5 382.6 220 385.1 218.4 388.3 218.8 389.5 216.5 390.8 215.2 392.7 214.6 394.6 212.3 394.6 210 394.3 208.1 393 206.9 392.2 204.1 391.7 201.4M388.3 216.5 388.1 214.4 390.1 213.8 387.6 212.3 389.5 211.4 391.4 210.7 388.9 209.2 390.8 209.1 392 207.6 387.6 208.4M391.7 201.4 389.5 201 388.9 199 389.5 196.6 389.2 194.2 389.5 192.3 387.6 191.1 385.7 190.3 384.8 188.6 384.5 186.2 384.8 185 383.2 183.8 382 183 380.1 182.2M389.5 192.3 388.3 190.3 388.9 187.8 387.9 185.4 388.6 183 389.5 181.8 390.8 180.1 391.7 179.7 392.7 178.8M385.1 189.5 387 188.6 387.6 191.1M388.9 195.8 386.9 195.9 385.7 194.2 387.6 196.6M391.7 179.7 390.1 182.2 390.8 185 389.5 187 389.4 189.3 391.4 190.3 392 192.7 391.7 195.8 391.4 199.4 392 199.4 393.3 197.8 393.9 195.8 394.6 194.4 395.5 193.1 396.4 191.1 397.4 189 397.1 186.2 396.3 184.5 395.2 183 394.2 180.1 394.2 178.1M392.7 178.8 392.7 189 397.4 189M393.6 193.1 396.2 192.4M394.2 178.1 396.4 177.3 397.7 176 399.3 174.8 397.7 172.7 396.4 170.3 397.4 168.2 398.3 166.5 399.6 165.3M392.7 178.8 394.6 177.8 395.1 178.1M395.4 159.8 397.1 161.5 398.3 164 399.6 165.3M399.6 165.3 401 166.7 402.9 167.3 404.6 168.3M404.6 168.3 404 170.3 402.4 172.3 404 173.2 403.7 176.5 403.4 178.5 402.1 180.5 400.2 182.6 398.3 185 398 183 395.8 181.8 394.2 179.7M404 171.5 407.1 171.5 410.3 170.7 413.4 169.8 415.4 169.8 416.6 168.2 414.1 168.6 411.5 168.6 408.4 169 405.9 169.4 404.6 169.8M367.7 157.5 370 156 372.5 154.2 373.2 152.1 372.2 150.4 372.2 148.9 375.7 148 378.8 148 381.3 149.1 385.1 148.8 387.6 147.8 390.1 146.5 390.1 143.4 389.2 141.7 390.3 140.2 392 139.5 393.4 137.7 395.2 136.4 397 135.9 397.7 134.2 399.6 133.7 408.1 133.7M408.1 133.7 419.7 133.6 421.1 132.4 422.4 131.1M408.1 133.7 408.1 138.2 407.8 142.6 408.9 144.4 408.7 146.5 408.7 151.2 408.6 153.4M408.6 153.4 407.4 155.2 406.6 157.1 407.1 159.4 407.1 165.7 406.2 168.2M413.1 153.6 413.7 151.2 414.1 146.9 415.3 144.3 415.6 142 416.6 139.9 417.1 137.9 419.1 137.3 419.7 133.6M408.6 153.4 413.7 153.6 421 153.8 422.9 153 424.1 152.4M424.8 150.5 423.8 148.8 423.1 146.9 422.9 142.6 422.6 135.5 422.4 131.1M422.4 131.1 424.1 129.7 425 128.1 426 126.6 426.4 124.7 427.3 122.9 428.9 120.9 428.5 118.4 429.2 113.8M407.1 159.4 417.8 159.6 420.5 159.6 420.5 164M417.8 159.6 417.5 165.5M406.2 168.2 408.4 167.2 410.3 166.5 412.8 165.9 415.3 165.7 417.5 165.5 419.7 165.1 421 164 422.2 164 423.5 163.6 425.4 163.6 427.9 162.7 429.2 161.9 429.2 159.4 427.9 159.4 426 161 425.1 159.8 424.8 157.7 423.5 156 424.1 153.8 424.1 152.4 424.8 150.5 425.1 148.7 426.6 147.8 427.9 145.6 429.2 144.3M429.2 144.3 429.2 113.8M318.8 161.8 320.3 162.7 322.2 162.5 323.7 161.5 325.3 158.9 326.6 156.4 327.2 153 326.9 149.5 327.2 147.5 325.6 146.1 325.9 142.6 325.7 140.5 327.2 139.1 327.1 137.1 328.2 135.5 329.9 134.3 331 132.4 331.6 135.5 332.6 133.7 334.1 132.6 334.1 130.6 335.2 129 335.1 127 337.3 126.6 339.8 128.2 342.3 129.7 343.4 131 344.8 132 345.5 135.5 345.1 139.5 344.3 141 343.6 142.6 342.5 144 341.7 145.6 343.2 144.9 344.2 143.4 345.7 142.7 347.3 142.1 349.2 143 349.7 145 350.5 146.9 350.8 151.2 350.5 154.7 348.6 156.4 346.7 158.1 346.1 160.2 344.5 162.1M300.6 119.6 303.3 119.1 305.1 118.7 306.4 117.5 309.6 116.5 311.2 115.8 312.7 115.2 314.6 112.8 316.5 111.4 315.2 112.5 314.5 114 314 115.6 315.9 116.5 315.8 118.7 317.8 119.1 319 120.2 322.2 120.7 325.3 120.2 326.8 119.2 328.5 118.8 331.6 118.4 334.8 117.9 336.6 120.2 338.5 120.2 340.4 121.1 341.1 123.9 339.6 124.7 337.9 124.9 334.8 124.3 331.6 124.8 329.1 125.2 326.6 126.1 324.7 127.9 322.8 126.6 320.3 128.4 319.7 129.9 318.4 131.1 318.4 132.8M317.1 155.5 316.8 151.2 316.5 147.8 316.9 146 317.8 144.3 318.4 140.8 319 137.3 320.5 135.7 321.5 133.7 322.2 131.5 319.6 132.4 319 135.1 317.1 136.8 315.9 137.7 314.7 135.5 317.1 134.6 318.4 132.8M317.1 155.5 318.4 157 318.1 158.9 318.4 161 318.8 161.8M344.5 162.1 346.7 163.2 349.2 164.4 351.8 164.8 354.3 164 355.9 163.5 357.4 162.7 359.9 161 361.5 160.8 363 159.9 365.6 158.9 367.7 157.5" fill="none" stroke="#000" stroke-width="2.9" stroke-linejoin="round"/><path d="M258.3 282.4 257.7 279.9 257 276.4 256.7 272.8 258 270 259.1 268.7 259.9 267.2 260.9 265.8 262.4 265 264.2 264.7 265.5 263.6 267.2 262.9 268.7 261.8 270 260.2 271.8 259.3 273.4 258.2 272.1 256.4 273.7 255.3 276.2 256.4 279.1 255.7M279.1 255.7 281.9 255.2 283.6 257.5 286.3 256.4 288.8 256.7 291.3 255.7 293.9 257.1 295.7 258.9 298.3 260 300.8 259.6 302.7 258.9 304.6 258.2 307.1 260 308.6 260.7 307.7 258.6 306.4 257.1 305.2 255.7 306.8 253.8 305.2 252.9 305.8 252.2M305.8 252.2 307.8 251.7 309.6 250.7 313.4 250.7 315.3 249.1 315.9 251.3 318.4 251.5 320.2 250.6 322.2 250.6 325.3 250.6 328.5 251.3 331 252.8 331.8 254.2 332.6 255.7 335.4 255.3 336.9 254.4 338.5 253.8 341.1 252.8 342.9 254.2 343.9 255.6 344.8 257.1 346.7 259.3 348.6 261.4 348.9 265 348.6 267.9 349.9 270 349.6 272.1 352.1 272.6 351.1 275 352.4 277.1 354.3 279.2 354.9 282 356.8 283.4 358.7 285.5 359.6 287.6 362.5 287.6 363.7 286.9 364.3 284.8 365.3 282 365.9 278.5 365.9 275.7 365 272.8 364 271.2 363.7 269.3 363.8 267.3 362.5 265.7 362.1 263.6 360.6 262.6 360.6 260.7 359.7 258.9 359 257.1 359.2 255.1 358 253.5 357.4 250.6 357.1 248.4M357.1 248.4 357.7 245.4 358.7 242.5 359.3 239.5 360.6 238.4 362.5 236.6 363.7 235.1 366.2 233.6 367.9 232.9 368.7 231.3 370.8 231 371.3 229.1 371.2 227 373.2 226.4 375.4 224.8 379.1 224.5 380.1 221.5 382.6 220 385.1 218.4 388.3 218.8 389.5 216.5 391 215.3 392.7 214.6 394.6 212.3 394.6 210 393.5 208.5 393 206.9 392.2 204.1 391.7 201.4M388.3 216.5 389.6 215.5 390.1 213.8 387.6 212.3 389.8 212.3 391.4 210.7 388.9 209.2 389.6 206.6 392 207.6 387.6 208.4M391.7 201.4 389.5 201 388.9 199 389.5 196.6 389.2 194.2 389.5 192.3 387.6 191.1 385.7 190.3 384.8 188.6 384.5 186.2 384.8 185 383.2 183.8 382 183 380.1 182.2M389.5 192.3 388.3 190.3 388.9 187.8 387.9 185.4 388.6 183 389.5 181.8 390.8 180.1 391.7 179.7 392.7 178.8M385.1 189.5 387 188.6 387.6 191.1M388.9 195.8 387.7 194.3 385.7 194.2 387.6 196.6M391.7 179.7 390.1 182.2 390.8 185 389.5 187 391.4 188.1 391.4 190.3 392 192.7 391.7 195.8 391.4 199.4 392 199.4 393.4 197.9 393.9 195.8 393.7 193.9 395.5 193.1 396.4 191.1 397.4 189 397.1 186.2 396.2 184.5 395.2 183 394.2 180.1 394.2 178.1M392.7 178.8 392.7 189 397.4 189M393.6 193.1 396.2 192.4M404.6 168.3 404 170.3 402.4 172.3 404 173.2 403.7 176.5 403.4 178.5 402.1 180.5 400.2 182.6 398.3 185 398 183 395.8 181.8 394.2 179.7M404 171.5 407.1 171.5 410.3 170.7 413.4 169.8 415.4 169.8 416.6 168.2 414.1 168.6 411.5 168.6 408.4 169 405.9 169.4 404.6 169.8M406.2 168.2 408.4 167.2 410.3 166.5 412.8 165.9 415.3 165.7 417.5 165.5 419.7 165.1 421 164 422.2 164 423.5 163.6 425.4 163.6 427.9 162.7 429.2 161.9 429.2 159.4 427.9 159.4 426 161 425.1 159.8 424.8 157.7 423.5 156 424.1 153.8 424.1 152.4 424.8 150.5 425.6 149.1 426.6 147.8 427.9 145.6 429.2 144.3" fill="none" stroke="#000" stroke-width="3.6" stroke-linejoin="round"/><polygon points="396.2,166.5 401,168.4 403,173.3 400.5,181 398,188.8 395.5,196.6 393.5,204.4 395.5,212.5 391,216.5 386.5,212 387,205 383,198 386,193 384,187 386,182 390,179.5 395,177.5 397,172.3"/><polygon points="403,168 410,165 418,162 428,158.5 430,160.5 422,165 414,169 406,172.5 402,172"/><polygon points="299,252 304,249.5 309,251 311,256 311,263 306,262 302,258 298,256"/></g></g><g transform="translate(420.8,0)"><text x="163.3" y="112.9" text-anchor="end" class="lb" textLength="16.7" lengthAdjust="spacingAndGlyphs">48</text><circle cx="168" cy="99.5" r="1.2" class="dg"/><text x="175.7" y="112.9" class="lb" textLength="9.2" lengthAdjust="spacingAndGlyphs">N</text><text x="163.3" y="130.8" text-anchor="end" class="lb" textLength="16.7" lengthAdjust="spacingAndGlyphs">46</text><circle cx="168" cy="117.5" r="1.2" class="dg"/><text x="175.7" y="130.8" class="lb" textLength="9.2" lengthAdjust="spacingAndGlyphs">N</text><text x="163.3" y="147.8" text-anchor="end" class="lb" textLength="16.7" lengthAdjust="spacingAndGlyphs">44</text><circle cx="168" cy="134.4" r="1.2" class="dg"/><text x="175.7" y="147.8" class="lb" textLength="9.2" lengthAdjust="spacingAndGlyphs">N</text><text x="163.3" y="166.7" text-anchor="end" class="lb" textLength="16.7" lengthAdjust="spacingAndGlyphs">42</text><circle cx="168" cy="153.3" r="1.2" class="dg"/><text x="175.7" y="166.7" class="lb" textLength="9.2" lengthAdjust="spacingAndGlyphs">N</text><text x="163.3" y="182.9" text-anchor="end" class="lb" textLength="16.7" lengthAdjust="spacingAndGlyphs">40</text><circle cx="168" cy="169.5" r="1.2" class="dg"/><text x="175.7" y="182.9" class="lb" textLength="9.2" lengthAdjust="spacingAndGlyphs">N</text><text x="163.3" y="197.9" text-anchor="end" class="lb" textLength="16.7" lengthAdjust="spacingAndGlyphs">38</text><circle cx="168" cy="184.5" r="1.2" class="dg"/><text x="175.7" y="197.9" class="lb" textLength="9.2" lengthAdjust="spacingAndGlyphs">N</text><text x="163.3" y="214.9" text-anchor="end" class="lb" textLength="16.7" lengthAdjust="spacingAndGlyphs">36</text><circle cx="168" cy="201.5" r="1.2" class="dg"/><text x="175.7" y="214.9" class="lb" textLength="9.2" lengthAdjust="spacingAndGlyphs">N</text><text x="163.3" y="228.9" text-anchor="end" class="lb" textLength="16.7" lengthAdjust="spacingAndGlyphs">34</text><circle cx="168" cy="215.5" r="1.2" class="dg"/><text x="175.7" y="228.9" class="lb" textLength="9.2" lengthAdjust="spacingAndGlyphs">N</text><text x="163.3" y="245.8" text-anchor="end" class="lb" textLength="16.7" lengthAdjust="spacingAndGlyphs">32</text><circle cx="168" cy="232.4" r="1.2" class="dg"/><text x="175.7" y="245.8" class="lb" textLength="9.2" lengthAdjust="spacingAndGlyphs">N</text><text x="163.3" y="259.9" text-anchor="end" class="lb" textLength="16.7" lengthAdjust="spacingAndGlyphs">30</text><circle cx="168" cy="246.5" r="1.2" class="dg"/><text x="175.7" y="259.9" class="lb" textLength="9.2" lengthAdjust="spacingAndGlyphs">N</text><text x="163.3" y="273.1" text-anchor="end" class="lb" textLength="16.7" lengthAdjust="spacingAndGlyphs">28</text><circle cx="168" cy="259.7" r="1.2" class="dg"/><text x="175.7" y="273.1" class="lb" textLength="9.2" lengthAdjust="spacingAndGlyphs">N</text><text x="163.3" y="287.8" text-anchor="end" class="lb" textLength="16.7" lengthAdjust="spacingAndGlyphs">26</text><circle cx="168" cy="274.4" r="1.2" class="dg"/><text x="175.7" y="287.8" class="lb" textLength="9.2" lengthAdjust="spacingAndGlyphs">N</text><text x="163.3" y="301.9" text-anchor="end" class="lb" textLength="16.7" lengthAdjust="spacingAndGlyphs">24</text><circle cx="168" cy="288.5" r="1.2" class="dg"/><text x="175.7" y="301.9" class="lb" textLength="9.2" lengthAdjust="spacingAndGlyphs">N</text><text x="163.3" y="315.4" text-anchor="end" class="lb" textLength="16.7" lengthAdjust="spacingAndGlyphs">22</text><circle cx="168" cy="302" r="1.2" class="dg"/><text x="175.7" y="315.4" class="lb" textLength="9.2" lengthAdjust="spacingAndGlyphs">N</text></g><g transform="translate(420.8,0)"><text x="216" y="77" class="lb lo" textLength="24.4" lengthAdjust="spacingAndGlyphs">100</text><circle cx="244.8" cy="64.4" r="1.2" class="dg"/><text x="252.8" y="77" class="lb lo" textLength="12.8" lengthAdjust="spacingAndGlyphs">W</text><text x="284.8" y="77" class="lb lo" textLength="15.6" lengthAdjust="spacingAndGlyphs">90</text><circle cx="304.8" cy="64.4" r="1.2" class="dg"/><text x="314" y="77" class="lb lo" textLength="12.4" lengthAdjust="spacingAndGlyphs">W</text><text x="348.8" y="77" class="lb lo" textLength="16.8" lengthAdjust="spacingAndGlyphs">80</text><circle cx="370" cy="64.4" r="1.2" class="dg"/><text x="377.6" y="77" class="lb lo" textLength="13.2" lengthAdjust="spacingAndGlyphs">W</text><text x="412" y="77" class="lb lo" textLength="15.2" lengthAdjust="spacingAndGlyphs">70</text><circle cx="431.6" cy="64.4" r="1.2" class="dg"/><text x="440.4" y="77" class="lb lo" textLength="13.2" lengthAdjust="spacingAndGlyphs">W</text></g><g transform="translate(421,0)"><rect x="441.5" y="95.5" width="23" height="215" fill="url(#jetg)" stroke="#1a1a1a" stroke-width="0.9"/><text x="474.2" y="143.7" class="cb" textLength="41.8" lengthAdjust="spacingAndGlyphs">290</text><line x1="461.5" x2="464.8" y1="135.7" y2="135.7" stroke="#262626" stroke-width="0.8"/><text x="474.2" y="189.9" class="cb" textLength="41.8" lengthAdjust="spacingAndGlyphs">280</text><line x1="461.5" x2="464.8" y1="181.9" y2="181.9" stroke="#262626" stroke-width="0.8"/><text x="474.2" y="236.1" class="cb" textLength="41.8" lengthAdjust="spacingAndGlyphs">270</text><line x1="461.5" x2="464.8" y1="228.1" y2="228.1" stroke="#262626" stroke-width="0.8"/><text x="474.2" y="282.4" class="cb" textLength="41.8" lengthAdjust="spacingAndGlyphs">260</text><line x1="461.5" x2="464.8" y1="274.4" y2="274.4" stroke="#262626" stroke-width="0.8"/></g><text x="550.1" y="341.1" class="tt" textLength="356.5" lengthAdjust="spacingAndGlyphs">SAT+RAP 700 hPa Temp (K)</text><g transform="translate(841.6,-0.9)"><rect x="196.3" y="96.8" width="232.9" height="212.8" fill="#fff" stroke="#000" stroke-width="1.1"/><g clip-path="url(#swclip)"><g filter="url(#bl)"><g fill="none" stroke-width="6" stroke-linecap="round"><path stroke="#ffff00" d="M348 302h0M352 302h0M356 302h0M352 306h0M360 306h0M344 310h0M348 310h0M360 310h0"/><path stroke="#f2ff0d" d="M352 298h0M356 298h0M340 302h0M360 302h0M356 306h0M364 306h0M364 310h0M368 310h0"/><path stroke="#0033ff" d="M376 102h0M396 102h0M364 106h0M360 110h0M360 114h0M372 114h0M364 118h0M372 118h0M396 118h0M372 122h0M384 122h0M388 122h0M412 122h0M372 126h0M388 126h0M420 126h0M372 130h0M380 130h0M404 130h0M416 130h0M428 130h0M432 130h0M368 134h0M380 134h0M416 134h0M432 134h0M372 138h0M404 138h0M416 138h0M428 138h0M392 142h0M428 142h0M432 142h0M380 146h0M388 146h0M408 146h0M416 146h0M384 150h0M396 150h0M404 150h0M420 150h0M424 150h0M428 150h0M392 154h0M396 154h0M400 158h0M412 158h0"/><path stroke="#00b2ff" d="M320 122h0M328 122h0M320 126h0M320 130h0M336 130h0M344 130h0M348 138h0M344 142h0M348 142h0M352 142h0M356 162h0M356 166h0M380 186h0M396 194h0M404 194h0M408 198h0M424 198h0M388 202h0M408 202h0M428 202h0M432 202h0M392 206h0M396 206h0M404 206h0M392 210h0M396 210h0M432 210h0M428 214h0M428 218h0M432 218h0M404 222h0M420 222h0M424 222h0M428 222h0M392 226h0M400 226h0M416 226h0M392 230h0M432 230h0M408 234h0M420 234h0M432 234h0M408 238h0M412 238h0"/><path stroke="#00bfff" d="M312 126h0M324 126h0M328 126h0M324 130h0M328 130h0M340 130h0M328 134h0M340 134h0M344 134h0M344 146h0M348 146h0M348 150h0M356 150h0M348 154h0M352 158h0M356 158h0M364 170h0M360 174h0M364 174h0M360 178h0M364 178h0M368 178h0M360 182h0M372 182h0M376 186h0M384 186h0M380 190h0M384 190h0M388 190h0M392 190h0M388 194h0M392 194h0M388 198h0M392 198h0M420 210h0M388 214h0M392 214h0M396 214h0M404 214h0M388 218h0M392 218h0M400 218h0M408 218h0M420 218h0M424 218h0M396 222h0M412 222h0M432 222h0M388 226h0M396 226h0M420 226h0M432 226h0M388 230h0M416 230h0M424 230h0M428 230h0M380 234h0M392 234h0M396 234h0M400 234h0M416 234h0M424 234h0M428 234h0M400 238h0M404 238h0M420 238h0M424 238h0M388 242h0M412 242h0M416 242h0M420 242h0M432 242h0M408 250h0"/><path stroke="#bfff40" d="M332 266h0M344 266h0M340 270h0M344 274h0M356 274h0M340 278h0M348 278h0M352 278h0M340 282h0M336 286h0M348 286h0M356 286h0M348 290h0M348 294h0M372 302h0M380 302h0M392 310h0M412 310h0"/><path stroke="#0080ff" d="M340 118h0M344 118h0M344 122h0M348 122h0M356 142h0M368 154h0M368 158h0M380 162h0M376 166h0M424 166h0M420 170h0M408 174h0M428 174h0M428 178h0M404 182h0M408 182h0M412 182h0M420 182h0M424 190h0"/><path stroke="#0000ff" d="M420 94h0M408 98h0M432 98h0M388 102h0M420 106h0M400 110h0M432 110h0M392 114h0M408 114h0M432 114h0M400 126h0M404 126h0M412 126h0M392 130h0M396 130h0"/><path stroke="#00e5ff" d="M300 130h0M308 130h0M296 134h0M316 134h0M312 138h0M316 138h0M320 138h0M324 138h0M332 138h0M308 142h0M312 142h0M316 142h0M324 142h0M336 142h0M312 146h0M320 146h0M324 146h0M332 146h0M316 150h0M324 150h0M324 154h0M332 154h0M336 154h0M320 158h0M340 158h0M344 158h0M316 162h0M320 162h0M324 162h0M344 162h0M336 166h0M344 166h0M344 170h0M348 170h0M344 174h0M348 174h0M336 178h0M348 178h0M344 182h0M344 186h0M352 186h0M356 186h0M356 190h0M364 190h0M368 190h0M348 194h0M356 194h0M376 194h0M376 198h0M356 202h0M364 202h0M368 202h0M356 206h0M360 206h0M376 206h0M372 210h0M372 214h0M376 214h0M380 214h0M372 218h0M380 218h0M380 222h0M368 226h0M372 226h0M380 226h0M372 230h0M380 230h0M384 230h0M376 234h0M384 234h0M380 238h0M376 242h0M384 242h0M384 246h0M388 246h0M408 246h0M416 246h0M384 250h0M392 250h0M396 250h0M400 250h0M420 250h0M428 250h0M380 254h0M392 254h0M400 254h0M412 254h0M424 254h0M432 254h0M396 258h0M432 258h0"/><path stroke="#00ffff" d="M300 138h0M304 138h0M296 146h0M300 150h0M304 150h0M308 150h0M320 150h0M292 154h0M296 154h0M312 154h0M304 158h0M316 158h0M300 162h0M304 162h0M312 162h0M328 162h0M336 162h0M340 162h0M300 166h0M304 166h0M324 166h0M312 170h0M320 170h0M324 170h0M316 174h0M320 174h0M324 174h0M312 178h0M308 182h0M324 182h0M312 186h0M328 186h0M332 186h0M348 186h0M308 190h0M340 190h0M316 194h0M324 194h0M336 194h0M332 198h0M336 198h0M352 198h0M356 198h0M336 202h0M344 202h0M348 202h0M372 202h0M332 206h0M340 206h0M344 206h0M328 210h0M336 210h0M344 210h0M348 210h0M368 210h0M348 214h0M356 214h0M364 214h0M348 218h0M368 218h0M356 222h0M360 222h0M364 222h0M368 222h0M372 222h0M328 226h0M356 226h0M360 226h0M364 226h0M364 230h0M368 230h0M360 234h0M372 242h0M380 250h0M380 258h0M388 258h0M424 258h0M428 258h0M400 262h0M408 262h0M412 262h0M420 262h0"/><path stroke="#0073ff" d="M340 114h0M344 114h0M336 118h0M348 118h0M348 126h0M352 126h0M356 130h0M356 134h0M356 138h0M360 142h0M364 142h0M364 146h0M364 150h0M372 162h0M376 162h0M392 166h0M400 166h0M380 170h0M384 170h0M392 170h0M400 170h0M412 170h0M432 170h0M384 174h0M392 174h0M404 174h0M412 174h0M432 174h0M404 178h0M408 178h0M420 178h0M420 186h0"/><path stroke="#e5ff1a" d="M336 282h0M340 298h0M344 302h0M368 302h0M344 306h0"/><path stroke="#ffe500" d="M352 310h0"/><path stroke="#fff200" d="M348 306h0"/><path stroke="#00d9ff" d="M308 126h0M304 130h0M312 130h0M308 134h0M320 134h0M336 134h0M328 138h0M328 142h0M332 142h0M340 142h0M308 146h0M336 146h0M336 150h0M340 150h0M344 150h0M352 154h0M336 158h0M348 158h0M348 162h0M352 162h0M348 166h0M352 166h0M336 170h0M340 170h0M356 170h0M360 170h0M352 174h0M356 174h0M352 178h0M364 186h0M348 190h0M372 190h0M368 194h0M372 194h0M380 194h0M384 194h0M368 198h0M380 198h0M360 202h0M384 202h0M392 202h0M368 206h0M372 206h0M380 206h0M352 210h0M356 210h0M380 210h0M384 214h0M384 218h0M376 222h0M384 222h0M388 222h0M376 226h0M384 226h0M392 238h0M396 238h0M428 238h0M432 238h0M380 242h0M408 242h0M424 242h0M428 242h0M380 246h0M392 246h0M400 246h0M428 246h0M432 246h0M388 250h0M404 250h0M416 250h0M432 250h0M384 254h0M396 254h0M404 254h0M420 254h0"/><path stroke="#0026ff" d="M412 94h0M392 98h0M400 98h0M404 98h0M372 102h0M424 102h0M428 102h0M368 106h0M372 106h0M376 106h0M364 110h0M376 110h0M388 110h0M380 114h0M400 114h0M368 118h0M376 118h0M400 118h0M404 118h0M428 118h0M424 122h0M376 126h0M380 126h0M384 126h0M416 126h0M432 126h0M376 130h0M384 130h0M388 130h0M408 130h0M424 130h0M388 134h0M408 134h0M420 134h0M376 138h0M392 138h0M396 138h0M400 138h0M412 138h0M420 138h0M424 138h0M376 142h0M380 142h0M384 142h0M388 142h0M396 142h0M400 142h0M404 142h0M412 142h0M420 142h0M384 146h0M404 146h0M412 150h0"/><path stroke="#a6ff59" d="M332 262h0M340 262h0M348 262h0M336 270h0M348 270h0M352 270h0M360 270h0M368 270h0M336 274h0M364 282h0M364 286h0M368 286h0M364 290h0M368 290h0M360 294h0M376 298h0M384 298h0M400 298h0M388 302h0M404 302h0M408 302h0M404 306h0M428 306h0M416 310h0"/><path stroke="#ccff33" d="M332 270h0M344 270h0M344 278h0M348 282h0M340 286h0M344 286h0M352 286h0M340 290h0M352 290h0M344 294h0M356 294h0M348 298h0M360 298h0M364 298h0M376 302h0M368 306h0M372 306h0M376 306h0M380 306h0M396 306h0M372 310h0M376 310h0M380 310h0M384 310h0M388 310h0M396 310h0"/><path stroke="#0019ff" d="M408 94h0M416 94h0M428 94h0M388 98h0M424 98h0M380 102h0M384 102h0M392 102h0M400 102h0M420 102h0M432 102h0M380 106h0M388 106h0M392 106h0M400 106h0M404 106h0M412 106h0M368 110h0M380 110h0M384 110h0M392 110h0M404 110h0M408 110h0M412 110h0M428 110h0M384 114h0M404 114h0M416 114h0M428 114h0M380 118h0M388 118h0M376 122h0M380 122h0M396 122h0M400 122h0M408 122h0M420 122h0M428 122h0M432 122h0M396 126h0M408 126h0M424 126h0M428 126h0M420 130h0M384 134h0M392 134h0M400 134h0M404 134h0M412 134h0M384 138h0M388 138h0M408 142h0"/><path stroke="#40ffbf" d="M312 214h0M320 222h0M316 226h0M332 230h0M320 234h0M328 234h0M336 234h0M324 238h0M332 238h0M336 238h0M340 238h0M344 238h0M352 238h0M324 242h0M340 242h0M368 254h0M364 258h0M384 270h0M400 270h0M428 270h0M432 270h0M384 274h0M388 274h0M400 274h0M412 274h0M416 274h0M420 274h0M424 278h0"/><path stroke="#66ff99" d="M336 246h0M340 246h0M348 250h0M356 250h0M360 250h0M352 254h0M356 254h0M368 258h0M368 266h0M372 270h0M376 270h0M380 270h0M376 274h0M380 278h0M388 282h0M404 282h0M424 282h0M388 286h0M396 286h0M408 286h0M400 290h0M404 290h0M428 290h0M432 294h0"/><path stroke="#0099ff" d="M332 118h0M336 122h0M344 126h0M360 146h0M364 154h0M360 158h0M364 158h0M368 162h0M372 178h0M376 178h0M380 178h0M388 178h0M396 178h0M432 178h0M384 182h0M388 182h0M392 182h0M400 182h0M416 182h0M424 182h0M428 182h0M392 186h0M396 186h0M400 186h0M412 186h0M424 186h0M400 190h0M408 190h0M412 190h0M416 190h0M432 190h0M400 194h0M408 194h0M412 194h0M416 194h0M424 194h0M428 194h0M432 194h0M400 198h0M412 198h0M428 198h0M404 202h0M424 202h0M412 214h0M404 218h0M416 218h0M408 222h0M412 230h0"/><path stroke="#26ffd9" d="M284 146h0M288 146h0M288 150h0M288 154h0M292 166h0M296 166h0M296 170h0M296 174h0M304 174h0M316 186h0M304 190h0M304 194h0M308 206h0M312 206h0M320 206h0M324 206h0M308 210h0M312 210h0M320 210h0M324 210h0M320 214h0M316 218h0M324 218h0M316 222h0M328 222h0M332 226h0M336 226h0M340 226h0M344 230h0M348 234h0M352 234h0M356 234h0M348 238h0M356 238h0M364 238h0M360 242h0M364 242h0M372 250h0M376 258h0M376 262h0M380 262h0M388 262h0M380 266h0M388 266h0M400 266h0M416 266h0M424 266h0M404 270h0M416 270h0M420 270h0"/><path stroke="#ffcc00" d="M356 310h0"/><path stroke="#b3ff4c" d="M340 266h0M356 270h0M332 274h0M348 274h0M352 274h0M360 274h0M364 274h0M336 278h0M356 278h0M364 278h0M344 282h0M356 282h0M360 282h0M368 282h0M360 286h0M356 290h0M360 290h0M364 294h0M372 294h0M368 298h0M384 302h0M392 302h0M400 302h0M384 306h0M388 306h0M392 306h0M400 306h0M400 310h0M404 310h0M408 310h0M420 310h0M424 310h0M428 310h0M432 310h0"/><path stroke="#99ff66" d="M328 254h0M328 262h0M352 262h0M336 266h0M348 266h0M352 266h0M356 266h0M368 274h0M360 278h0M372 290h0M376 294h0M392 294h0M396 294h0M372 298h0M380 298h0M388 298h0M392 298h0M396 298h0M412 298h0M396 302h0M412 302h0M416 302h0M420 302h0M428 302h0M408 306h0M412 306h0M420 306h0M424 306h0M432 306h0"/><path stroke="#d9ff26" d="M352 282h0M344 290h0M340 294h0M352 294h0M368 294h0M344 298h0M364 302h0"/><path stroke="#1affe5" d="M288 134h0M280 138h0M284 138h0M288 138h0M296 138h0M284 142h0M288 142h0M296 158h0M300 158h0M292 162h0M308 162h0M308 166h0M300 170h0M308 170h0M312 174h0M300 178h0M304 178h0M308 178h0M328 178h0M304 182h0M312 182h0M304 186h0M308 186h0M324 186h0M312 194h0M320 194h0M308 198h0M324 198h0M312 202h0M324 202h0M328 202h0M332 202h0M316 206h0M348 206h0M316 210h0M324 214h0M328 214h0M336 214h0M328 218h0M332 218h0M336 218h0M352 218h0M360 218h0M324 222h0M352 222h0M348 226h0M352 226h0M360 230h0M340 234h0M344 234h0M368 246h0M372 246h0M376 254h0M392 262h0M396 262h0M416 262h0M428 262h0M384 266h0M396 266h0M412 266h0M428 266h0M432 266h0M412 270h0"/><path stroke="#008cff" d="M340 122h0M348 130h0M352 130h0M352 134h0M352 138h0M360 150h0M364 162h0M364 166h0M368 166h0M372 166h0M372 170h0M380 174h0M388 174h0M400 174h0M416 174h0M420 174h0M384 178h0M392 178h0M400 178h0M412 178h0M396 182h0M432 182h0M404 186h0M408 186h0M416 186h0M420 190h0M428 190h0M420 198h0M408 206h0M416 206h0M420 206h0M400 210h0"/><path stroke="#0066ff" d="M348 114h0M352 114h0M352 122h0M356 122h0M356 126h0M364 126h0M360 134h0M360 138h0M368 138h0M368 150h0M372 154h0M372 158h0M380 158h0M384 158h0M416 162h0M428 162h0M380 166h0M384 166h0M404 166h0M412 166h0M416 166h0M432 166h0M376 170h0M388 170h0M396 170h0M404 170h0M408 170h0M416 170h0M424 170h0M428 170h0M396 174h0M424 174h0M416 178h0M424 178h0"/><path stroke="#0059ff" d="M352 110h0M356 114h0M352 118h0M356 118h0M360 118h0M360 126h0M364 138h0M372 142h0M372 146h0M392 146h0M372 150h0M376 150h0M376 154h0M412 154h0M376 158h0M404 158h0M428 158h0M400 162h0M408 162h0M388 166h0M396 166h0M420 166h0M428 166h0"/><path stroke="#8cff73" d="M324 250h0M332 254h0M336 254h0M328 258h0M332 258h0M336 258h0M340 258h0M348 258h0M336 262h0M344 262h0M356 262h0M364 266h0M364 270h0M340 274h0M372 274h0M368 278h0M376 282h0M372 286h0M376 290h0M380 290h0M388 290h0M396 290h0M388 294h0M400 294h0M404 294h0M408 294h0M416 294h0M424 294h0M408 298h0M416 298h0M420 298h0M424 302h0M432 302h0M416 306h0"/><path stroke="#00a6ff" d="M332 122h0M336 126h0M340 126h0M348 134h0M352 146h0M356 146h0M352 150h0M356 154h0M360 154h0M360 162h0M360 166h0M368 170h0M368 174h0M372 174h0M376 174h0M380 182h0M388 186h0M428 186h0M432 186h0M396 190h0M404 190h0M420 194h0M404 198h0M416 198h0M432 198h0M400 202h0M412 202h0M416 202h0M420 202h0M400 206h0M412 206h0M424 206h0M428 206h0M432 206h0M404 210h0M408 210h0M412 210h0M416 210h0M424 210h0M428 210h0M400 214h0M408 214h0M416 214h0M420 214h0M424 214h0M432 214h0M396 218h0M412 218h0M400 222h0M416 222h0M404 226h0M408 226h0M412 226h0M424 226h0M428 226h0M404 230h0M408 230h0M420 230h0M412 234h0"/><path stroke="#80ff80" d="M328 250h0M340 250h0M344 254h0M352 258h0M360 258h0M360 262h0M364 262h0M360 266h0M372 278h0M376 286h0M380 286h0M384 286h0M404 286h0M416 286h0M384 290h0M412 290h0M380 294h0M384 294h0M412 294h0M420 294h0M404 298h0M424 298h0M428 298h0M432 298h0"/><path stroke="#0000f2" d="M396 98h0M408 102h0M416 102h0M384 106h0M408 106h0M424 110h0M404 122h0"/><path stroke="#0040ff" d="M364 114h0M368 114h0M364 122h0M368 126h0M364 134h0M372 134h0M376 134h0M424 134h0M428 134h0M408 138h0M432 138h0M368 142h0M416 142h0M424 142h0M376 146h0M400 146h0M412 146h0M420 146h0M432 146h0M388 150h0M392 150h0M400 150h0M408 150h0M432 150h0M380 154h0M388 154h0M400 154h0M404 154h0M408 154h0M416 154h0M424 154h0M428 154h0M408 158h0M420 158h0M396 162h0M404 162h0M420 162h0"/><path stroke="#004dff" d="M356 110h0M360 122h0M368 122h0M360 130h0M364 130h0M368 130h0M380 138h0M368 146h0M396 146h0M424 146h0M428 146h0M380 150h0M416 150h0M384 154h0M420 154h0M432 154h0M388 158h0M392 158h0M396 158h0M416 158h0M424 158h0M432 158h0M384 162h0M388 162h0M392 162h0M412 162h0M424 162h0M432 162h0M408 166h0"/><path stroke="#33ffcc" d="M288 158h0M300 182h0M308 202h0M316 214h0M312 218h0M320 218h0M332 222h0M336 222h0M320 226h0M324 226h0M316 230h0M320 230h0M328 230h0M336 230h0M340 230h0M348 230h0M324 234h0M360 238h0M352 242h0M360 246h0M364 250h0M368 250h0M372 258h0M392 266h0M408 266h0M420 266h0M388 270h0M396 270h0M408 270h0M424 270h0M396 274h0M428 274h0"/><path stroke="#000dff" d="M424 94h0M412 98h0M416 98h0M420 98h0M428 98h0M404 102h0M412 102h0M396 106h0M416 106h0M424 106h0M428 106h0M432 106h0M372 110h0M396 110h0M416 110h0M420 110h0M376 114h0M388 114h0M396 114h0M412 114h0M420 114h0M424 114h0M384 118h0M392 118h0M408 118h0M412 118h0M416 118h0M420 118h0M424 118h0M432 118h0M392 122h0M416 122h0M392 126h0M400 130h0M412 130h0M396 134h0"/><path stroke="#59ffa6" d="M320 238h0M328 238h0M328 242h0M336 242h0M324 246h0M328 246h0M348 246h0M356 246h0M344 250h0M340 254h0M368 262h0M372 262h0M372 266h0M392 270h0M408 274h0M424 274h0M384 278h0M388 278h0M400 278h0M408 278h0M416 278h0M420 278h0M432 278h0M400 282h0M432 282h0M400 286h0M428 294h0"/><path stroke="#0dfff2" d="M292 134h0M292 138h0M292 142h0M292 146h0M292 150h0M296 150h0M300 154h0M304 154h0M308 158h0M296 162h0M316 166h0M320 166h0M304 170h0M316 170h0M300 174h0M308 174h0M316 178h0M320 178h0M324 178h0M316 182h0M320 182h0M328 182h0M320 186h0M340 186h0M312 190h0M316 190h0M320 190h0M324 190h0M344 190h0M308 194h0M332 194h0M344 194h0M312 198h0M320 198h0M328 198h0M340 198h0M316 202h0M320 202h0M340 202h0M328 206h0M336 206h0M352 206h0M332 210h0M332 214h0M340 214h0M344 214h0M352 214h0M360 214h0M340 218h0M344 218h0M340 222h0M344 222h0M348 222h0M352 230h0M356 230h0M364 234h0M368 234h0M368 238h0M368 242h0M364 246h0M376 246h0M372 254h0M428 254h0M384 258h0M392 258h0M400 258h0M408 258h0M384 262h0M404 262h0M424 262h0M432 262h0M404 266h0"/><path stroke="#00f2ff" d="M296 130h0M300 134h0M304 134h0M308 138h0M296 142h0M300 142h0M304 142h0M300 146h0M304 146h0M316 146h0M328 146h0M312 150h0M328 150h0M332 150h0M308 154h0M316 154h0M320 154h0M328 154h0M340 154h0M292 158h0M312 158h0M324 158h0M328 158h0M332 158h0M332 162h0M312 166h0M328 166h0M332 166h0M340 166h0M328 170h0M332 170h0M328 174h0M332 174h0M336 174h0M340 174h0M332 178h0M340 178h0M332 182h0M336 182h0M340 182h0M348 182h0M336 186h0M328 190h0M332 190h0M336 190h0M352 190h0M360 190h0M328 194h0M340 194h0M352 194h0M360 194h0M364 194h0M316 198h0M344 198h0M348 198h0M360 198h0M364 198h0M352 202h0M376 202h0M364 206h0M340 210h0M360 210h0M364 210h0M376 210h0M368 214h0M356 218h0M364 218h0M376 218h0M344 226h0M376 230h0M372 234h0M372 238h0M376 238h0M376 250h0M388 254h0M408 254h0M416 254h0M404 258h0M412 258h0M416 258h0M420 258h0"/><path stroke="#73ff8c" d="M332 246h0M332 250h0M336 250h0M352 250h0M348 254h0M360 254h0M344 258h0M356 258h0M376 278h0M372 282h0M380 282h0M384 282h0M392 282h0M396 282h0M408 282h0M416 282h0M420 282h0M392 286h0M420 286h0M428 286h0M432 286h0M392 290h0M408 290h0M416 290h0M420 290h0M424 290h0M432 290h0"/><path stroke="#00ccff" d="M324 122h0M316 126h0M332 126h0M316 130h0M332 130h0M312 134h0M324 134h0M332 134h0M336 138h0M340 138h0M344 138h0M320 142h0M340 146h0M344 154h0M352 170h0M344 178h0M356 178h0M352 182h0M356 182h0M364 182h0M368 182h0M376 182h0M360 186h0M368 186h0M372 186h0M376 190h0M372 198h0M384 198h0M396 198h0M380 202h0M396 202h0M384 206h0M388 206h0M384 210h0M388 210h0M392 222h0M396 230h0M400 230h0M388 234h0M404 234h0M384 238h0M388 238h0M416 238h0M392 242h0M396 242h0M400 242h0M404 242h0M396 246h0M404 246h0M412 246h0M420 246h0M424 246h0M412 250h0M424 250h0"/><path stroke="#4dffb2" d="M324 230h0M332 234h0M320 242h0M332 242h0M344 242h0M348 242h0M356 242h0M344 246h0M352 246h0M364 254h0M376 266h0M380 274h0M392 274h0M404 274h0M432 274h0M392 278h0M396 278h0M404 278h0M412 278h0M428 278h0M412 282h0M428 282h0M412 286h0M424 286h0"/></g></g></g><g clip-path="url(#boxclip)"><path d="M196.3 96.8 270.9 96.8M214.9 96.8 214.9 168.2M196.3 133.7 214.9 133.7M214.9 125.3 262 125.3M214.9 151.2 249.8 151.2 251.7 152.3 254.2 152.5 256.7 152.4 259.2 153.2 261.1 154.7 262.7 155.6M196.3 168.2 227.5 168.2 227.5 200.6M227.5 176.5 269.9 176.5M196.3 200.6 274.2 200.6M221.5 200.6 221.5 204.5 240.4 204.5 240.4 219.5 242.2 220.7 244.1 220.7 245.4 222.3 247.3 222.6 249.8 223.4 252.3 223 254.2 224.5 256.7 225.3 258.6 225.7 260.5 224.9 263 225.9 265.5 224.9 268 224.5 270.6 224.5 272.5 225.3 275.1 226.5 277.9 227.2M221.2 204.5 221.1 238.8 198.7 238.8M198.7 238.8 199.4 240.5 201.3 242.5 203.2 244 204.6 245.1 205.7 246.5 207.1 248 208.9 248.7 210 250.3 210.8 252 211.5 253.8 211.7 255.7 213.9 257.5 216.4 259.3 219 260.7 220.5 260.9 222.1 258.9 222.1 257 223.4 255.7 225.3 254.6 228.4 254.9 231.5 255.2 232.9 256.4 234.1 257.8 236 260 236.2 262.2 237.8 263.6 239.1 266.4 241 268.6 242 270.2 243.5 271.4 243.8 275 243.9 276.8 245.4 277.8 247.9 279.5 249.4 280.6 251.1 281.3 254.2 282 256.4 283.1 258.3 282.4M258.3 282.4 257.7 279.9 257 276.4 256.7 272.8 258 270 259.2 268.7 259.9 267.2 261.2 266.2 262.4 265 263.4 263.2 265.5 263.6 267.4 263.2 268.7 261.8 270.5 260.8 271.8 259.3 273.4 258.2 272.1 256.4 273.7 255.3 276.2 256.4 279.1 255.7M274.2 200.6 274.2 204.5 274.1 206.3 276 207.8 276.2 209.5 275.8 211.3 275.4 213.1 275.1 226.5M277.9 227.2 277.9 231.2 277.9 238.8 278.7 241.8 280.2 243.6 280.9 245.8 280.3 247.8 280 249.8 279.9 252.8 279.1 255.7M277.9 231.2 295.9 231.3M274.2 200.6 274.2 183.8 272.6 181.4 271.2 178.5 269.9 176.5M274.2 204.5 302.3 204.5 301.1 206.9 301 208.4 305.2 208.4M262.7 155.6 263.6 158.1 264.5 160.2 265.2 162.3 265.3 164.1 266.2 165.7 266.5 169 267 171.7 268.7 174 269.9 176.5M267 171.7 292.4 171.4 294.4 173.3M262.7 146.9 295.6 146.9M262.7 146.9 262.7 131.1 262 125.3 261.1 123.3 261.1 121.1 260.5 116.5 260.2 111 260 109.4 259.6 107.8 258.9 106.3 258.3 101.6 257.8 96.8M262.7 146.9 262.7 148.8 261.8 150.4 260.8 152.4 262 153.9 262.7 155.6M270.9 96.8 273.1 98.7 274.3 99.5 276.9 100.1 279.4 101.1 281.9 100.6 284.4 100.4 286.9 102 288.8 103.3 290.7 103 291.3 104.8 293.2 105.4 295.7 105.8 298.3 105.4 300.8 105.4 303.3 105.8 305.8 106.4M305.8 106.4 304.2 107.9 302 108.6 300.4 110.3 298.3 111 297.2 112.3 295.8 113.2 294.5 114.2 292.6 115 291.3 116.5 288.9 118.4M288.9 118.4 288.9 124 286.9 126.1 286 128.6 285.7 132 286 136 287.3 137.2 288.8 138.2 291.3 139.9 293.1 141.2 294.5 143 295.7 144.8 295.6 146.9M288.9 118.4 290.7 118.4 293.9 117.5 295.6 116.4 297.6 116.1 298.9 118.4 300.6 119.6M300.6 119.6 302.7 121.6 304.2 123.1 306.4 122.9 308.3 123 309.7 124.3 311.5 124.8 315.3 125.2 316.8 127.9 317.1 130.6 318.4 132.8M295.6 146.9 296.1 151.2 297.6 153.8 299.2 155.5 300.8 158.1 302.3 160.6 301.4 163.2 299.5 164.4 298.1 165.2 297 166.5 296.4 169.8 296.3 172.1 294.4 173.3 294.5 176.5 295.4 178.1 296.4 179.7 296.9 182 298.9 183 300.8 185 302.3 187 301.7 190.3 304 190.7 303.9 193.1 305.4 194.3 306.4 195.8 306.4 198.2 307.6 199.3 308.6 200.6 309 202.2 308.1 203.8 306.4 204.5 306.1 206.9 305.2 208.4 303.8 210.2 303 212.3 302.7 215.4 301.4 217.7 300.5 219.2 299.5 220.7 299.5 222.8 297.6 223.8 296.4 225.5 296.4 227.6 295.9 231.3 296.4 234.3 297 237.3 295.4 238.5 294.5 240.3 293.9 243.2 293 246.2M293 246.2 305 246.2 304.9 248.4 304.6 250.4 305.8 252.2M299.3 155.5 317.1 155.5M318.8 161.8 318.8 181.8 318.4 183.8 319 187 317.8 189.5 316.5 191.9 315.6 194.2M308.6 200.6 310.8 199.4 312.7 199.8 314.6 197.4 316.1 196.1 315.6 194.2 318.4 193.5 321.5 194.2 324.7 193.5 327.8 192.7 329.7 191.1 331.6 188.6 333.5 187 336 186.2 335.9 183.8 337.9 183.8 339 185.2 340.4 186.2 342.9 187.4 346.1 187.8 348.6 186.6 349.9 189 351.8 187 352.7 185.4 354.9 183.4 357.4 181.8 359.9 180.1 361.2 177.3 362.1 174.8 362.6 173 363 171.2M335.9 161.8 335.9 183.8M320.9 161.8 335.9 161.8 344.5 162.1M363 171.2 363 159.8M367.7 157.5 367.7 159.8 395.4 159.8M363 171.2 363 178.8 392.7 178.8M349.9 191.1 351.9 192.5 352.4 195 354 196.4 355.5 199 357.4 198.2 359.9 198.2 362.5 197.4 364.3 196.2 366.2 193.9 367.6 192.7 368.1 191.1 369.4 189 371.3 188.6 373.2 186.2 375 184.6 376.6 182.2 380.1 182.2M380.1 182.2 378.5 181.5 377.6 180.1 375.7 180.1 373.8 179.7 371.9 181 369.5 183 369.5 178.8M343.1 203.7 346.1 202.6 348 200.6 350.5 199 352 197.4 354 196.4M354 196.4 351.8 194.2 350.8 191.9 349.9 191.1 349.9 189M306.4 204.5 315.6 204.5 315.6 203.1 322.2 203.3 331.6 203.7 337.9 203.7 343.1 203.7M343.1 203.7 355.7 203.8M355.7 203.8 354.3 206.1 352.4 207.6 349.9 208.6 348.8 210.3 346.7 210.4 344.2 211.9 343 213.5 341.1 213.8 339 216.1M339 216.1 301.4 216.1M355.7 203.8 392.2 204.1M339 216.1 346.7 216.1 348.8 215 351.1 214.6 359.7 215 360.4 215.4 361.2 217.5 368.2 217.7 375.4 224.8M346.7 216.1 346.8 218.2 348.6 219.2 351 219.8 351.1 222.3 353 223.7 353 226.1 353.8 227.7 354.9 229.1 356.8 231.3 356.4 233.2 358 234.3 358.3 236.2 359.3 237.7 360.6 238.4M331 216.1 333.5 231.3 335.3 232.6 336.2 234.1 334.8 236.2 334.4 241.8 334.8 246.2M334.8 246.2 335.6 248.3 344.2 248.7 352.4 249.3 353.3 250.6 355.2 249.1 357.1 248.4M334.8 246.2 318.4 246.2 319 248.4 319.7 250.6M314.6 216.1 312.9 239.5 313.4 250.6M279.1 255.7 281.9 255.2 284 256 286.3 256.4 288.8 256.7 291.3 255.7 293.9 257.1 295.7 258.9 298.3 260 300.8 259.6 302.7 258.9 304.6 258.2 307.1 260 308.6 260.7 307.7 258.6 306.4 257.1 305.2 255.7 306.8 253.8 305.2 252.9 305.8 252.2M300.5 253.1 302.7 252 304.6 252 304.9 253.1 303 253.3 300.5 253.1M305.8 252.2 307.5 250.9 309.6 250.7 313.4 250.7 315.3 249.1 315.9 251.3 318.4 251.5 320.1 250.2 322.2 250.6 325.3 250.6 328.5 251.3 331 252.8 331.1 254.6 332.6 255.7 335.4 255.3 337.3 255.3 338.5 253.8 341.1 252.8 342.9 254.2 343.8 255.7 344.8 257.1 346.7 259.3 348.6 261.4 348.9 265 348.6 267.9 349.9 270 349.6 272.1 350.2 273.6 351.1 275 352.4 277.1 354.3 279.2 354.9 282 356.8 283.4 358.7 285.5 359.6 287.6 362.5 287.6 363.7 286.9 364.3 284.8 365.3 282 365.9 278.5 365.9 275.7 365 272.8 364.6 271 363.7 269.3 364.2 267.1 362.5 265.7 362.1 263.6 361.8 261.9 360.6 260.7 360.1 258.8 359 257.1 358.9 255.2 358 253.5 357.4 250.6 357.1 248.4M363.7 286.9 365.5 288.4 365 290.7 364.7 292.9 366.2 294.5M357.1 248.4 357.7 245.4 358.7 242.5 359.3 239.5 360.6 238.4 362.5 236.6 363.7 235.1 366.2 233.6 368 233 368.7 231.3 370.3 230.5 371.3 229.1 371 226.9 373.2 226.4 375.4 224.8 379.1 224.5 380.1 221.5 382.6 220 385.1 218.4 388.3 218.8 389.5 216.5 390.8 215.2 392.7 214.6 394.6 212.3 394.6 210 394.3 208.1 393 206.9 392.2 204.1 391.7 201.4M388.3 216.5 388.1 214.4 390.1 213.8 387.6 212.3 389.5 211.4 391.4 210.7 388.9 209.2 390.8 209.1 392 207.6 387.6 208.4M391.7 201.4 389.5 201 388.9 199 389.5 196.6 389.2 194.2 389.5 192.3 387.6 191.1 385.7 190.3 384.8 188.6 384.5 186.2 384.8 185 383.2 183.8 382 183 380.1 182.2M389.5 192.3 388.3 190.3 388.9 187.8 387.9 185.4 388.6 183 389.5 181.8 390.8 180.1 391.7 179.7 392.7 178.8M385.1 189.5 387 188.6 387.6 191.1M388.9 195.8 386.9 195.9 385.7 194.2 387.6 196.6M391.7 179.7 390.1 182.2 390.8 185 389.5 187 389.4 189.3 391.4 190.3 392 192.7 391.7 195.8 391.4 199.4 392 199.4 393.3 197.8 393.9 195.8 394.6 194.4 395.5 193.1 396.4 191.1 397.4 189 397.1 186.2 396.3 184.5 395.2 183 394.2 180.1 394.2 178.1M392.7 178.8 392.7 189 397.4 189M393.6 193.1 396.2 192.4M394.2 178.1 396.4 177.3 397.7 176 399.3 174.8 397.7 172.7 396.4 170.3 397.4 168.2 398.3 166.5 399.6 165.3M392.7 178.8 394.6 177.8 395.1 178.1M395.4 159.8 397.1 161.5 398.3 164 399.6 165.3M399.6 165.3 401 166.7 402.9 167.3 404.6 168.3M404.6 168.3 404 170.3 402.4 172.3 404 173.2 403.7 176.5 403.4 178.5 402.1 180.5 400.2 182.6 398.3 185 398 183 395.8 181.8 394.2 179.7M404 171.5 407.1 171.5 410.3 170.7 413.4 169.8 415.4 169.8 416.6 168.2 414.1 168.6 411.5 168.6 408.4 169 405.9 169.4 404.6 169.8M367.7 157.5 370 156 372.5 154.2 373.2 152.1 372.2 150.4 372.2 148.9 375.7 148 378.8 148 381.3 149.1 385.1 148.8 387.6 147.8 390.1 146.5 390.1 143.4 389.2 141.7 390.3 140.2 392 139.5 393.4 137.7 395.2 136.4 397 135.9 397.7 134.2 399.6 133.7 408.1 133.7M408.1 133.7 419.7 133.6 421.1 132.4 422.4 131.1M408.1 133.7 408.1 138.2 407.8 142.6 408.9 144.4 408.7 146.5 408.7 151.2 408.6 153.4M408.6 153.4 407.4 155.2 406.6 157.1 407.1 159.4 407.1 165.7 406.2 168.2M413.1 153.6 413.7 151.2 414.1 146.9 415.3 144.3 415.6 142 416.6 139.9 417.1 137.9 419.1 137.3 419.7 133.6M408.6 153.4 413.7 153.6 421 153.8 422.9 153 424.1 152.4M424.8 150.5 423.8 148.8 423.1 146.9 422.9 142.6 422.6 135.5 422.4 131.1M422.4 131.1 424.1 129.7 425 128.1 426 126.6 426.4 124.7 427.3 122.9 428.9 120.9 428.5 118.4 429.2 113.8M407.1 159.4 417.8 159.6 420.5 159.6 420.5 164M417.8 159.6 417.5 165.5M406.2 168.2 408.4 167.2 410.3 166.5 412.8 165.9 415.3 165.7 417.5 165.5 419.7 165.1 421 164 422.2 164 423.5 163.6 425.4 163.6 427.9 162.7 429.2 161.9 429.2 159.4 427.9 159.4 426 161 425.1 159.8 424.8 157.7 423.5 156 424.1 153.8 424.1 152.4 424.8 150.5 425.1 148.7 426.6 147.8 427.9 145.6 429.2 144.3M429.2 144.3 429.2 113.8M318.8 161.8 320.3 162.7 322.2 162.5 323.7 161.5 325.3 158.9 326.6 156.4 327.2 153 326.9 149.5 327.2 147.5 325.6 146.1 325.9 142.6 325.7 140.5 327.2 139.1 327.1 137.1 328.2 135.5 329.9 134.3 331 132.4 331.6 135.5 332.6 133.7 334.1 132.6 334.1 130.6 335.2 129 335.1 127 337.3 126.6 339.8 128.2 342.3 129.7 343.4 131 344.8 132 345.5 135.5 345.1 139.5 344.3 141 343.6 142.6 342.5 144 341.7 145.6 343.2 144.9 344.2 143.4 345.7 142.7 347.3 142.1 349.2 143 349.7 145 350.5 146.9 350.8 151.2 350.5 154.7 348.6 156.4 346.7 158.1 346.1 160.2 344.5 162.1M300.6 119.6 303.3 119.1 305.1 118.7 306.4 117.5 309.6 116.5 311.2 115.8 312.7 115.2 314.6 112.8 316.5 111.4 315.2 112.5 314.5 114 314 115.6 315.9 116.5 315.8 118.7 317.8 119.1 319 120.2 322.2 120.7 325.3 120.2 326.8 119.2 328.5 118.8 331.6 118.4 334.8 117.9 336.6 120.2 338.5 120.2 340.4 121.1 341.1 123.9 339.6 124.7 337.9 124.9 334.8 124.3 331.6 124.8 329.1 125.2 326.6 126.1 324.7 127.9 322.8 126.6 320.3 128.4 319.7 129.9 318.4 131.1 318.4 132.8M317.1 155.5 316.8 151.2 316.5 147.8 316.9 146 317.8 144.3 318.4 140.8 319 137.3 320.5 135.7 321.5 133.7 322.2 131.5 319.6 132.4 319 135.1 317.1 136.8 315.9 137.7 314.7 135.5 317.1 134.6 318.4 132.8M317.1 155.5 318.4 157 318.1 158.9 318.4 161 318.8 161.8M344.5 162.1 346.7 163.2 349.2 164.4 351.8 164.8 354.3 164 355.9 163.5 357.4 162.7 359.9 161 361.5 160.8 363 159.9 365.6 158.9 367.7 157.5" fill="none" stroke="#000" stroke-width="2.9" stroke-linejoin="round"/><path d="M258.3 282.4 257.7 279.9 257 276.4 256.7 272.8 258 270 259.1 268.7 259.9 267.2 260.9 265.8 262.4 265 264.2 264.7 265.5 263.6 267.2 262.9 268.7 261.8 270 260.2 271.8 259.3 273.4 258.2 272.1 256.4 273.7 255.3 276.2 256.4 279.1 255.7M279.1 255.7 281.9 255.2 283.6 257.5 286.3 256.4 288.8 256.7 291.3 255.7 293.9 257.1 295.7 258.9 298.3 260 300.8 259.6 302.7 258.9 304.6 258.2 307.1 260 308.6 260.7 307.7 258.6 306.4 257.1 305.2 255.7 306.8 253.8 305.2 252.9 305.8 252.2M305.8 252.2 307.8 251.7 309.6 250.7 313.4 250.7 315.3 249.1 315.9 251.3 318.4 251.5 320.2 250.6 322.2 250.6 325.3 250.6 328.5 251.3 331 252.8 331.8 254.2 332.6 255.7 335.4 255.3 336.9 254.4 338.5 253.8 341.1 252.8 342.9 254.2 343.9 255.6 344.8 257.1 346.7 259.3 348.6 261.4 348.9 265 348.6 267.9 349.9 270 349.6 272.1 352.1 272.6 351.1 275 352.4 277.1 354.3 279.2 354.9 282 356.8 283.4 358.7 285.5 359.6 287.6 362.5 287.6 363.7 286.9 364.3 284.8 365.3 282 365.9 278.5 365.9 275.7 365 272.8 364 271.2 363.7 269.3 363.8 267.3 362.5 265.7 362.1 263.6 360.6 262.6 360.6 260.7 359.7 258.9 359 257.1 359.2 255.1 358 253.5 357.4 250.6 357.1 248.4M357.1 248.4 357.7 245.4 358.7 242.5 359.3 239.5 360.6 238.4 362.5 236.6 363.7 235.1 366.2 233.6 367.9 232.9 368.7 231.3 370.8 231 371.3 229.1 371.2 227 373.2 226.4 375.4 224.8 379.1 224.5 380.1 221.5 382.6 220 385.1 218.4 388.3 218.8 389.5 216.5 391 215.3 392.7 214.6 394.6 212.3 394.6 210 393.5 208.5 393 206.9 392.2 204.1 391.7 201.4M388.3 216.5 389.6 215.5 390.1 213.8 387.6 212.3 389.8 212.3 391.4 210.7 388.9 209.2 389.6 206.6 392 207.6 387.6 208.4M391.7 201.4 389.5 201 388.9 199 389.5 196.6 389.2 194.2 389.5 192.3 387.6 191.1 385.7 190.3 384.8 188.6 384.5 186.2 384.8 185 383.2 183.8 382 183 380.1 182.2M389.5 192.3 388.3 190.3 388.9 187.8 387.9 185.4 388.6 183 389.5 181.8 390.8 180.1 391.7 179.7 392.7 178.8M385.1 189.5 387 188.6 387.6 191.1M388.9 195.8 387.7 194.3 385.7 194.2 387.6 196.6M391.7 179.7 390.1 182.2 390.8 185 389.5 187 391.4 188.1 391.4 190.3 392 192.7 391.7 195.8 391.4 199.4 392 199.4 393.4 197.9 393.9 195.8 393.7 193.9 395.5 193.1 396.4 191.1 397.4 189 397.1 186.2 396.2 184.5 395.2 183 394.2 180.1 394.2 178.1M392.7 178.8 392.7 189 397.4 189M393.6 193.1 396.2 192.4M404.6 168.3 404 170.3 402.4 172.3 404 173.2 403.7 176.5 403.4 178.5 402.1 180.5 400.2 182.6 398.3 185 398 183 395.8 181.8 394.2 179.7M404 171.5 407.1 171.5 410.3 170.7 413.4 169.8 415.4 169.8 416.6 168.2 414.1 168.6 411.5 168.6 408.4 169 405.9 169.4 404.6 169.8M406.2 168.2 408.4 167.2 410.3 166.5 412.8 165.9 415.3 165.7 417.5 165.5 419.7 165.1 421 164 422.2 164 423.5 163.6 425.4 163.6 427.9 162.7 429.2 161.9 429.2 159.4 427.9 159.4 426 161 425.1 159.8 424.8 157.7 423.5 156 424.1 153.8 424.1 152.4 424.8 150.5 425.6 149.1 426.6 147.8 427.9 145.6 429.2 144.3" fill="none" stroke="#000" stroke-width="3.6" stroke-linejoin="round"/><polygon points="396.2,166.5 401,168.4 403,173.3 400.5,181 398,188.8 395.5,196.6 393.5,204.4 395.5,212.5 391,216.5 386.5,212 387,205 383,198 386,193 384,187 386,182 390,179.5 395,177.5 397,172.3"/><polygon points="403,168 410,165 418,162 428,158.5 430,160.5 422,165 414,169 406,172.5 402,172"/><polygon points="299,252 304,249.5 309,251 311,256 311,263 306,262 302,258 298,256"/></g></g><g transform="translate(842,0)"><text x="163.3" y="112.9" text-anchor="end" class="lb" textLength="16.7" lengthAdjust="spacingAndGlyphs">48</text><circle cx="168" cy="99.5" r="1.2" class="dg"/><text x="175.7" y="112.9" class="lb" textLength="9.2" lengthAdjust="spacingAndGlyphs">N</text><text x="163.3" y="130.8" text-anchor="end" class="lb" textLength="16.7" lengthAdjust="spacingAndGlyphs">46</text><circle cx="168" cy="117.5" r="1.2" class="dg"/><text x="175.7" y="130.8" class="lb" textLength="9.2" lengthAdjust="spacingAndGlyphs">N</text><text x="163.3" y="147.8" text-anchor="end" class="lb" textLength="16.7" lengthAdjust="spacingAndGlyphs">44</text><circle cx="168" cy="134.4" r="1.2" class="dg"/><text x="175.7" y="147.8" class="lb" textLength="9.2" lengthAdjust="spacingAndGlyphs">N</text><text x="163.3" y="166.7" text-anchor="end" class="lb" textLength="16.7" lengthAdjust="spacingAndGlyphs">42</text><circle cx="168" cy="153.3" r="1.2" class="dg"/><text x="175.7" y="166.7" class="lb" textLength="9.2" lengthAdjust="spacingAndGlyphs">N</text><text x="163.3" y="182.9" text-anchor="end" class="lb" textLength="16.7" lengthAdjust="spacingAndGlyphs">40</text><circle cx="168" cy="169.5" r="1.2" class="dg"/><text x="175.7" y="182.9" class="lb" textLength="9.2" lengthAdjust="spacingAndGlyphs">N</text><text x="163.3" y="197.9" text-anchor="end" class="lb" textLength="16.7" lengthAdjust="spacingAndGlyphs">38</text><circle cx="168" cy="184.5" r="1.2" class="dg"/><text x="175.7" y="197.9" class="lb" textLength="9.2" lengthAdjust="spacingAndGlyphs">N</text><text x="163.3" y="214.9" text-anchor="end" class="lb" textLength="16.7" lengthAdjust="spacingAndGlyphs">36</text><circle cx="168" cy="201.5" r="1.2" class="dg"/><text x="175.7" y="214.9" class="lb" textLength="9.2" lengthAdjust="spacingAndGlyphs">N</text><text x="163.3" y="228.9" text-anchor="end" class="lb" textLength="16.7" lengthAdjust="spacingAndGlyphs">34</text><circle cx="168" cy="215.5" r="1.2" class="dg"/><text x="175.7" y="228.9" class="lb" textLength="9.2" lengthAdjust="spacingAndGlyphs">N</text><text x="163.3" y="245.8" text-anchor="end" class="lb" textLength="16.7" lengthAdjust="spacingAndGlyphs">32</text><circle cx="168" cy="232.4" r="1.2" class="dg"/><text x="175.7" y="245.8" class="lb" textLength="9.2" lengthAdjust="spacingAndGlyphs">N</text><text x="163.3" y="259.9" text-anchor="end" class="lb" textLength="16.7" lengthAdjust="spacingAndGlyphs">30</text><circle cx="168" cy="246.5" r="1.2" class="dg"/><text x="175.7" y="259.9" class="lb" textLength="9.2" lengthAdjust="spacingAndGlyphs">N</text><text x="163.3" y="273.1" text-anchor="end" class="lb" textLength="16.7" lengthAdjust="spacingAndGlyphs">28</text><circle cx="168" cy="259.7" r="1.2" class="dg"/><text x="175.7" y="273.1" class="lb" textLength="9.2" lengthAdjust="spacingAndGlyphs">N</text><text x="163.3" y="287.8" text-anchor="end" class="lb" textLength="16.7" lengthAdjust="spacingAndGlyphs">26</text><circle cx="168" cy="274.4" r="1.2" class="dg"/><text x="175.7" y="287.8" class="lb" textLength="9.2" lengthAdjust="spacingAndGlyphs">N</text><text x="163.3" y="301.9" text-anchor="end" class="lb" textLength="16.7" lengthAdjust="spacingAndGlyphs">24</text><circle cx="168" cy="288.5" r="1.2" class="dg"/><text x="175.7" y="301.9" class="lb" textLength="9.2" lengthAdjust="spacingAndGlyphs">N</text><text x="163.3" y="315.4" text-anchor="end" class="lb" textLength="16.7" lengthAdjust="spacingAndGlyphs">22</text><circle cx="168" cy="302" r="1.2" class="dg"/><text x="175.7" y="315.4" class="lb" textLength="9.2" lengthAdjust="spacingAndGlyphs">N</text></g><g transform="translate(843.6,-2)"><text x="216" y="77" class="lb lo" textLength="24.4" lengthAdjust="spacingAndGlyphs">100</text><circle cx="244.8" cy="64.4" r="1.2" class="dg"/><text x="252.8" y="77" class="lb lo" textLength="12.8" lengthAdjust="spacingAndGlyphs">W</text><text x="284.8" y="77" class="lb lo" textLength="15.6" lengthAdjust="spacingAndGlyphs">90</text><circle cx="304.8" cy="64.4" r="1.2" class="dg"/><text x="314" y="77" class="lb lo" textLength="12.4" lengthAdjust="spacingAndGlyphs">W</text><text x="348.8" y="77" class="lb lo" textLength="16.8" lengthAdjust="spacingAndGlyphs">80</text><circle cx="370" cy="64.4" r="1.2" class="dg"/><text x="377.6" y="77" class="lb lo" textLength="13.2" lengthAdjust="spacingAndGlyphs">W</text><text x="412" y="77" class="lb lo" textLength="15.2" lengthAdjust="spacingAndGlyphs">70</text><circle cx="431.6" cy="64.4" r="1.2" class="dg"/><text x="440.4" y="77" class="lb lo" textLength="13.2" lengthAdjust="spacingAndGlyphs">W</text></g><g transform="translate(844,0)"><rect x="441.5" y="95.5" width="23" height="215" fill="url(#jetg)" stroke="#1a1a1a" stroke-width="0.9"/><text x="474.2" y="115.3" class="cb" textLength="41.8" lengthAdjust="spacingAndGlyphs">280</text><line x1="461.5" x2="464.8" y1="107.3" y2="107.3" stroke="#262626" stroke-width="0.8"/><text x="474.2" y="158.9" class="cb" textLength="41.8" lengthAdjust="spacingAndGlyphs">270</text><line x1="461.5" x2="464.8" y1="150.9" y2="150.9" stroke="#262626" stroke-width="0.8"/><text x="474.2" y="202.5" class="cb" textLength="41.8" lengthAdjust="spacingAndGlyphs">260</text><line x1="461.5" x2="464.8" y1="194.5" y2="194.5" stroke="#262626" stroke-width="0.8"/><text x="474.2" y="246.1" class="cb" textLength="41.8" lengthAdjust="spacingAndGlyphs">250</text><line x1="461.5" x2="464.8" y1="238.1" y2="238.1" stroke="#262626" stroke-width="0.8"/><text x="474.2" y="289.7" class="cb" textLength="41.8" lengthAdjust="spacingAndGlyphs">240</text><line x1="461.5" x2="464.8" y1="281.7" y2="281.7" stroke="#262626" stroke-width="0.8"/></g><text x="972.2" y="342.1" class="tt" textLength="356.4" lengthAdjust="spacingAndGlyphs">SAT+RAP 500 hPa Temp (K)</text><g transform="translate(0,389.6)"><rect x="196.3" y="96.8" width="232.9" height="212.8" fill="#fff" stroke="#000" stroke-width="1.1"/><g fill="none" stroke-width="7.4" stroke-linecap="round"><path stroke="#00008c" d="M383.3 138.4h0M366.8 227.3h0M370.6 226.2h0M372.1 238.7h0M373.7 237h0M360.4 245.2h0M366 250.8h0M428.7 279.7h0"/><path stroke="#cc0000" d="M355.6 127.7h0M329.3 135.2h0M339.8 144.1h0M349.3 165.7h0M405.8 186.1h0"/><path stroke="#00ffff" d="M410.1 234.7h0M329.3 250.1h0M392.9 249.6h0M386.3 253h0M355.4 298.1h0"/><path stroke="#0000bf" d="M405.9 212h0M375.5 224h0M391 231.8h0M413 257.5h0M408.9 260h0M402.3 284.6h0"/><path stroke="#66ff99" d="M325.9 200.2h0M423.3 226h0M345.1 231.8h0M381 272.4h0"/><path stroke="#33ffcc" d="M311 185.3h0M336.7 215.5h0M416.7 219.4h0M417.5 226.8h0M402.3 235h0M345.3 306.1h0"/><path stroke="#990000" d="M348.5 117h0M351.8 117.3h0M325.2 123.1h0M316.7 127.9h0M341.6 128.2h0M306.7 132.5h0M311.2 132h0M333.2 136.4h0M298.8 139h0M344.2 139.5h0M318.6 143.2h0M321.5 146.6h0M306 154.5h0M294.4 158.4h0M299.6 162.8h0M336.2 169.8h0M409.3 173.6h0M413.5 173.1h0"/><path stroke="#000dff" d="M428.5 197.3h0M400.5 207.9h0M420.1 257.4h0M397.2 290.6h0M400.5 291.3h0"/><path stroke="#a60000" d="M358.5 119.3h0M328.9 123.7h0M343.4 124.3h0M349 124.9h0M360.7 128.7h0M364.1 130.9h0M383.5 149.9h0M322.1 159.5h0M356.8 166.6h0M321.9 174.8h0M420 173.8h0M417.5 177.1h0M408.4 181.8h0"/><path stroke="#e50000" d="M332.4 163.1h0M313.9 174.3h0M316.8 180.3h0"/><path stroke="#004dff" d="M393 132.5h0M364 226.4h0M401.2 253.6h0M404.5 261h0M366.4 286.7h0M428.7 294.1h0"/><path stroke="#0000ff" d="M359.2 264.3h0M358.7 271.2h0M355.5 276.3h0M412.5 276.2h0M427.3 276.5h0M416.5 280.6h0M420 287.7h0M402.4 297.9h0M406.2 299.7h0"/><path stroke="#00b2ff" d="M318.7 215.4h0M328.5 233.6h0M408.2 242.3h0M375.1 247h0M336.6 249.4h0"/><path stroke="#b30000" d="M359.9 115.4h0M362.5 117.4h0M355.9 121.2h0M343.5 132.3h0M307.1 135.7h0M347.2 135.3h0M358.8 135.8h0M340.8 139h0M332.2 143.4h0M334 147.2h0M337.3 147.3h0M352.1 146.4h0M386.9 151.3h0M299.8 155.1h0M393.5 154h0M332 158h0M328.9 163.3h0M348.5 162.8h0M340.6 176.9h0"/><path stroke="#ffd900" d="M379.7 182.3h0M349.2 183.8h0M355.1 193.7h0"/><path stroke="#99ff66" d="M335.8 184.4h0M332.7 189.6h0M375.9 188.9h0M425.2 193.7h0M373.7 203.7h0M350.8 215.8h0M350.9 223.2h0M423.2 221.9h0M428.1 223.7h0M348.2 228h0M389.5 107.4h0"/><path stroke="#00e5ff" d="M336.9 222.6h0M423.1 241.6h0M377.4 250.4h0"/><path stroke="#0000f2" d="M381.3 131.2h0M395 142.7h0M378.4 215.6h0M368.3 267.7h0M420.3 276.3h0M429.2 303.6h0"/><path stroke="#ff8c00" d="M405.1 189.7h0"/><path stroke="#ffff00" d="M335.7 181.5h0"/><path stroke="#4dffb2" d="M306.3 189.5h0M328.8 195.8h0M340.7 196.4h0M343.5 214.6h0M405.5 231h0M401.8 238.2h0M343.3 244.7h0M424.1 246.9h0M421.5 253.1h0M348.9 302.1h0"/><path stroke="#0000b2" d="M378 127.5h0M310.8 196.5h0M371.4 248.5h0M428.1 257h0M427.9 264.1h0M408.1 276.9h0M400.6 302.5h0"/><path stroke="#ffe500" d="M386.1 173.5h0M396.9 182h0"/><path stroke="#0dfff2" d="M322.4 199h0M333.8 212.1h0M413.3 223.1h0M352.2 234.3h0"/><path stroke="#00f2ff" d="M329.7 210.6h0M325.8 224h0M330.2 242.7h0"/><path stroke="#ff9900" d="M359 173.6h0M386.9 207.2h0"/><path stroke="#ffcc00" d="M397 149.7h0M390.4 178.3h0M359.6 188.5h0"/><path stroke="#00a6ff" d="M390.5 105h0M325.9 203.9h0M325.4 235.4h0M351.3 256.9h0M394.4 280.1h0"/><path stroke="#0000a6" d="M417.3 204.4h0M390.9 215.5h0M369.9 241.3h0M371.4 246.5h0M360.5 250.1h0M364.2 250.2h0M419.6 260.8h0M415.6 303.7h0"/><path stroke="#ffbf00" d="M374.5 169.9h0M387.3 193.8h0"/><path stroke="#0080ff" d="M382.2 117.2h0M321.3 233.6h0M375 252.3h0M400.6 276.3h0"/><path stroke="#00bfff" d="M378.8 124.1h0M389.9 124.1h0M379.7 211.4h0M385.1 238.7h0M405 242.1h0M333.4 245.8h0M339.4 249h0M348.9 249.2h0M360.5 296h0M366.4 302.1h0"/><path stroke="#d9ff26" d="M314.4 187.9h0M340.4 188.5h0M364.4 211.2h0"/><path stroke="#000080" d="M402.4 211.8h0M382.9 222.5h0M356.1 269.5h0"/><path stroke="#0099ff" d="M351 261.9h0"/><path stroke="#0073ff" d="M375.4 127.9h0M423 197.4h0M371 257.7h0M348.6 264.3h0M389.6 288.5h0M371.8 298.1h0"/><path stroke="#0000e6" d="M392.8 136.2h0M389.8 138.3h0M394.5 139.6h0M364.1 273.4h0M356.8 283h0"/><path stroke="#800000" d="M332.1 121.5h0M320.7 125.4h0M321.4 127h0M332.1 127.8h0M314.6 130.9h0M297.8 135.2h0M318.3 136.3h0M370 143.8h0M296 146.7h0M303.7 147.9h0M309.7 146.3h0M310.7 150.7h0M291.2 153.6h0M425 170.8h0M402 177h0"/><path stroke="#ffb300" d="M385.5 166.3h0M378 170.8h0M378.4 174.7h0M351.7 181.6h0M325.8 184.2h0M381.4 188.1h0M393.3 206.8h0"/><path stroke="#ff8000" d="M385.4 147.1h0M371.4 159.5h0M397.9 163.2h0M366.5 176.4h0M401.8 149.4h0M405 151.4h0"/><path stroke="#ff2600" d="M389.1 151.4h0"/><path stroke="#40ffbf" d="M367.4 184h0M413.6 218.7h0M428.6 242.7h0M409.7 244.7h0M378.3 275.5h0"/><path stroke="#000099" d="M383.2 235.2h0M366.9 242.3h0M366.1 245.7h0M407.9 264.3h0M366.2 276.9h0M379.7 307.6h0"/><path stroke="#1affe5" d="M352.2 207.8h0M356.1 233.9h0M421.1 235.3h0M340.9 242.5h0M356.7 305.5h0"/><path stroke="#ff5900" d="M394.1 177.1h0M402.4 195.7h0"/><path stroke="#00ccff" d="M317.8 220.1h0M318.5 221.8h0M326.1 229.8h0M345.2 243.1h0M387 248.5h0M397.5 249h0M377.8 287.2h0"/><path stroke="#0033ff" d="M392.9 112.7h0M382.3 128h0M317.8 205h0M409.5 204.4h0M371.6 252.6h0M424.6 288h0M413.4 291.6h0"/><path stroke="#0059ff" d="M378.6 116.8h0M404.7 272.4h0"/><path stroke="#ffa600" d="M382.5 163h0"/><path stroke="#ff3300" d="M369.8 136.8h0M364.3 161.5h0M302.9 174.5h0M318.4 174.5h0M332.2 176.3h0M313.5 180.3h0M419.8 181.6h0"/><path stroke="#0000cc" d="M379.4 131.5h0M429.1 199.2h0M404 206.9h0M381.9 212.5h0M404.7 219.2h0M408.5 219.8h0M401.8 257.4h0M416 263.7h0M426.9 273.4h0M413.9 284.2h0M417.6 283.9h0M389.7 298.3h0M413 306.3h0M408 112.9h0"/><path stroke="#59ffa6" d="M364 185.4h0M427 215.4h0M409.2 227.9h0M416.4 234.7h0M402.4 241h0M401.5 246h0M416.8 249.8h0"/><path stroke="#008cff" d="M393.8 230.6h0M393.2 253.1h0M417.1 253.7h0M386.2 283.4h0M412.6 288.6h0M374.9 295.2h0"/><path stroke="#0000d9" d="M390.6 130.9h0M386.6 139.3h0M424.5 204.2h0M401.9 219.6h0M360.1 260.6h0M364.1 265.4h0M366.3 264.2h0M425.1 264.9h0M367.6 271.3h0M358.5 279.8h0M383.4 303.1h0M409.3 301.7h0M425 305.6h0"/><path stroke="#ccff33" d="M314.3 185.5h0M382 199.7h0M406.2 203.4h0M344.3 218.5h0M426.9 227.2h0M424.3 237.8h0M374.2 276.4h0"/><path stroke="#8cff73" d="M348.8 196.3h0M356.1 215.4h0M354.6 222.8h0M356.6 231.5h0M382 283.9h0"/><path stroke="#ff0000" d="M371.8 155.7h0M427.9 172.9h0M303.1 178.3h0"/><path stroke="#ff0d00" d="M359 147.1h0M362.3 157.7h0M390.9 162.6h0M389.8 203.7h0M396.6 204.1h0"/><path stroke="#e5ff1a" d="M318.7 185h0M370 188.3h0M375.5 192.1h0M381.2 193.8h0M382 207.9h0M350.9 230.8h0M428.7 248.8h0M386.5 109.9h0"/><path stroke="#26ffd9" d="M355.2 203.6h0M427.4 207.3h0M339.7 231.2h0M412.8 234.6h0M344.6 237.3h0M352.9 238.3h0M378.2 254.2h0M372 284.5h0"/><path stroke="#0040ff" d="M378.6 121.3h0M310.8 202.8h0M349 257.4h0M408.9 271.6h0M423.8 298.2h0"/><path stroke="#f20000" d="M383.3 146.9h0M325.8 174.1h0"/><path stroke="#bfff40" d="M306.8 185.7h0M335.8 188.5h0M347.5 188.6h0M350.8 199.3h0M378.4 207.5h0"/><path stroke="#ff7300" d="M374.4 150.3h0M367.8 161.3h0M381.9 166.8h0M381.8 172.4h0M356 177.5h0M360 177.9h0"/><path stroke="#b3ff4c" d="M396.4 169.6h0M344.1 188.5h0M355.7 196.2h0M345.1 207.2h0M373.6 208.6h0M325.8 215.4h0M359.6 214.7h0M348.5 233.7h0M412.9 249.6h0"/><path stroke="#ff6600" d="M382 157.9h0M392.8 174.1h0M421.1 184.6h0M401.7 192.1h0M390.2 206.9h0"/><path stroke="#a6ff59" d="M373.7 135.5h0M383.2 170.7h0M387.3 168.7h0M373.7 196.9h0M340.5 199.9h0M352.6 204h0M366.1 214.3h0M360.2 218.6h0"/><path stroke="#fff200" d="M385.8 104.8h0M355.1 218.3h0"/><path stroke="#8c0000" d="M316.9 140.5h0M299.4 143.3h0M375.5 144.2h0M318.9 147.8h0M325.9 149.9h0M316.9 154.8h0M310.5 158.4h0M413 168.6h0M417 172.9h0"/><path stroke="#73ff8c" d="M375.9 182.4h0M310.9 189.1h0M313.9 191.6h0M367.7 192.7h0M364.2 203.2h0M427.8 210.9h0M367.3 218.9h0M351.2 225.9h0M355.7 238.9h0M416.4 237.2h0"/><path stroke="#ff4000" d="M298.3 169h0M363.4 170.8h0M329.1 174.3h0M397.3 197.5h0"/><path stroke="#ff1a00" d="M400.2 163h0M359.3 166.1h0M352.7 177.7h0M386.1 205.2h0"/><path stroke="#bf0000" d="M378.1 108.9h0M371.5 113.5h0M371.1 116h0M367.2 121h0M330 133h0M366.7 132.2h0"/><path stroke="#0026ff" d="M398.1 296.4h0"/><path stroke="#d90000" d="M358.5 131.8h0M367.6 155.3h0M374.9 153.4h0M337.1 161.5h0M296 169.3h0M420.9 178.1h0"/><path stroke="#80ff80" d="M378 184.7h0M363.9 218.3h0M336.4 231.3h0M425 248.9h0M377.6 281.1h0"/><path stroke="#00d9ff" d="M317.9 212h0M322 218.2h0M348.2 246.8h0M401.2 248.8h0M371.2 259.9h0M382.2 292.2h0M355.7 303.7h0"/><path stroke="#ff4c00" d="M367.5 139.6h0M377.7 159h0M392.8 195.3h0"/><path stroke="#0019ff" d="M412.4 216h0M366.6 283.8h0M404.9 284.9h0M416.4 295.7h0"/><path stroke="#0066ff" d="M318.1 226.2h0M398.5 276.2h0M374.4 302.3h0M387.3 302.5h0"/><path stroke="#ff0000" d="M307.4 173.7h0M310.2 180.2h0"/><path stroke="#4dffb2" d="M363.5 192.1h0M320.8 196.1h0M314.6 210.7h0M336.1 212.6h0M416.5 216.3h0"/><path stroke="#0040ff" d="M348.5 253.9h0M417.6 273.3h0M368.1 280.9h0M393.8 286.7h0M394.2 298.1h0M393.1 302.4h0"/><path stroke="#00ccff" d="M326.6 237.1h0M341 253.9h0M375.7 257h0M367.2 290.2h0"/><path stroke="#00bfff" d="M396.4 230.3h0M397.9 237.7h0M379.5 246.4h0"/><path stroke="#59ffa6" d="M343.2 212.8h0M350.9 210.8h0M355 225.7h0M333.6 234.4h0M347.5 237.2h0M337.9 242.2h0M336.2 245.6h0M392.9 245.7h0M347 298.4h0"/><path stroke="#a60000" d="M367.7 112h0M353.2 121.4h0M351.3 123.5h0M366.4 125.1h0M338 127.1h0M324.8 138.9h0M321.6 150.4h0M301.4 162.8h0M351.6 167h0M337.8 174.8h0M344.3 178.6h0"/><path stroke="#ffe500" d="M389.1 173h0M387.1 185.7h0M419.5 196.3h0M348.7 199.9h0"/><path stroke="#fff200" d="M375.9 178.6h0M378.8 178.3h0M367.3 181.9h0M373.7 184h0M408.5 193h0"/><path stroke="#800000" d="M364.5 109.8h0M283.9 138.9h0M328.2 138.8h0M287.1 142.3h0M315 146.2h0M295.3 161.4h0M345.5 169h0"/><path stroke="#00ffff" d="M385.7 110.1h0"/><path stroke="#0019ff" d="M393.9 116.6h0M396.4 126.8h0M374.8 132.7h0M394.1 146.1h0M366.1 260.8h0M424.1 276h0M427.8 282.6h0"/><path stroke="#0000b2" d="M379.4 134.7h0M394.8 210.7h0M408.4 212.7h0M413.6 211.7h0M382.4 220h0M375.5 241.4h0M415.7 257.6h0M416 261.8h0M400.5 273.6h0M356.5 280.4h0M421.4 296h0M398.4 301.7h0M405.7 305.7h0"/><path stroke="#b30000" d="M355.8 132.9h0M324.5 143.6h0M329.6 150.3h0M317 159.1h0M347.4 158.6h0M341 162.5h0M405.2 168.7h0M345.4 172.8h0"/><path stroke="#0000ff" d="M390.2 144.4h0M349.4 272.4h0M362.5 277.2h0M390.7 280.9h0M423.8 294.5h0"/><path stroke="#b3ff4c" d="M339.6 193.7h0M367.1 207.3h0M347.7 219.2h0M427.4 219.9h0M344.2 223.4h0M391 111.4h0"/><path stroke="#33ffcc" d="M341.7 208.7h0M321.1 211h0M329.3 218.9h0M340.4 225.8h0M332.6 249.3h0M373.8 288.8h0M382.6 295.1h0"/><path stroke="#ff7300" d="M360.2 162.5h0M370.9 165.1h0M402.1 203.5h0"/><path stroke="#008cff" d="M389.7 284.7h0M359.6 298.8h0"/><path stroke="#99ff66" d="M337.2 196h0M369.9 199.6h0M424.2 214.6h0M377.6 272.9h0"/><path stroke="#0080ff" d="M390.3 234.2h0M374.4 260.5h0M423.4 284.3h0"/><path stroke="#ffd900" d="M394.4 166.5h0M385.9 180.3h0M382.9 186h0M335.7 192.8h0"/><path stroke="#0000bf" d="M316.6 197.5h0M413.8 203h0M396.4 210.8h0M362.4 260.9h0M419.7 267.4h0M358.9 275h0"/><path stroke="#ff9900" d="M371.3 131.5h0M370.8 174.8h0M404.6 193.8h0M412.1 196.6h0"/><path stroke="#ff1a00" d="M386.9 161.3h0M366.6 165.2h0M348.9 170.4h0M355.9 170.7h0M428 182h0M402.2 184.9h0M416.3 187.7h0M394.9 200.1h0"/><path stroke="#000099" d="M408.2 207.3h0M406.3 215.5h0M392.8 219.7h0M398 218.9h0M400.9 221.8h0M382.7 227h0M370.7 230.9h0M367.6 238.4h0M406.1 264.6h0"/><path stroke="#00a6ff" d="M390.3 115.5h0M396.8 146.8h0M362.7 230.3h0M401 230.4h0M382 242.2h0M410.1 254.1h0M371.6 291.7h0"/><path stroke="#8c0000" d="M355.6 114h0M359.3 112.8h0M344.8 117.3h0M341.7 120.2h0M336.8 123.2h0M301.9 132.9h0M293.8 134.6h0M314.2 139.6h0M303.3 143.7h0M307.3 142.9h0M291.5 150h0M306.7 152h0M298.1 159.1h0"/><path stroke="#990000" d="M355.5 117.7h0M337 120.9h0M332.7 125.2h0M360 123.3h0M364.6 125.1h0M348.4 131.7h0M351.2 131.5h0M339.6 135.6h0M295.5 138.8h0M303.7 139.9h0M332.8 140.2h0M291.7 146.6h0M302.3 150.9h0M352.4 151.5h0M368 149.6h0M320.7 153.6h0M303.6 157.3h0M315.2 158.6h0M408.5 169.3h0M413.7 177.5h0"/><path stroke="#d90000" d="M371.7 146.5h0M362.2 150.3h0M330.3 154.3h0M337.5 155.1h0M345.5 157.5h0M371.5 162.4h0M310.9 172.9h0M313.7 177.8h0M423.4 178.2h0M393.3 203.8h0"/><path stroke="#a6ff59" d="M374.3 199.8h0M428.3 229.5h0"/><path stroke="#ff8000" d="M374 173.9h0M419.6 188.5h0M389.8 193.7h0M388 136.9h0"/><path stroke="#ffbf00" d="M332.9 181.3h0M391.1 181.3h0"/><path stroke="#ff4000" d="M359 155.2h0M382.3 154.2h0"/><path stroke="#00f2ff" d="M309.8 191.9h0M363.4 302h0M401.7 161.1h0"/><path stroke="#0000d9" d="M396.6 120.5h0M392.7 223.6h0M379.6 238.3h0M421.4 265.3h0M355.9 273.4h0M408.3 299h0M419.9 303.7h0M374.1 305.9h0"/><path stroke="#004dff" d="M381.3 119.2h0M387 136.7h0M428.8 269.7h0M409.9 280.3h0M404.1 292.3h0M401.8 137.7h0"/><path stroke="#e50000" d="M348 150.2h0M378.7 151.1h0M429 169.2h0M347.2 177.9h0M412 181.9h0"/><path stroke="#f20000" d="M375 148.1h0"/><path stroke="#ff2600" d="M378.6 155.4h0M386.6 157.5h0M358.5 169.3h0M401.2 174.6h0M306.7 178.2h0M328.6 178.2h0M322.1 181.7h0M410 184.5h0M387.2 197.5h0M389.8 199.5h0"/><path stroke="#ff6600" d="M368.1 157.5h0M424 188h0M393.4 193.4h0M408.2 195.9h0"/><path stroke="#66ff99" d="M377.5 189h0M321.8 191.4h0M332.9 196.4h0M335.7 205.2h0M347.1 203.9h0M333.7 219h0M347.4 231.4h0M413.6 242.8h0M374.5 273.1h0"/><path stroke="#ffb300" d="M398 166.3h0M385 113.9h0"/><path stroke="#0033ff" d="M386.5 234.8h0M406.2 275.1h0M429 300.1h0"/><path stroke="#40ffbf" d="M362.4 201.2h0M415.7 222.5h0M421.3 225.9h0M394.7 234.6h0M358.5 237h0M382.3 279.9h0"/><path stroke="#0dfff2" d="M344.6 199.7h0M341 211.1h0M332.3 215.2h0M388.9 249.8h0M409.7 250.5h0"/><path stroke="#ffcc00" d="M362.7 177.4h0M354.9 181.2h0M390.4 185.8h0M427.2 192.7h0M379.2 197.6h0"/><path stroke="#00b2ff" d="M389.9 238.1h0M382.3 245.1h0M375.2 292.5h0M363.7 306.1h0"/><path stroke="#0066ff" d="M371.4 220.4h0M375.7 249h0M370.6 269.4h0M359.3 291.8h0M389.5 290.9h0M408.9 291.3h0"/><path stroke="#ffff00" d="M366.2 195.6h0"/><path stroke="#ff5900" d="M367.3 136.3h0M379.7 143.1h0M392.8 159.1h0M363 174.3h0"/><path stroke="#1affe5" d="M324.3 193h0M324.6 211.1h0M363.4 222.9h0"/><path stroke="#ffa600" d="M379.1 161.4h0M363.9 181.7h0"/><path stroke="#f2ff0d" d="M386.6 178.2h0M370.2 185.7h0M344.4 193.5h0M351.7 193.6h0M377.5 192h0"/><path stroke="#bf0000" d="M367.8 117.5h0M326.5 129.1h0M326.3 131.2h0M336.7 132.2h0M347.4 138.6h0M355 140h0M370.2 139.8h0M368.2 142.1h0M329.3 146.5h0M331.8 150.7h0M341.2 149.9h0M371.2 149.7h0M352.1 155.5h0M339.9 157.6h0M405.1 177.1h0"/><path stroke="#000080" d="M416.3 208.2h0M393.5 214.7h0M369.9 271.7h0M421.5 271.7h0M404.2 295.1h0M387.2 306.5h0"/><path stroke="#00008c" d="M385.9 214.2h0M407.9 214.7h0M375 230.5h0M363.9 238.4h0M394.4 307.4h0M397.9 307.8h0"/><path stroke="#00e5ff" d="M394 241.5h0M398.3 245.7h0M412.6 245.7h0M351.8 305.7h0"/><path stroke="#d9ff26" d="M363.6 189.8h0M360.3 203.1h0M371.9 215.8h0M421.6 249.4h0"/><path stroke="#00d9ff" d="M374.5 120h0M366.1 189.5h0M424.3 207.3h0M331.9 227.8h0M404 234.2h0M405.9 244.9h0"/><path stroke="#0000e6" d="M314.3 200.5h0M397 252.9h0M360.4 268.8h0M413.8 279.4h0M423.3 302.5h0M408.6 306.9h0"/><path stroke="#cc0000" d="M375.6 112.5h0M364.6 127.2h0M355 134.4h0M362.8 138.4h0M324.3 157.7h0M351.4 158.2h0M350.9 162.8h0M336.2 165.5h0M339.5 170.5h0M333.8 173.4h0M348.7 174h0M324.7 180.9h0"/><path stroke="#0000a6" d="M313.8 195.5h0M385.9 219.3h0M396.7 223.2h0M386.2 229.6h0M377.8 235.2h0M409.3 295.4h0M404.2 301.7h0M413.8 302.3h0"/><path stroke="#ff0d00" d="M362.4 167.1h0"/><path stroke="#8cff73" d="M317.1 192.3h0M332.4 191.6h0M360.2 193.6h0M415.8 197.6h0M336.8 199.2h0M359.8 199.6h0M347.2 207.8h0M419.9 214.2h0M427.1 237.2h0M353 242.5h0M420.6 241.6h0M383.1 286.9h0"/><path stroke="#0000cc" d="M383.3 135.4h0M366.4 252.8h0M360 256.1h0M363.3 257.9h0M423.8 261.1h0M416.5 276.1h0M417.1 306.7h0M423.1 309.6h0M359 119.4h0"/><path stroke="#000dff" d="M393 108.1h0M405.8 257.1h0M408 267.9h0M425.2 272.1h0M419.7 279.7h0M408.6 287.4h0"/><path stroke="#ff4c00" d="M390.8 158.7h0M378.9 166.8h0"/><path stroke="#0000f2" d="M389 112.7h0M394.2 129h0M393.4 295.9h0M402.6 295.1h0"/><path stroke="#0099ff" d="M337.7 253h0M402.2 279.3h0M364.6 299.2h0"/><path stroke="#26ffd9" d="M329.6 223.4h0M398.5 233.7h0M330.2 238.3h0M348 241.9h0M348.5 307.5h0"/><path stroke="#ff3300" d="M386.6 153.4h0M351 170.1h0"/><path stroke="#0073ff" d="M392.8 121h0M386.2 243h0M356.9 252.9h0M354.9 261.7h0M404.2 288.4h0M419.5 290.6h0M389.3 295.8h0M372 303.8h0M371.2 306h0"/><path stroke="#0059ff" d="M391 108h0M383.6 113.7h0M428.4 204.9h0M383.5 299.2h0"/><path stroke="#73ff8c" d="M331.9 200.4h0M360 207.1h0M425 211.8h0M347.1 216.1h0M348 222.7h0M359.9 225.7h0M340.9 234.6h0M424.6 234.5h0M420.5 239.3h0M427.3 246.4h0"/><path stroke="#0026ff" d="M386.7 121h0M390 121h0M382.4 125.1h0M368 224h0M320.8 227.2h0"/><path stroke="#80ff80" d="M326.2 196.4h0M354.8 211.8h0M333.7 223.5h0M337.5 226.9h0"/><path stroke="#e5ff1a" d="M355.3 185.3h0M370.8 195.8h0M381.5 275.6h0"/><path stroke="#d9ff26" d="M358.7 184h0M356.8 187.7h0M366 200.6h0"/><path stroke="#ff0d00" d="M370.7 119.9h0M299.8 173.4h0M424.4 185.7h0"/><path stroke="#a60000" d="M368.3 108.1h0M343.9 119.6h0M348.9 120.4h0M363.1 121.3h0M313.9 127.5h0M348.4 128.7h0M366.3 129h0M322.6 134.6h0M325.6 134.6h0M362.6 135.2h0M336.8 138.3h0M309.6 142.4h0M336.7 143.8h0M344.9 143.9h0M352 143.3h0M298.9 147.1h0M337.4 150.3h0M311.2 153.9h0M314.2 155.7h0M355.2 157.8h0M401.5 169.6h0M351.9 173.3h0M404.8 180.4h0"/><path stroke="#ccff33" d="M352.2 197.5h0"/><path stroke="#59ffa6" d="M359.6 196.6h0M415.7 199.4h0M329.6 204.7h0M355.4 207.8h0M341.5 223.8h0M408.8 223.5h0M413.9 226.5h0M332.3 237.3h0M423.6 252.8h0M385.7 288.8h0"/><path stroke="#ff4000" d="M378.5 112.1h0M397.2 154.8h0M397.7 185h0M391 189.2h0"/><path stroke="#ffcc00" d="M390.7 167h0M398.6 174.3h0M378.2 201.2h0"/><path stroke="#e5ff1a" d="M397.9 176.8h0M419.4 192.1h0M345.3 197.4h0M417.1 230.2h0"/><path stroke="#0000bf" d="M386.6 130.9h0M419.7 200.7h0M381.6 214.4h0M370.8 223.4h0M393 227.8h0M363.5 252.2h0M411.8 260.7h0M363.7 267.5h0M362.6 284.2h0M417.2 291.1h0M389.8 306.7h0M364 117.4h0"/><path stroke="#0040ff" d="M348.5 268h0M351.3 267.5h0M412.6 269.5h0M364.6 291.3h0"/><path stroke="#bfff40" d="M393.1 169.8h0M341.1 181.3h0M352.1 188.6h0M329.4 200.1h0M375.3 212.7h0M373.9 282.7h0"/><path stroke="#0000b2" d="M378.6 218.8h0M424.9 258.2h0M413.9 264.6h0M377.4 302.9h0"/><path stroke="#33ffcc" d="M329.7 207.1h0M330.2 216.6h0M336.1 238.1h0M394.2 239h0M412 237.2h0M386.6 246.6h0"/><path stroke="#ff1a00" d="M373.8 139.6h0M362.8 147h0"/><path stroke="#0000f2" d="M374.9 219.5h0M381.3 238.2h0M364.4 288.8h0M417.8 288.3h0M427.1 305.6h0"/><path stroke="#ff9900" d="M359.9 159.6h0M390.6 170.6h0M367.7 174.6h0M335.8 177.8h0M387.2 189.4h0M429.1 189.2h0M398.5 200.7h0"/><path stroke="#0073ff" d="M377.6 139.8h0M320.9 206.9h0M351 254.6h0M370.1 295h0"/><path stroke="#ffbf00" d="M371.8 168.9h0M371.4 177.9h0"/><path stroke="#f20000" d="M360.3 143.4h0M363.5 143h0M366.2 146.6h0M378.1 147.8h0M424.3 180.8h0M395 186h0"/><path stroke="#fff200" d="M372 124.7h0"/><path stroke="#0066ff" d="M356.5 245.8h0M356.7 250.4h0M413.8 253.3h0M344.9 257.6h0M425.4 281.1h0"/><path stroke="#00e5ff" d="M374 123.5h0M335.6 208.9h0M320.6 222.6h0M413.8 229.6h0M404.2 237.3h0M390 274.4h0"/><path stroke="#000080" d="M379.1 222.9h0M375.8 227.1h0M378.2 227.7h0M385.6 227.7h0M370.4 233.3h0M374.3 235.2h0M363.2 246.7h0"/><path stroke="#ffa600" d="M362.4 155.5h0M359.6 180.1h0M401.3 201.2h0"/><path stroke="#990000" d="M371 108.4h0M362.7 113.4h0M340.9 124.4h0M328.1 126.9h0M317.3 132.4h0M291.7 135.2h0M337.2 136h0M344.1 150.2h0M343.5 166.1h0M340.6 173.3h0M405.2 174.6h0"/><path stroke="#a6ff59" d="M371.1 180.9h0M332.6 231.5h0"/><path stroke="#f2ff0d" d="M343.5 181.4h0M382.5 181.7h0M329.4 184.7h0M351.8 186h0M397.5 206.7h0M429.2 235.4h0"/><path stroke="#b30000" d="M341.7 132.4h0M307.2 147.5h0M341.8 147.7h0M299 150.5h0M295.8 155.7h0"/><path stroke="#800000" d="M322.7 131.9h0M303.4 136.5h0M310.2 135.5h0M314.4 134.6h0M287.4 139.4h0M290.3 139h0M320.7 140.4h0M360.2 139.6h0M295.2 143.6h0M312.8 144.1h0M288.1 146.4h0M294.3 150.5h0M316.8 150.4h0M303.3 155.1h0M306.4 159.1h0M420 168.7h0"/><path stroke="#0000cc" d="M387.2 128.9h0M425.1 200.3h0M420 203.1h0M419.8 207.9h0M390.3 219.2h0M379.1 241.5h0M382.2 306.3h0"/><path stroke="#00008c" d="M412.3 208.8h0M385.7 212.7h0M391 212.6h0M398 214.9h0M400.4 215.8h0M363.3 234.9h0M366.3 233.3h0"/><path stroke="#e50000" d="M355.4 151.9h0M331.8 154.2h0M345.3 153.6h0M416.4 180.2h0"/><path stroke="#00ffff" d="M382.6 142.5h0M336.9 219.2h0M333 242.4h0M394.5 100.6h0"/><path stroke="#73ff8c" d="M340.1 184.1h0M332.7 203.4h0M371 210.5h0M420.2 222h0M341.4 239.1h0M341.5 245h0M344.8 298.5h0M343.9 302.2h0"/><path stroke="#99ff66" d="M329.3 191.5h0M348.2 192.3h0M417.3 192.6h0M378.7 203.7h0M366.2 211.3h0M362.3 214.6h0M359 223.4h0M379 292.3h0"/><path stroke="#ffb300" d="M390 195.5h0"/><path stroke="#40ffbf" d="M363.1 195.6h0M410.1 230.3h0M419.3 244.8h0M404.8 252.8h0"/><path stroke="#d90000" d="M375.8 109.8h0M329.9 157.7h0M423.2 173.3h0M409.4 177.2h0"/><path stroke="#000099" d="M389.9 223.2h0M366.1 231.6h0M379.2 230.2h0M364.3 240.8h0"/><path stroke="#66ff99" d="M326.6 189.2h0M339.5 203.7h0M425.2 219.7h0M351.1 245.2h0"/><path stroke="#0000d9" d="M310.2 199.8h0M317.3 201.2h0M359.1 253.7h0M409.6 257.5h0M424.9 267.8h0M405.2 281.1h0M401.4 288.3h0M413.8 298.8h0M390.8 303.7h0"/><path stroke="#00b2ff" d="M324.5 241.7h0M356.2 257.7h0M370 288.7h0M398.6 287h0M398 260.4h0"/><path stroke="#ff0000" d="M337.2 159.5h0M402.3 167.1h0M325.4 177.8h0M305.4 181.1h0M408.4 188.7h0"/><path stroke="#ffff00" d="M428.8 185.5h0M408.7 201.1h0"/><path stroke="#ff2600" d="M390.1 155.1h0M318.1 177.8h0M404.9 200.4h0"/><path stroke="#0080ff" d="M413 200.9h0"/><path stroke="#00bfff" d="M390.1 146.5h0M315 207.8h0"/><path stroke="#8cff73" d="M330 189.6h0M368.3 203.3h0M370.1 204.2h0M374.1 214.2h0M326.2 218.8h0M352.9 218.7h0M417.1 245.5h0M375.2 279.1h0"/><path stroke="#ff8c00" d="M392.9 161.4h0M381.3 176.7h0M381.9 204.4h0"/><path stroke="#ff5900" d="M398.5 158.1h0M375 163h0M330.1 180.5h0M397.9 188.6h0M404.5 195.8h0"/><path stroke="#0059ff" d="M385.6 124.5h0M406 221.9h0M321 229.9h0M351.7 264.4h0M393.3 290.3h0M374 299.8h0"/><path stroke="#26ffd9" d="M371.7 208.2h0M320.6 216h0M353.1 303h0"/><path stroke="#80ff80" d="M371.4 193h0M356.3 200.3h0M344.3 204.6h0M364.2 208.7h0M347.2 212.5h0M330.1 231.7h0M356.5 240.9h0M330.2 245.3h0M379.8 284.3h0"/><path stroke="#ff8000" d="M382.3 109.7h0M367.9 170h0M416.7 185.2h0M411.8 189.7h0"/><path stroke="#ff4c00" d="M394.4 152h0M347.9 180.5h0M400.7 180.6h0M397.9 192h0"/><path stroke="#000dff" d="M307.3 197.1h0M322.6 204.9h0M417.4 212.2h0M412.7 271.9h0M394.3 284.2h0"/><path stroke="#0dfff2" d="M322.7 189.5h0M419.4 220.2h0M326.5 226.3h0M402.2 227.1h0M336.7 234.3h0M408.2 238.6h0M390.4 241.5h0"/><path stroke="#0019ff" d="M386.7 144.2h0M375.1 264.3h0M363.9 279.6h0"/><path stroke="#0000a6" d="M386.7 222.1h0M391.2 226.1h0M381.5 230.8h0M351.5 272.1h0M401.4 306.4h0M420.8 307h0M361 113.4h0"/><path stroke="#004dff" d="M385.4 115.9h0M352.7 249.7h0M356.8 265.9h0M405.1 267.5h0M427.6 290.3h0"/><path stroke="#00d9ff" d="M360.5 234.3h0M427.2 252.6h0M374.7 269h0M370.2 280.3h0M378.9 294h0"/><path stroke="#00a6ff" d="M381.5 253.8h0M387.2 291.1h0M385.7 296.2h0M359.8 306.1h0"/><path stroke="#0000ff" d="M314.9 204.3h0M314.9 215.6h0M416.7 269.3h0M408.1 284.6h0M413.2 295.2h0"/><path stroke="#008cff" d="M358.5 241.4h0M344.4 250.6h0M428.9 287.8h0M366.2 296h0"/><path stroke="#1affe5" d="M406.1 226.7h0M416 241.5h0M371.5 275.8h0"/><path stroke="#ffe500" d="M321.8 184.8h0"/><path stroke="#ffd900" d="M374.9 159.5h0M412.7 193.2h0M382.5 197.4h0"/><path stroke="#0099ff" d="M386.5 112.8h0M398.2 278.9h0M364.5 295.4h0"/><path stroke="#4dffb2" d="M318.3 208.8h0M333.6 208.2h0M340.1 214.4h0M339.5 219h0M328.9 225.9h0M359.7 229.9h0M420 231.5h0M424.3 231.6h0M390.9 245.8h0M386 262.4h0"/><path stroke="#00f2ff" d="M326.4 207.2h0M397.5 241.1h0M406 249.4h0M360.3 302.8h0"/><path stroke="#0033ff" d="M388.8 127.3h0M398.6 227.1h0M381.3 248.8h0M343.8 252.5h0M347.2 259.8h0M419.6 284.9h0M360.6 287.1h0M366.9 299h0M420.7 297.9h0"/><path stroke="#ff6600" d="M301.8 181.8h0M402.6 189.3h0"/><path stroke="#0000e6" d="M368.3 256.3h0M428.8 259.9h0M398 284.1h0M416.3 298.1h0"/><path stroke="#bf0000" d="M373.8 116.9h0M355.4 125.3h0M352.1 139.4h0M348.6 144.3h0M356.3 143.9h0M324.5 146.8h0M345.2 148.2h0M347.7 148.2h0M359.5 151h0M341.6 154.7h0M322.5 162.5h0M326.2 161.4h0M343.3 161.1h0M311 177.1h0M428.6 178.1h0"/><path stroke="#00ccff" d="M421.1 210.8h0M389.4 253.3h0M368.1 307.2h0"/><path stroke="#8c0000" d="M334.1 132.6h0M344.5 135.9h0M306.9 138.5h0M309 140.3h0M292.4 143.2h0M322.6 144.2h0M313 151.7h0M325 153.5h0M295 166.3h0M340.5 165.3h0M417.8 170h0"/><path stroke="#0026ff" d="M392.7 123.2h0M389.3 135.5h0M370.7 264.4h0M351.8 275.1h0M386.8 279.3h0M360.7 283.9h0M423.3 292.2h0M377.5 298.7h0M387.1 299.3h0M398.3 300.1h0"/><path stroke="#cc0000" d="M344.9 128.6h0M351.9 128.7h0M352.3 135.5h0M328.3 144.3h0M355.6 146.6h0M348.5 155.6h0M354.8 155h0M355.2 162.2h0M356.8 173.1h0M320.7 178.2h0"/><path stroke="#b3ff4c" d="M332.6 185.5h0M344.7 184.4h0M318.5 188h0M359.2 211.6h0M343.6 227.9h0M343.9 234.4h0"/><path stroke="#ff7300" d="M375 166.3h0M393.4 182.1h0M387 200.5h0"/><path stroke="#ff3300" d="M371.6 128.7h0M413.3 184.2h0M394.5 188.4h0"/></g><g clip-path="url(#boxclip)"><path d="M196.3 96.8 270.9 96.8M214.9 96.8 214.9 168.2M196.3 133.7 214.9 133.7M214.9 125.3 262 125.3M214.9 151.2 249.8 151.2 251.7 152.3 254.2 152.5 256.7 152.4 259.2 153.2 261.1 154.7 262.7 155.6M196.3 168.2 227.5 168.2 227.5 200.6M227.5 176.5 269.9 176.5M196.3 200.6 274.2 200.6M221.5 200.6 221.5 204.5 240.4 204.5 240.4 219.5 242.2 220.7 244.1 220.7 245.4 222.3 247.3 222.6 249.8 223.4 252.3 223 254.2 224.5 256.7 225.3 258.6 225.7 260.5 224.9 263 225.9 265.5 224.9 268 224.5 270.6 224.5 272.5 225.3 275.1 226.5 277.9 227.2M221.2 204.5 221.1 238.8 198.7 238.8M198.7 238.8 199.4 240.5 201.3 242.5 203.2 244 204.6 245.1 205.7 246.5 207.1 248 208.9 248.7 210 250.3 210.8 252 211.5 253.8 211.7 255.7 213.9 257.5 216.4 259.3 219 260.7 220.5 260.9 222.1 258.9 222.1 257 223.4 255.7 225.3 254.6 228.4 254.9 231.5 255.2 232.9 256.4 234.1 257.8 236 260 236.2 262.2 237.8 263.6 239.1 266.4 241 268.6 242 270.2 243.5 271.4 243.8 275 243.9 276.8 245.4 277.8 247.9 279.5 249.4 280.6 251.1 281.3 254.2 282 256.4 283.1 258.3 282.4M258.3 282.4 257.7 279.9 257 276.4 256.7 272.8 258 270 259.2 268.7 259.9 267.2 261.2 266.2 262.4 265 263.4 263.2 265.5 263.6 267.4 263.2 268.7 261.8 270.5 260.8 271.8 259.3 273.4 258.2 272.1 256.4 273.7 255.3 276.2 256.4 279.1 255.7M274.2 200.6 274.2 204.5 274.1 206.3 276 207.8 276.2 209.5 275.8 211.3 275.4 213.1 275.1 226.5M277.9 227.2 277.9 231.2 277.9 238.8 278.7 241.8 280.2 243.6 280.9 245.8 280.3 247.8 280 249.8 279.9 252.8 279.1 255.7M277.9 231.2 295.9 231.3M274.2 200.6 274.2 183.8 272.6 181.4 271.2 178.5 269.9 176.5M274.2 204.5 302.3 204.5 301.1 206.9 301 208.4 305.2 208.4M262.7 155.6 263.6 158.1 264.5 160.2 265.2 162.3 265.3 164.1 266.2 165.7 266.5 169 267 171.7 268.7 174 269.9 176.5M267 171.7 292.4 171.4 294.4 173.3M262.7 146.9 295.6 146.9M262.7 146.9 262.7 131.1 262 125.3 261.1 123.3 261.1 121.1 260.5 116.5 260.2 111 260 109.4 259.6 107.8 258.9 106.3 258.3 101.6 257.8 96.8M262.7 146.9 262.7 148.8 261.8 150.4 260.8 152.4 262 153.9 262.7 155.6M270.9 96.8 273.1 98.7 274.3 99.5 276.9 100.1 279.4 101.1 281.9 100.6 284.4 100.4 286.9 102 288.8 103.3 290.7 103 291.3 104.8 293.2 105.4 295.7 105.8 298.3 105.4 300.8 105.4 303.3 105.8 305.8 106.4M305.8 106.4 304.2 107.9 302 108.6 300.4 110.3 298.3 111 297.2 112.3 295.8 113.2 294.5 114.2 292.6 115 291.3 116.5 288.9 118.4M288.9 118.4 288.9 124 286.9 126.1 286 128.6 285.7 132 286 136 287.3 137.2 288.8 138.2 291.3 139.9 293.1 141.2 294.5 143 295.7 144.8 295.6 146.9M288.9 118.4 290.7 118.4 293.9 117.5 295.6 116.4 297.6 116.1 298.9 118.4 300.6 119.6M300.6 119.6 302.7 121.6 304.2 123.1 306.4 122.9 308.3 123 309.7 124.3 311.5 124.8 315.3 125.2 316.8 127.9 317.1 130.6 318.4 132.8M295.6 146.9 296.1 151.2 297.6 153.8 299.2 155.5 300.8 158.1 302.3 160.6 301.4 163.2 299.5 164.4 298.1 165.2 297 166.5 296.4 169.8 296.3 172.1 294.4 173.3 294.5 176.5 295.4 178.1 296.4 179.7 296.9 182 298.9 183 300.8 185 302.3 187 301.7 190.3 304 190.7 303.9 193.1 305.4 194.3 306.4 195.8 306.4 198.2 307.6 199.3 308.6 200.6 309 202.2 308.1 203.8 306.4 204.5 306.1 206.9 305.2 208.4 303.8 210.2 303 212.3 302.7 215.4 301.4 217.7 300.5 219.2 299.5 220.7 299.5 222.8 297.6 223.8 296.4 225.5 296.4 227.6 295.9 231.3 296.4 234.3 297 237.3 295.4 238.5 294.5 240.3 293.9 243.2 293 246.2M293 246.2 305 246.2 304.9 248.4 304.6 250.4 305.8 252.2M299.3 155.5 317.1 155.5M318.8 161.8 318.8 181.8 318.4 183.8 319 187 317.8 189.5 316.5 191.9 315.6 194.2M308.6 200.6 310.8 199.4 312.7 199.8 314.6 197.4 316.1 196.1 315.6 194.2 318.4 193.5 321.5 194.2 324.7 193.5 327.8 192.7 329.7 191.1 331.6 188.6 333.5 187 336 186.2 335.9 183.8 337.9 183.8 339 185.2 340.4 186.2 342.9 187.4 346.1 187.8 348.6 186.6 349.9 189 351.8 187 352.7 185.4 354.9 183.4 357.4 181.8 359.9 180.1 361.2 177.3 362.1 174.8 362.6 173 363 171.2M335.9 161.8 335.9 183.8M320.9 161.8 335.9 161.8 344.5 162.1M363 171.2 363 159.8M367.7 157.5 367.7 159.8 395.4 159.8M363 171.2 363 178.8 392.7 178.8M349.9 191.1 351.9 192.5 352.4 195 354 196.4 355.5 199 357.4 198.2 359.9 198.2 362.5 197.4 364.3 196.2 366.2 193.9 367.6 192.7 368.1 191.1 369.4 189 371.3 188.6 373.2 186.2 375 184.6 376.6 182.2 380.1 182.2M380.1 182.2 378.5 181.5 377.6 180.1 375.7 180.1 373.8 179.7 371.9 181 369.5 183 369.5 178.8M343.1 203.7 346.1 202.6 348 200.6 350.5 199 352 197.4 354 196.4M354 196.4 351.8 194.2 350.8 191.9 349.9 191.1 349.9 189M306.4 204.5 315.6 204.5 315.6 203.1 322.2 203.3 331.6 203.7 337.9 203.7 343.1 203.7M343.1 203.7 355.7 203.8M355.7 203.8 354.3 206.1 352.4 207.6 349.9 208.6 348.8 210.3 346.7 210.4 344.2 211.9 343 213.5 341.1 213.8 339 216.1M339 216.1 301.4 216.1M355.7 203.8 392.2 204.1M339 216.1 346.7 216.1 348.8 215 351.1 214.6 359.7 215 360.4 215.4 361.2 217.5 368.2 217.7 375.4 224.8M346.7 216.1 346.8 218.2 348.6 219.2 351 219.8 351.1 222.3 353 223.7 353 226.1 353.8 227.7 354.9 229.1 356.8 231.3 356.4 233.2 358 234.3 358.3 236.2 359.3 237.7 360.6 238.4M331 216.1 333.5 231.3 335.3 232.6 336.2 234.1 334.8 236.2 334.4 241.8 334.8 246.2M334.8 246.2 335.6 248.3 344.2 248.7 352.4 249.3 353.3 250.6 355.2 249.1 357.1 248.4M334.8 246.2 318.4 246.2 319 248.4 319.7 250.6M314.6 216.1 312.9 239.5 313.4 250.6M279.1 255.7 281.9 255.2 284 256 286.3 256.4 288.8 256.7 291.3 255.7 293.9 257.1 295.7 258.9 298.3 260 300.8 259.6 302.7 258.9 304.6 258.2 307.1 260 308.6 260.7 307.7 258.6 306.4 257.1 305.2 255.7 306.8 253.8 305.2 252.9 305.8 252.2M300.5 253.1 302.7 252 304.6 252 304.9 253.1 303 253.3 300.5 253.1M305.8 252.2 307.5 250.9 309.6 250.7 313.4 250.7 315.3 249.1 315.9 251.3 318.4 251.5 320.1 250.2 322.2 250.6 325.3 250.6 328.5 251.3 331 252.8 331.1 254.6 332.6 255.7 335.4 255.3 337.3 255.3 338.5 253.8 341.1 252.8 342.9 254.2 343.8 255.7 344.8 257.1 346.7 259.3 348.6 261.4 348.9 265 348.6 267.9 349.9 270 349.6 272.1 350.2 273.6 351.1 275 352.4 277.1 354.3 279.2 354.9 282 356.8 283.4 358.7 285.5 359.6 287.6 362.5 287.6 363.7 286.9 364.3 284.8 365.3 282 365.9 278.5 365.9 275.7 365 272.8 364.6 271 363.7 269.3 364.2 267.1 362.5 265.7 362.1 263.6 361.8 261.9 360.6 260.7 360.1 258.8 359 257.1 358.9 255.2 358 253.5 357.4 250.6 357.1 248.4M363.7 286.9 365.5 288.4 365 290.7 364.7 292.9 366.2 294.5M357.1 248.4 357.7 245.4 358.7 242.5 359.3 239.5 360.6 238.4 362.5 236.6 363.7 235.1 366.2 233.6 368 233 368.7 231.3 370.3 230.5 371.3 229.1 371 226.9 373.2 226.4 375.4 224.8 379.1 224.5 380.1 221.5 382.6 220 385.1 218.4 388.3 218.8 389.5 216.5 390.8 215.2 392.7 214.6 394.6 212.3 394.6 210 394.3 208.1 393 206.9 392.2 204.1 391.7 201.4M388.3 216.5 388.1 214.4 390.1 213.8 387.6 212.3 389.5 211.4 391.4 210.7 388.9 209.2 390.8 209.1 392 207.6 387.6 208.4M391.7 201.4 389.5 201 388.9 199 389.5 196.6 389.2 194.2 389.5 192.3 387.6 191.1 385.7 190.3 384.8 188.6 384.5 186.2 384.8 185 383.2 183.8 382 183 380.1 182.2M389.5 192.3 388.3 190.3 388.9 187.8 387.9 185.4 388.6 183 389.5 181.8 390.8 180.1 391.7 179.7 392.7 178.8M385.1 189.5 387 188.6 387.6 191.1M388.9 195.8 386.9 195.9 385.7 194.2 387.6 196.6M391.7 179.7 390.1 182.2 390.8 185 389.5 187 389.4 189.3 391.4 190.3 392 192.7 391.7 195.8 391.4 199.4 392 199.4 393.3 197.8 393.9 195.8 394.6 194.4 395.5 193.1 396.4 191.1 397.4 189 397.1 186.2 396.3 184.5 395.2 183 394.2 180.1 394.2 178.1M392.7 178.8 392.7 189 397.4 189M393.6 193.1 396.2 192.4M394.2 178.1 396.4 177.3 397.7 176 399.3 174.8 397.7 172.7 396.4 170.3 397.4 168.2 398.3 166.5 399.6 165.3M392.7 178.8 394.6 177.8 395.1 178.1M395.4 159.8 397.1 161.5 398.3 164 399.6 165.3M399.6 165.3 401 166.7 402.9 167.3 404.6 168.3M404.6 168.3 404 170.3 402.4 172.3 404 173.2 403.7 176.5 403.4 178.5 402.1 180.5 400.2 182.6 398.3 185 398 183 395.8 181.8 394.2 179.7M404 171.5 407.1 171.5 410.3 170.7 413.4 169.8 415.4 169.8 416.6 168.2 414.1 168.6 411.5 168.6 408.4 169 405.9 169.4 404.6 169.8M367.7 157.5 370 156 372.5 154.2 373.2 152.1 372.2 150.4 372.2 148.9 375.7 148 378.8 148 381.3 149.1 385.1 148.8 387.6 147.8 390.1 146.5 390.1 143.4 389.2 141.7 390.3 140.2 392 139.5 393.4 137.7 395.2 136.4 397 135.9 397.7 134.2 399.6 133.7 408.1 133.7M408.1 133.7 419.7 133.6 421.1 132.4 422.4 131.1M408.1 133.7 408.1 138.2 407.8 142.6 408.9 144.4 408.7 146.5 408.7 151.2 408.6 153.4M408.6 153.4 407.4 155.2 406.6 157.1 407.1 159.4 407.1 165.7 406.2 168.2M413.1 153.6 413.7 151.2 414.1 146.9 415.3 144.3 415.6 142 416.6 139.9 417.1 137.9 419.1 137.3 419.7 133.6M408.6 153.4 413.7 153.6 421 153.8 422.9 153 424.1 152.4M424.8 150.5 423.8 148.8 423.1 146.9 422.9 142.6 422.6 135.5 422.4 131.1M422.4 131.1 424.1 129.7 425 128.1 426 126.6 426.4 124.7 427.3 122.9 428.9 120.9 428.5 118.4 429.2 113.8M407.1 159.4 417.8 159.6 420.5 159.6 420.5 164M417.8 159.6 417.5 165.5M406.2 168.2 408.4 167.2 410.3 166.5 412.8 165.9 415.3 165.7 417.5 165.5 419.7 165.1 421 164 422.2 164 423.5 163.6 425.4 163.6 427.9 162.7 429.2 161.9 429.2 159.4 427.9 159.4 426 161 425.1 159.8 424.8 157.7 423.5 156 424.1 153.8 424.1 152.4 424.8 150.5 425.1 148.7 426.6 147.8 427.9 145.6 429.2 144.3M429.2 144.3 429.2 113.8M318.8 161.8 320.3 162.7 322.2 162.5 323.7 161.5 325.3 158.9 326.6 156.4 327.2 153 326.9 149.5 327.2 147.5 325.6 146.1 325.9 142.6 325.7 140.5 327.2 139.1 327.1 137.1 328.2 135.5 329.9 134.3 331 132.4 331.6 135.5 332.6 133.7 334.1 132.6 334.1 130.6 335.2 129 335.1 127 337.3 126.6 339.8 128.2 342.3 129.7 343.4 131 344.8 132 345.5 135.5 345.1 139.5 344.3 141 343.6 142.6 342.5 144 341.7 145.6 343.2 144.9 344.2 143.4 345.7 142.7 347.3 142.1 349.2 143 349.7 145 350.5 146.9 350.8 151.2 350.5 154.7 348.6 156.4 346.7 158.1 346.1 160.2 344.5 162.1M300.6 119.6 303.3 119.1 305.1 118.7 306.4 117.5 309.6 116.5 311.2 115.8 312.7 115.2 314.6 112.8 316.5 111.4 315.2 112.5 314.5 114 314 115.6 315.9 116.5 315.8 118.7 317.8 119.1 319 120.2 322.2 120.7 325.3 120.2 326.8 119.2 328.5 118.8 331.6 118.4 334.8 117.9 336.6 120.2 338.5 120.2 340.4 121.1 341.1 123.9 339.6 124.7 337.9 124.9 334.8 124.3 331.6 124.8 329.1 125.2 326.6 126.1 324.7 127.9 322.8 126.6 320.3 128.4 319.7 129.9 318.4 131.1 318.4 132.8M317.1 155.5 316.8 151.2 316.5 147.8 316.9 146 317.8 144.3 318.4 140.8 319 137.3 320.5 135.7 321.5 133.7 322.2 131.5 319.6 132.4 319 135.1 317.1 136.8 315.9 137.7 314.7 135.5 317.1 134.6 318.4 132.8M317.1 155.5 318.4 157 318.1 158.9 318.4 161 318.8 161.8M344.5 162.1 346.7 163.2 349.2 164.4 351.8 164.8 354.3 164 355.9 163.5 357.4 162.7 359.9 161 361.5 160.8 363 159.9 365.6 158.9 367.7 157.5" fill="none" stroke="#000" stroke-width="2.9" stroke-linejoin="round"/><path d="M258.3 282.4 257.7 279.9 257 276.4 256.7 272.8 258 270 259.1 268.7 259.9 267.2 260.9 265.8 262.4 265 264.2 264.7 265.5 263.6 267.2 262.9 268.7 261.8 270 260.2 271.8 259.3 273.4 258.2 272.1 256.4 273.7 255.3 276.2 256.4 279.1 255.7M279.1 255.7 281.9 255.2 283.6 257.5 286.3 256.4 288.8 256.7 291.3 255.7 293.9 257.1 295.7 258.9 298.3 260 300.8 259.6 302.7 258.9 304.6 258.2 307.1 260 308.6 260.7 307.7 258.6 306.4 257.1 305.2 255.7 306.8 253.8 305.2 252.9 305.8 252.2M305.8 252.2 307.8 251.7 309.6 250.7 313.4 250.7 315.3 249.1 315.9 251.3 318.4 251.5 320.2 250.6 322.2 250.6 325.3 250.6 328.5 251.3 331 252.8 331.8 254.2 332.6 255.7 335.4 255.3 336.9 254.4 338.5 253.8 341.1 252.8 342.9 254.2 343.9 255.6 344.8 257.1 346.7 259.3 348.6 261.4 348.9 265 348.6 267.9 349.9 270 349.6 272.1 352.1 272.6 351.1 275 352.4 277.1 354.3 279.2 354.9 282 356.8 283.4 358.7 285.5 359.6 287.6 362.5 287.6 363.7 286.9 364.3 284.8 365.3 282 365.9 278.5 365.9 275.7 365 272.8 364 271.2 363.7 269.3 363.8 267.3 362.5 265.7 362.1 263.6 360.6 262.6 360.6 260.7 359.7 258.9 359 257.1 359.2 255.1 358 253.5 357.4 250.6 357.1 248.4M357.1 248.4 357.7 245.4 358.7 242.5 359.3 239.5 360.6 238.4 362.5 236.6 363.7 235.1 366.2 233.6 367.9 232.9 368.7 231.3 370.8 231 371.3 229.1 371.2 227 373.2 226.4 375.4 224.8 379.1 224.5 380.1 221.5 382.6 220 385.1 218.4 388.3 218.8 389.5 216.5 391 215.3 392.7 214.6 394.6 212.3 394.6 210 393.5 208.5 393 206.9 392.2 204.1 391.7 201.4M388.3 216.5 389.6 215.5 390.1 213.8 387.6 212.3 389.8 212.3 391.4 210.7 388.9 209.2 389.6 206.6 392 207.6 387.6 208.4M391.7 201.4 389.5 201 388.9 199 389.5 196.6 389.2 194.2 389.5 192.3 387.6 191.1 385.7 190.3 384.8 188.6 384.5 186.2 384.8 185 383.2 183.8 382 183 380.1 182.2M389.5 192.3 388.3 190.3 388.9 187.8 387.9 185.4 388.6 183 389.5 181.8 390.8 180.1 391.7 179.7 392.7 178.8M385.1 189.5 387 188.6 387.6 191.1M388.9 195.8 387.7 194.3 385.7 194.2 387.6 196.6M391.7 179.7 390.1 182.2 390.8 185 389.5 187 391.4 188.1 391.4 190.3 392 192.7 391.7 195.8 391.4 199.4 392 199.4 393.4 197.9 393.9 195.8 393.7 193.9 395.5 193.1 396.4 191.1 397.4 189 397.1 186.2 396.2 184.5 395.2 183 394.2 180.1 394.2 178.1M392.7 178.8 392.7 189 397.4 189M393.6 193.1 396.2 192.4M404.6 168.3 404 170.3 402.4 172.3 404 173.2 403.7 176.5 403.4 178.5 402.1 180.5 400.2 182.6 398.3 185 398 183 395.8 181.8 394.2 179.7M404 171.5 407.1 171.5 410.3 170.7 413.4 169.8 415.4 169.8 416.6 168.2 414.1 168.6 411.5 168.6 408.4 169 405.9 169.4 404.6 169.8M406.2 168.2 408.4 167.2 410.3 166.5 412.8 165.9 415.3 165.7 417.5 165.5 419.7 165.1 421 164 422.2 164 423.5 163.6 425.4 163.6 427.9 162.7 429.2 161.9 429.2 159.4 427.9 159.4 426 161 425.1 159.8 424.8 157.7 423.5 156 424.1 153.8 424.1 152.4 424.8 150.5 425.6 149.1 426.6 147.8 427.9 145.6 429.2 144.3" fill="none" stroke="#000" stroke-width="3.6" stroke-linejoin="round"/><polygon points="396.2,166.5 401,168.4 403,173.3 400.5,181 398,188.8 395.5,196.6 393.5,204.4 395.5,212.5 391,216.5 386.5,212 387,205 383,198 386,193 384,187 386,182 390,179.5 395,177.5 397,172.3"/><polygon points="403,168 410,165 418,162 428,158.5 430,160.5 422,165 414,169 406,172.5 402,172"/><polygon points="299,252 304,249.5 309,251 311,256 311,263 306,262 302,258 298,256"/></g></g><g transform="translate(0,389.6)"><text x="163.3" y="112.9" text-anchor="end" class="lb" textLength="16.7" lengthAdjust="spacingAndGlyphs">48</text><circle cx="168" cy="99.5" r="1.2" class="dg"/><text x="175.7" y="112.9" class="lb" textLength="9.2" lengthAdjust="spacingAndGlyphs">N</text><text x="163.3" y="130.8" text-anchor="end" class="lb" textLength="16.7" lengthAdjust="spacingAndGlyphs">46</text><circle cx="168" cy="117.5" r="1.2" class="dg"/><text x="175.7" y="130.8" class="lb" textLength="9.2" lengthAdjust="spacingAndGlyphs">N</text><text x="163.3" y="147.8" text-anchor="end" class="lb" textLength="16.7" lengthAdjust="spacingAndGlyphs">44</text><circle cx="168" cy="134.4" r="1.2" class="dg"/><text x="175.7" y="147.8" class="lb" textLength="9.2" lengthAdjust="spacingAndGlyphs">N</text><text x="163.3" y="166.7" text-anchor="end" class="lb" textLength="16.7" lengthAdjust="spacingAndGlyphs">42</text><circle cx="168" cy="153.3" r="1.2" class="dg"/><text x="175.7" y="166.7" class="lb" textLength="9.2" lengthAdjust="spacingAndGlyphs">N</text><text x="163.3" y="182.9" text-anchor="end" class="lb" textLength="16.7" lengthAdjust="spacingAndGlyphs">40</text><circle cx="168" cy="169.5" r="1.2" class="dg"/><text x="175.7" y="182.9" class="lb" textLength="9.2" lengthAdjust="spacingAndGlyphs">N</text><text x="163.3" y="197.9" text-anchor="end" class="lb" textLength="16.7" lengthAdjust="spacingAndGlyphs">38</text><circle cx="168" cy="184.5" r="1.2" class="dg"/><text x="175.7" y="197.9" class="lb" textLength="9.2" lengthAdjust="spacingAndGlyphs">N</text><text x="163.3" y="214.9" text-anchor="end" class="lb" textLength="16.7" lengthAdjust="spacingAndGlyphs">36</text><circle cx="168" cy="201.5" r="1.2" class="dg"/><text x="175.7" y="214.9" class="lb" textLength="9.2" lengthAdjust="spacingAndGlyphs">N</text><text x="163.3" y="228.9" text-anchor="end" class="lb" textLength="16.7" lengthAdjust="spacingAndGlyphs">34</text><circle cx="168" cy="215.5" r="1.2" class="dg"/><text x="175.7" y="228.9" class="lb" textLength="9.2" lengthAdjust="spacingAndGlyphs">N</text><text x="163.3" y="245.8" text-anchor="end" class="lb" textLength="16.7" lengthAdjust="spacingAndGlyphs">32</text><circle cx="168" cy="232.4" r="1.2" class="dg"/><text x="175.7" y="245.8" class="lb" textLength="9.2" lengthAdjust="spacingAndGlyphs">N</text><text x="163.3" y="259.9" text-anchor="end" class="lb" textLength="16.7" lengthAdjust="spacingAndGlyphs">30</text><circle cx="168" cy="246.5" r="1.2" class="dg"/><text x="175.7" y="259.9" class="lb" textLength="9.2" lengthAdjust="spacingAndGlyphs">N</text><text x="163.3" y="273.1" text-anchor="end" class="lb" textLength="16.7" lengthAdjust="spacingAndGlyphs">28</text><circle cx="168" cy="259.7" r="1.2" class="dg"/><text x="175.7" y="273.1" class="lb" textLength="9.2" lengthAdjust="spacingAndGlyphs">N</text><text x="163.3" y="287.8" text-anchor="end" class="lb" textLength="16.7" lengthAdjust="spacingAndGlyphs">26</text><circle cx="168" cy="274.4" r="1.2" class="dg"/><text x="175.7" y="287.8" class="lb" textLength="9.2" lengthAdjust="spacingAndGlyphs">N</text><text x="163.3" y="301.9" text-anchor="end" class="lb" textLength="16.7" lengthAdjust="spacingAndGlyphs">24</text><circle cx="168" cy="288.5" r="1.2" class="dg"/><text x="175.7" y="301.9" class="lb" textLength="9.2" lengthAdjust="spacingAndGlyphs">N</text><text x="163.3" y="315.4" text-anchor="end" class="lb" textLength="16.7" lengthAdjust="spacingAndGlyphs">22</text><circle cx="168" cy="302" r="1.2" class="dg"/><text x="175.7" y="315.4" class="lb" textLength="9.2" lengthAdjust="spacingAndGlyphs">N</text></g><g transform="translate(0,390)"><text x="216" y="77" class="lb lo" textLength="24.4" lengthAdjust="spacingAndGlyphs">100</text><circle cx="244.8" cy="64.4" r="1.2" class="dg"/><text x="252.8" y="77" class="lb lo" textLength="12.8" lengthAdjust="spacingAndGlyphs">W</text><text x="284.8" y="77" class="lb lo" textLength="15.6" lengthAdjust="spacingAndGlyphs">90</text><circle cx="304.8" cy="64.4" r="1.2" class="dg"/><text x="314" y="77" class="lb lo" textLength="12.4" lengthAdjust="spacingAndGlyphs">W</text><text x="348.8" y="77" class="lb lo" textLength="16.8" lengthAdjust="spacingAndGlyphs">80</text><circle cx="370" cy="64.4" r="1.2" class="dg"/><text x="377.6" y="77" class="lb lo" textLength="13.2" lengthAdjust="spacingAndGlyphs">W</text><text x="412" y="77" class="lb lo" textLength="15.2" lengthAdjust="spacingAndGlyphs">70</text><circle cx="431.6" cy="64.4" r="1.2" class="dg"/><text x="440.4" y="77" class="lb lo" textLength="13.2" lengthAdjust="spacingAndGlyphs">W</text></g><g transform="translate(0.3,390)"><rect x="441.5" y="95.5" width="23" height="215" fill="url(#jetg)" stroke="#1a1a1a" stroke-width="0.9"/><text x="474.2" y="104.4" class="cb" textLength="11.8" lengthAdjust="spacingAndGlyphs">2</text><line x1="461.5" x2="464.8" y1="96.4" y2="96.4" stroke="#262626" stroke-width="0.8"/><text x="474.2" y="157.1" class="cb" textLength="11.8" lengthAdjust="spacingAndGlyphs">1</text><line x1="461.5" x2="464.8" y1="149.1" y2="149.1" stroke="#262626" stroke-width="0.8"/><text x="474.2" y="210.4" class="cb" textLength="11.8" lengthAdjust="spacingAndGlyphs">0</text><line x1="461.5" x2="464.8" y1="202.4" y2="202.4" stroke="#262626" stroke-width="0.8"/><text x="474.2" y="263.9" class="cb" textLength="21.3" lengthAdjust="spacingAndGlyphs">-1</text><line x1="461.5" x2="464.8" y1="255.9" y2="255.9" stroke="#262626" stroke-width="0.8"/><text x="474.2" y="316.6" class="cb" textLength="21.3" lengthAdjust="spacingAndGlyphs">-2</text><line x1="461.5" x2="464.8" y1="308.6" y2="308.6" stroke="#262626" stroke-width="0.8"/></g><text x="133.9" y="731.1" class="tt" textLength="348.4" lengthAdjust="spacingAndGlyphs">SAT-RAP 850 hPa Temp (K)</text><g transform="translate(420.8,389.6)"><rect x="196.3" y="96.8" width="232.9" height="212.8" fill="#fff" stroke="#000" stroke-width="1.1"/><g fill="none" stroke-width="7.4" stroke-linecap="round"><path stroke="#a60000" d="M344.3 127.3h0M303.4 130.6h0M305.8 139.1h0M331.8 152h0M312.8 154.2h0M302.3 161.3h0M309.4 166.7h0M329.8 169.5h0M335.9 172.7h0M406.4 256.2h0M401.1 261.2h0M405.4 260.1h0M420.4 264.7h0M393.7 273h0M398.3 276.6h0"/><path stroke="#00e5ff" d="M419.7 170h0M375.2 177.1h0M330.1 203.2h0M314.6 216.4h0M337.2 218.9h0M349.2 219.8h0M329.7 222.2h0M397.3 245.6h0M332.1 249.6h0M336.7 248.6h0"/><path stroke="#ffe500" d="M374.2 279.9h0"/><path stroke="#8cff73" d="M367.5 138.6h0M356.9 186h0M355.3 193.7h0M326.2 196.8h0M392.8 210.8h0M345.5 276.9h0M348.9 290.4h0M420.5 299h0"/><path stroke="#0033ff" d="M400.6 173.4h0M309.4 199h0"/><path stroke="#0066ff" d="M374.1 203.9h0M321 230.6h0"/><path stroke="#ff9900" d="M302.1 174.3h0"/><path stroke="#00f2ff" d="M383.4 167h0M383.4 183.9h0M324.6 192.1h0M339.7 196.3h0M324.8 205.2h0M363.7 208h0M359 220.4h0"/><path stroke="#59ffa6" d="M364.2 143.4h0M356.9 276h0M351.9 290.2h0M408.1 307.2h0"/><path stroke="#00ccff" d="M386.3 128h0M333.5 203.8h0M341.3 215.4h0M352.9 282.8h0"/><path stroke="#ff2600" d="M349.2 117.7h0M351.8 125.4h0M366.6 172.4h0M348 178.3h0M381.6 275.5h0M383.1 282.7h0"/><path stroke="#0000bf" d="M397.3 153.4h0M424.7 203.2h0M420.7 216.2h0M400.7 220.2h0M404.3 219.3h0M405.1 226.1h0M385.6 230.1h0M408.3 234.1h0M358.9 246.9h0M401.2 291.7h0M413 295.2h0M389.2 307.2h0"/><path stroke="#d9ff26" d="M382 109.9h0M322.5 151.3h0M325.4 155.3h0M374 174.7h0M396.7 212.4h0M356.4 307.5h0"/><path stroke="#80ff80" d="M389.1 101h0M385.2 154.2h0M424.5 170.5h0M378.5 181.5h0M319 199.2h0"/><path stroke="#00a6ff" d="M389.9 128.6h0M391.1 136.5h0M387.3 178.3h0M348.2 197.3h0M360.8 205h0M340.9 222.7h0M340.1 245.9h0"/><path stroke="#ff7300" d="M366.9 155.5h0M295.1 166.9h0M363.2 178.1h0M333.7 181h0M396.5 207.9h0M428.2 231.7h0M378.7 256.2h0"/><path stroke="#0000e6" d="M362.5 112.7h0M412.9 168.9h0M417.8 223.5h0M358.7 242.2h0M358.6 269.4h0M395.2 146.4h0"/><path stroke="#00008c" d="M409.5 189.5h0M408.8 196h0M378.4 215h0M378.6 218.8h0M410.1 223.3h0M391.1 226.5h0M400.9 227.3h0M386 239.2h0M377.9 241.2h0M379.4 245.8h0M404.6 295.3h0M392.7 298.4h0"/><path stroke="#1affe5" d="M387.2 138.7h0M309.8 189.1h0M369.8 204.6h0M358.9 206.7h0M329.2 246.8h0M348.3 257.5h0"/><path stroke="#d90000" d="M330.1 146.5h0M352 161.3h0M317.2 173h0M314.7 177.9h0M320.7 176.8h0M389.3 253.2h0M398.3 253.2h0M408 252.9h0M374 265.1h0M378.3 267.8h0M423.5 272.3h0M405.1 276.7h0"/><path stroke="#ff5900" d="M370.7 163.2h0M333.2 268h0"/><path stroke="#0040ff" d="M378.3 207.3h0M386.8 208.9h0M369.9 210.6h0"/><path stroke="#000dff" d="M360.1 227h0"/><path stroke="#0000a6" d="M409.7 167.1h0M412.5 188.8h0M423.4 192.3h0M402.5 214.7h0M412.8 216.6h0M371.7 219.2h0M394.1 223.7h0M381.6 225.8h0M378.7 233.9h0M390.2 234.9h0M394.6 235.2h0M413.1 235.3h0M370.6 238.4h0M381.5 242.3h0M396.4 241.8h0M374 249.5h0M374.2 252.5h0M413.7 292.2h0M372 295.4h0M391 294.2h0M400.2 298.4h0"/><path stroke="#8c0000" d="M305.5 134.4h0M337.2 135.5h0M309.4 140.3h0M301.7 143.4h0M305.2 146.7h0M332.7 154.6h0M341.2 176.2h0M386.9 272h0M424.1 276.1h0"/><path stroke="#26ffd9" d="M379.3 154.8h0M423 174.7h0M347.4 192.7h0M389.7 199.4h0M353.1 205.1h0M350.9 208h0M352.1 264.3h0"/><path stroke="#ccff33" d="M322.3 146.9h0M370.4 150.2h0M352.4 184.1h0M398 185.3h0M344.3 273.5h0M345 279.2h0M355.4 299h0"/><path stroke="#ffcc00" d="M370.6 123.5h0M372 283.6h0M420.8 284.3h0"/><path stroke="#4dffb2" d="M371.6 120.8h0M344.1 196.8h0M348.1 215.1h0M352.6 246.8h0M416.3 284h0"/><path stroke="#b30000" d="M310.3 170.5h0M337.7 168.6h0M310.8 176.6h0M332.3 257.9h0M398.7 258.4h0M379.7 261.5h0M420.9 261.1h0M397.2 268.2h0M417.8 272.5h0M390 279.9h0"/><path stroke="#0000d9" d="M393.3 146.4h0M406.2 161.8h0M410 186.1h0M415.7 189.7h0M381.2 207.4h0M362.2 230.4h0M415.5 234h0M360.1 257.5h0M363.3 272.2h0M416.9 287.7h0"/><path stroke="#0000ff" d="M394 143.8h0M393.9 151.2h0M401.5 155.6h0M377.8 292.1h0"/><path stroke="#00d9ff" d="M392.6 127.9h0M379.7 132.3h0M389.8 130.7h0M393.2 173.4h0M383.4 180.6h0M352.3 200.9h0M343.3 204.9h0M345.6 222.8h0M351.2 241.1h0M356.7 242.6h0M325.1 245.3h0M347.5 253h0M352.5 269h0M351.9 276.7h0"/><path stroke="#0080ff" d="M371.1 115.6h0M318 208.4h0M421.5 211.6h0M345.4 227h0"/><path stroke="#ff3300" d="M348.3 139.7h0M352.9 166.7h0M325.3 180.1h0M347.7 260h0M378 264.4h0M421.4 269.8h0M406.3 284.8h0"/><path stroke="#e5ff1a" d="M363.4 135.9h0M427 173.6h0M302.7 177.2h0M390.3 188.9h0M423.5 215.4h0M428.2 215.6h0"/><path stroke="#f20000" d="M348.3 147.9h0M413.7 241.9h0M382.6 268.6h0M428.7 269.7h0M394.6 280.4h0"/><path stroke="#a6ff59" d="M400.6 178.2h0M405.1 177.4h0M303.4 180.7h0M425.3 218.1h0M330.1 250.4h0M378.5 288.5h0M363.3 295.8h0"/><path stroke="#ff1a00" d="M360 166.1h0M413.1 245.7h0M344.6 261.2h0M340 264.1h0"/><path stroke="#ffa600" d="M362.5 124.8h0M428.9 223.1h0"/><path stroke="#800000" d="M373.9 106.1h0M291.9 136.4h0M343.4 136.4h0M298.1 140.6h0M303.6 139.5h0M347.5 143.5h0M301.7 151.3h0M305.4 151.4h0M333.1 158.4h0M337.5 162.3h0M352.8 174.1h0M417 245.3h0M402.6 269h0M378.8 271.6h0"/><path stroke="#cc0000" d="M347.6 136.1h0M344.8 154h0M417.5 258.2h0M389.7 261.6h0M375.8 268.2h0M389.6 267.6h0M401.1 275.4h0"/><path stroke="#000099" d="M417.5 207h0M383.3 211.8h0M394 218.9h0M408.9 218.1h0M419.4 218.4h0M367.2 223.1h0M375.8 233.5h0M404.6 233.8h0M381.8 237.8h0M386.6 241.4h0M366.6 258.3h0M377.9 298.9h0M387.3 305.8h0"/><path stroke="#ffbf00" d="M363.1 155.2h0M397.1 203.5h0"/><path stroke="#00bfff" d="M333.6 184.6h0M385.1 189.6h0M366.7 192h0M379.3 193h0M359.8 201.3h0M344.7 211h0M333.1 229.6h0M356.3 258.2h0M356 273.1h0"/><path stroke="#0000f2" d="M366.1 215.4h0M364.6 223h0M416.4 227.3h0M363.8 282.9h0M363.5 291.1h0"/><path stroke="#66ff99" d="M366.2 123.8h0M328.5 188.4h0M347.7 275.7h0M347.7 280.3h0M368 299.5h0M416.5 306.2h0"/><path stroke="#ffd900" d="M344.9 181.6h0M389.6 191.9h0M393.9 195.8h0M420.5 241.2h0M390.9 288.2h0M352.7 294.8h0"/><path stroke="#bfff40" d="M325.1 140h0M378.6 147.2h0"/><path stroke="#ff8000" d="M356 116.2h0M355.1 125h0M359.4 142.9h0M329.3 155h0M427.6 239.4h0M409.3 242.8h0"/><path stroke="#fff200" d="M371.6 173.6h0"/><path stroke="#73ff8c" d="M369.8 147.9h0M416.9 178.2h0M387.2 195.4h0M337.1 223.5h0"/><path stroke="#40ffbf" d="M378.1 135.5h0M382.4 140.5h0M382 163.1h0M363.8 185.1h0M330.2 192.6h0M354.8 218.8h0M345.5 284.3h0"/><path stroke="#ff4000" d="M348.1 131.8h0M354.7 138.4h0M314.6 150.2h0M358.5 150.2h0M356.8 163.4h0M360.5 177.8h0M420.6 245.5h0"/><path stroke="#99ff66" d="M375.1 131.2h0M393.4 182.4h0M420.8 181.8h0M312.9 184.9h0M336.9 201.3h0M339.4 276.6h0M416.4 302.6h0"/><path stroke="#0019ff" d="M402.3 185.2h0M408.8 288.1h0M368.2 291.1h0"/><path stroke="#0059ff" d="M389.5 115.7h0M397.4 161.2h0M352 234.7h0M368.2 269.6h0M367.7 271.6h0"/><path stroke="#00ffff" d="M377.6 173.5h0M385.2 184.1h0M364.4 204.3h0M373.6 207.6h0M355.3 211.6h0M322.4 223.7h0M352.6 223.6h0M348.4 245.5h0M366.9 301.7h0"/><path stroke="#0026ff" d="M398.2 158.7h0"/><path stroke="#0000cc" d="M371.7 222h0M404.8 239.1h0M378.8 252.9h0M363.1 261.2h0M370.1 261h0M383.3 306.2h0"/><path stroke="#33ffcc" d="M393.5 176.9h0M427.8 176.3h0M419.9 185.7h0M337.3 207.4h0M351.5 237.6h0"/><path stroke="#b3ff4c" d="M374.5 128h0M368.2 132.9h0M318.4 147.9h0M371.3 153.7h0M419.6 174.3h0M317.3 184.9h0M386 290.3h0M423.4 291.5h0M359.6 302.2h0"/><path stroke="#ffb300" d="M358.7 154.8h0M396.7 192h0M347.8 268.9h0"/><path stroke="#0099ff" d="M364.4 119.4h0M382.8 119.3h0M359.2 210.8h0M326.6 222.7h0M324.9 241.3h0"/><path stroke="#ff0000" d="M349.2 120.5h0M329.9 178.5h0M313.4 181.3h0"/><path stroke="#ffff00" d="M326.5 161.8h0M348.2 303.1h0"/><path stroke="#e50000" d="M357 142h0M340.1 163.1h0M348.2 174.7h0M322.2 180.4h0M390.3 265.6h0M378.6 277.3h0M389.6 277h0"/><path stroke="#0000b2" d="M421.4 189.4h0M424.9 195.5h0M408.7 208.2h0M381.4 214.9h0M389.6 216.2h0M415.9 220h0M377.5 223.1h0M374.3 230.4h0"/><path stroke="#ff6600" d="M355.2 151.5h0M337.9 267.6h0"/><path stroke="#ff0d00" d="M351.7 147.4h0M318.7 162.5h0"/><path stroke="#f2ff0d" d="M358.7 129h0M404.5 181.2h0M428.1 219.8h0M424.8 303.1h0"/><path stroke="#990000" d="M294.2 143.9h0M305.7 143.1h0M344.1 144.3h0M295.1 150h0M336 152h0M412.8 261.1h0M412.8 267.5h0M427.4 279.7h0"/><path stroke="#000080" d="M419.5 195.3h0M381.7 219.4h0M385.9 218.1h0M379.4 230.6h0M378.3 238.3h0M363.1 240.9h0M371.4 245.8h0M363.5 258.1h0M412.8 287.5h0M388.9 298.9h0"/><path stroke="#bf0000" d="M371.7 105.8h0M340.5 120.5h0M290.5 146.7h0M344.2 150.9h0M294.1 155.4h0M311.1 157.8h0M348.1 158.1h0M315.1 166.7h0M326.2 169.9h0M332.8 173.5h0M324.7 177.5h0M329.9 257.2h0M402.1 257.2h0M337.8 260.8h0M409.8 269h0"/><path stroke="#004dff" d="M318.5 225.9h0M375.9 303.3h0M366.6 309.4h0"/><path stroke="#0073ff" d="M393.6 159h0M309.2 196.1h0M362.3 276h0"/><path stroke="#ff8c00" d="M286.4 146h0M374.8 166.9h0M335.9 180.1h0"/><path stroke="#008cff" d="M415.6 170.4h0M310.8 208.2h0M347.1 211.1h0M366.7 210.8h0M322.3 220.2h0M317.2 224.1h0M423.5 222.9h0M355.5 286.7h0"/><path stroke="#00b2ff" d="M389.6 113h0M393.2 169.1h0M307 188.4h0M345.1 192.2h0M390.3 291.8h0M393.2 115.4h0"/><path stroke="#ff4c00" d="M356.3 121.3h0M290.4 150.1h0M364.2 164.9h0M355.3 178.5h0M341.3 258.1h0M340.9 268.4h0"/><path stroke="#0dfff2" d="M417.6 172.7h0M343.3 185.7h0M366.3 184h0M381.8 188.9h0M352 192.5h0M341.1 241.6h0"/><path stroke="#ff1a00" d="M367.9 165.1h0M302.2 170.8h0M366.3 176.2h0M363.1 181.3h0M412.5 253.6h0M343.7 256.7h0M333.2 265.4h0"/><path stroke="#0099ff" d="M386.6 117.5h0M408.3 239.3h0"/><path stroke="#ff0000" d="M330.2 139.1h0M351.1 170.1h0M343.4 253.8h0M383.3 260h0M394.1 284.2h0"/><path stroke="#f2ff0d" d="M320.9 138.8h0M391 206.7h0M340.5 288.4h0M347.9 296.1h0"/><path stroke="#00ffff" d="M388.9 181.1h0M354.8 200.3h0M344.6 214.4h0M328.8 218.6h0M343.7 244.9h0M382.6 253.4h0M412.1 303.3h0M378.2 306.9h0"/><path stroke="#00ccff" d="M389.5 166.2h0M316.8 196.4h0M383.2 199.7h0M387.3 205.2h0M326.5 226.2h0M339.6 225.9h0M359.2 280h0"/><path stroke="#33ffcc" d="M379.3 165.8h0M337.3 195.9h0M356 195.7h0M343.6 200h0M367.1 201.2h0M423.6 226.2h0M349.2 233.2h0M421 291.2h0"/><path stroke="#ff6600" d="M330.3 158.7h0M363.6 159.4h0M394.9 192.2h0"/><path stroke="#73ff8c" d="M366.8 136.1h0M328.4 143.4h0M367.1 147.8h0M375.7 146.4h0M379.1 149.6h0M377.9 170.4h0M423.8 177.4h0M303.5 184.1h0M363.7 188.8h0"/><path stroke="#ff4c00" d="M374.5 113.6h0M359.5 123.4h0M352.6 143.5h0M354.6 157.7h0M372.1 279.9h0"/><path stroke="#0040ff" d="M406.3 169.7h0M313.3 199.6h0M405.6 288h0"/><path stroke="#e50000" d="M371.9 107.9h0M335.8 177.3h0M348.8 180.9h0M409.3 245h0M413.4 249.7h0M420.8 256h0"/><path stroke="#0026ff" d="M398.6 169.7h0"/><path stroke="#ff5900" d="M359.7 168.8h0M387.1 253.6h0M343.6 269h0"/><path stroke="#ffb300" d="M373.6 151.3h0M324.5 184.1h0M375.9 276.9h0M387.1 283.2h0M351.2 306h0"/><path stroke="#00d9ff" d="M370.7 112.7h0M390.3 174.8h0M366 205.2h0M337.5 212h0M337 215.4h0M324.9 218.5h0M344.6 219.7h0M355.7 225.7h0M341 234.8h0M345 238.8h0M355.9 244.7h0M370.9 300.2h0"/><path stroke="#a6ff59" d="M366.5 129h0M355.6 131.3h0M428.5 166.8h0M410 178h0M415.9 181.6h0M425 184.2h0"/><path stroke="#e5ff1a" d="M337.2 279.9h0M341.4 294.9h0M413.9 309.2h0"/><path stroke="#000dff" d="M368.4 113h0M394.5 139h0M397 142.3h0M398.5 150.5h0M421 165.7h0M416.8 296h0M413.1 298.2h0"/><path stroke="#a60000" d="M329.5 123.5h0M313.1 129.1h0M333 139.8h0M336.5 138.5h0M340.5 149.8h0M305.7 155.3h0M306.4 161.4h0M355.6 173.9h0M402.2 253.2h0M423.6 258.4h0M386.3 260.2h0M393.5 265.2h0M396.5 265.9h0M413.9 264h0"/><path stroke="#ccff33" d="M341.1 181.3h0M367.6 275.4h0"/><path stroke="#26ffd9" d="M389 151.4h0M404.7 173.4h0M317.7 189.7h0M368.1 189.4h0M332.6 192.6h0M400.5 192.1h0M329.7 242.5h0"/><path stroke="#ff3300" d="M378.4 112.5h0M345.2 120.3h0M373.9 162.9h0M337.5 253.8h0M382.6 264.7h0M413 283.1h0"/><path stroke="#ffff00" d="M373.8 157.8h0M385.6 287.6h0M427.7 294.1h0"/><path stroke="#0000cc" d="M368 117.2h0M405.9 212.1h0M360.6 238.1h0M400.6 242.2h0M367.9 263.7h0M402.4 288.8h0M359.9 290.7h0M404.1 309.3h0"/><path stroke="#b30000" d="M375 109.4h0M315 135.5h0M314 142.4h0M344.2 146.3h0M298 154.8h0M303.5 155h0M293.9 159.4h0M303 165.5h0M340.4 165.8h0M333.5 168.6h0M340.2 170.8h0M343.6 169.6h0M350.9 178.1h0M394.9 252.7h0M337.2 258.2h0M392.7 257h0M402 264.3h0M417.5 263.8h0M398.3 273.5h0M421.2 273.2h0M402 283.3h0"/><path stroke="#cc0000" d="M337.7 124.4h0M326.5 128.7h0M322.5 165.8h0M356.7 169.2h0M322.4 174.4h0M423.4 245.9h0M393.2 261.8h0M423.6 260.2h0"/><path stroke="#ff9900" d="M326.5 157.4h0M413.2 181.5h0M426.9 233.3h0M429.1 252.5h0M375.2 284.8h0"/><path stroke="#008cff" d="M318.3 203.6h0M326.1 210.5h0M362.8 219.3h0M328.4 230.6h0M339.6 229.6h0M420.2 288h0"/><path stroke="#1affe5" d="M386.3 158.5h0M337.5 184.1h0M428.8 185h0M325 199.9h0M345.4 231.3h0M419.5 231.4h0M347.7 241.5h0"/><path stroke="#8cff73" d="M401.2 207.1h0M345.3 291.7h0"/><path stroke="#0080ff" d="M391 154.9h0M374.6 199.9h0M317.4 219.8h0M321.8 227.1h0M321 234.9h0"/><path stroke="#59ffa6" d="M378 121.4h0M377.8 126.9h0M364.1 131.1h0M381.4 149.8h0M423.6 181.5h0M324.7 187.9h0M314.7 191.7h0M332.3 227h0M414 307.1h0"/><path stroke="#00a6ff" d="M385.5 164.9h0M374.9 191.6h0M359.8 230.4h0M404.1 243h0M355.2 280.3h0"/><path stroke="#40ffbf" d="M386.7 151.2h0M370.5 181.1h0M340.6 189.8h0M362.3 196.5h0M366 196.3h0M356.6 203h0M329.6 207.4h0M351.9 225.6h0M355 237.4h0M381.6 292.4h0M419.9 294.7h0"/><path stroke="#0dfff2" d="M355.6 129h0M333.8 189.9h0M375.8 188.6h0M352.2 197.4h0M379.7 195.4h0M332 200.4h0M344.4 208.2h0M356 230.2h0"/><path stroke="#bf0000" d="M315.1 132.8h0M340.5 147.5h0M311.4 155.2h0M299.3 158.4h0M303 157.4h0M341.4 157.5h0M344.3 166.7h0M318.5 169.2h0M347.6 170.8h0M324.4 173.4h0M306.6 177h0M319 177.8h0M419.5 254.3h0M404.2 266h0M416.9 268.3h0M408.7 276.8h0M385.1 279.9h0"/><path stroke="#00e5ff" d="M387 111.9h0M382.8 134.6h0M382.2 155.5h0M360.4 197.1h0M347.8 204.8h0M321.3 210.8h0M336.9 244.8h0M353 250.1h0M370.6 305.7h0"/><path stroke="#ffcc00" d="M321 129h0M428 303.3h0"/><path stroke="#0000bf" d="M400.5 170.4h0M416.3 199.2h0M409.3 204h0M419.3 207.6h0M381.4 249.3h0M406.2 291.5h0M374.1 296.3h0M406.2 302h0"/><path stroke="#66ff99" d="M378.7 124.6h0M377.8 140.3h0M379.3 158.6h0M397.6 173.5h0M397.9 180.3h0M339.8 219.5h0"/><path stroke="#000080" d="M417 192.9h0M412.3 199.7h0M366.7 227.9h0M390 238.3h0"/><path stroke="#ffa600" d="M359.4 159h0M372 275.7h0M340.5 282.8h0"/><path stroke="#0000d9" d="M426.9 193.8h0M367 219.5h0M416.1 229.7h0M364 268.1h0M377.8 294.6h0"/><path stroke="#0073ff" d="M382.7 127.2h0M423.2 164.8h0M313 211.1h0M348.5 227.4h0M354.8 254.5h0M363.3 280.4h0"/><path stroke="#ff8c00" d="M424.5 235.6h0M372 265.8h0"/><path stroke="#b3ff4c" d="M372 178.4h0M343.5 250.4h0M344 287.3h0"/><path stroke="#0000b2" d="M411.7 192.8h0M409.1 201.3h0M415.6 204h0M374.3 215.2h0M374.8 219.9h0M389.4 219.9h0M405 223.5h0M385.6 227.7h0M393.1 225.7h0M408.2 227.8h0M412.8 231.2h0M370.1 234h0M397.1 239.3h0M366.9 245.9h0M378.7 250.7h0M400.9 295.7h0M405 298.1h0M397.7 306.4h0M401 306.2h0"/><path stroke="#f20000" d="M347.5 126.9h0M317.7 151.4h0M354.7 154.5h0M298.1 163.2h0M329.8 162.3h0M311 181.8h0M390 250.5h0M400.7 278.9h0M409.3 279.3h0"/><path stroke="#990000" d="M310.6 128h0M344.1 130.8h0M341 154.6h0M306.7 159.2h0M417 261.4h0M405.5 272.7h0"/><path stroke="#000099" d="M405.3 189h0M408.5 192.2h0M415.6 197.1h0M423.3 199.4h0M379.4 210.9h0M417.5 211h0M374.4 225.8h0M398.1 225.9h0M405.9 231.7h0M386.4 233.4h0M392.9 238.5h0M389.8 245.3h0M408.8 296.2h0M408.2 300.2h0M396.6 303.2h0M393.1 305.9h0"/><path stroke="#800000" d="M339.5 127h0M332.2 135.4h0M339.6 139.9h0M341.3 143.3h0M329.7 150.9h0M295.7 161.8h0M315.2 174.4h0M409.8 260.1h0M416.2 276.9h0"/><path stroke="#00bfff" d="M387.1 101.5h0M389.5 109.8h0M381.6 115.5h0M393 165.7h0M372 189.9h0M383.3 193.1h0M405 199.6h0M314.5 202.8h0M328.7 210.8h0M320.5 214.9h0M356.4 214.7h0"/><path stroke="#4dffb2" d="M382.2 105.2h0M371 127.3h0M389.8 184.9h0M314.7 189.5h0M321.2 187.8h0M385.3 192.6h0M364 200.9h0M424.8 211.4h0M333.6 238.1h0M366 280h0M358.6 307h0"/><path stroke="#ffd900" d="M368.4 158h0M394.6 207.2h0"/><path stroke="#80ff80" d="M371.1 135.9h0M347 183.8h0M322.3 196.8h0M340.2 279.3h0"/><path stroke="#99ff66" d="M374.2 144.2h0M328.4 186.1h0M373.6 185.1h0M329.2 195.5h0"/><path stroke="#0066ff" d="M390.5 139.1h0M401.2 151.5h0M310.5 204.7h0M321.4 204.8h0"/><path stroke="#0000ff" d="M404.4 165.4h0M363.6 215.5h0M358.7 271.4h0M416.6 298.6h0"/><path stroke="#8c0000" d="M333.9 128.8h0M337.6 128.3h0M311.2 131h0M337.2 132h0M302.6 136.4h0M309.1 135h0M340.3 134.7h0M291.8 143.1h0M311.3 143.9h0M311 146.3h0M335.8 158.8h0M408.8 265.2h0M382.9 281.1h0"/><path stroke="#bfff40" d="M364.4 128.8h0M370.8 142.8h0M375 155.6h0M371.9 286.8h0M362.8 298.6h0"/><path stroke="#ff0d00" d="M298.6 166h0M355.9 166.5h0M406 250.5h0M329.7 254.2h0M424.8 267.5h0M373.9 272.6h0M394.4 277.3h0"/><path stroke="#ffbf00" d="M322.8 153.7h0M424.1 238.7h0M398.5 287h0M425.1 306.7h0"/><path stroke="#0059ff" d="M401.2 162.4h0M396.7 292.3h0M374.9 307.8h0"/><path stroke="#d90000" d="M313.9 139.4h0M332.5 161.5h0M307.4 169.2h0M389.6 257.3h0M382.4 271.8h0M427.6 275.1h0"/><path stroke="#00f2ff" d="M383.3 157.8h0M385 170.1h0M333.9 242.7h0M394.9 290.4h0"/><path stroke="#004dff" d="M385.2 120.1h0M397.7 139.8h0M421.1 227.2h0"/><path stroke="#d9ff26" d="M324.5 143.8h0"/><path stroke="#0000a6" d="M421.3 192.7h0M412.7 197.5h0M411.6 207.4h0M406.2 215.9h0M401.4 223h0M409.5 229.8h0M400.6 233.4h0M375.8 245.8h0M383.3 246.1h0M366.7 259.8h0M415.9 291.9h0M397.2 294.5h0M383 298.6h0M397.7 298.8h0M401.7 303.4h0"/><path stroke="#00b2ff" d="M385.2 131.3h0M393.9 161.4h0M397.4 165.2h0M317.7 211.2h0M328.4 227h0M328.4 239.1h0M351.5 256.2h0"/><path stroke="#0000f2" d="M402.2 167h0M363.1 288.8h0M378.2 302.2h0"/><path stroke="#fff200" d="M359.8 135.2h0M328.8 182.1h0M306.8 184.6h0M398.3 199.6h0M356.1 296.2h0M344.2 299.3h0"/><path stroke="#ffe500" d="M324.2 146h0M366.3 151h0M408.7 174.6h0M394 204.5h0M404.6 244.8h0M347.9 298.6h0"/><path stroke="#ff4000" d="M324.8 124.4h0M353.2 158.4h0M371.2 159.4h0M356.8 180.1h0M393.7 248.8h0M381.3 256.9h0M347.6 265.5h0M379.6 280h0"/><path stroke="#ff8000" d="M359.8 147.4h0"/><path stroke="#0000e6" d="M362.6 116.1h0M404.2 157.7h0M429 195.2h0"/><path stroke="#00008c" d="M409.4 212.1h0M415.7 215.8h0M390.3 222h0M381.3 234.7h0M408.3 291.2h0"/><path stroke="#0033ff" d="M360.1 284.4h0"/><path stroke="#ff2600" d="M417.1 242.7h0M398.5 279.3h0M420.8 279.7h0M427 284.6h0"/><path stroke="#ff7300" d="M291.8 157.7h0M366.8 162.7h0M424.6 230.9h0"/><path stroke="#800000" d="M339.8 125.1h0M341.1 132.9h0M299.4 136.7h0M297.9 143.9h0M336.3 147.1h0M424.1 248.5h0M386.8 257.2h0M412.1 276.6h0"/><path stroke="#0073ff" d="M393.5 154.6h0M310.2 191.6h0M314.9 196.5h0M317.9 215.2h0M367.1 284.6h0"/><path stroke="#ff4c00" d="M352.5 119.4h0M359.3 121.1h0M375.7 261h0"/><path stroke="#f20000" d="M360.1 161.3h0M362.7 162.6h0M371.6 166.4h0M397.1 250.1h0M421.2 249.6h0"/><path stroke="#ff8000" d="M427.4 225.7h0M428.5 242.7h0"/><path stroke="#d90000" d="M349.3 154.3h0M343.8 161.4h0M314.2 169.1h0M367.7 170.4h0M306.5 173.3h0M407.9 250.1h0M389.2 271.8h0M386.5 276.3h0M420.7 275.7h0M415.5 279.4h0M424.7 278.9h0M409.1 284.4h0"/><path stroke="#0019ff" d="M428.6 210.9h0M413.7 237.3h0"/><path stroke="#26ffd9" d="M321.6 200.3h0M355.5 207.4h0M328.8 215.4h0M352.2 215.2h0M416.1 237.5h0M400.9 244.6h0M348.4 250h0M373.9 288.7h0M359.4 295.4h0M364.2 303.2h0M371.3 302.6h0"/><path stroke="#000099" d="M405.4 193.6h0M419.3 199.1h0M371.7 214.4h0M385.1 223.9h0M364.3 227.7h0M400.5 230.4h0M367.7 233.8h0M363.6 239.1h0M366 238.2h0M375 237.5h0M401.6 237.1h0M366.3 241.3h0M371.3 242h0M364.3 245.7h0M387.3 244.8h0M394.8 302.5h0M397.8 309.4h0"/><path stroke="#80ff80" d="M375.4 123.8h0M340.4 290.9h0"/><path stroke="#ff0000" d="M329.5 136.5h0M362.8 169.2h0M309.5 174.1h0M404.2 280h0M413.6 280.2h0"/><path stroke="#ccff33" d="M318.5 139.2h0M412.7 174.6h0M402.5 181.6h0M340.3 185.6h0M394.1 184.5h0M420.4 237.9h0M335.8 277.1h0"/><path stroke="#00ffff" d="M390.1 176.5h0M375.3 180.2h0M344.6 189.4h0M356 189h0M362.3 193.7h0M378.5 201.2h0M324.5 234.8h0M335.8 237.6h0M363 307.3h0M367.6 305.5h0M420.7 306.4h0"/><path stroke="#ffd900" d="M362.3 146.4h0M423.9 294.7h0"/><path stroke="#ffbf00" d="M287.1 142.1h0M352.8 299.8h0M426.9 305.4h0"/><path stroke="#59ffa6" d="M374.9 134.4h0M374.9 139h0M382.4 146.7h0M386.1 162.7h0M408.3 181h0M339.5 203.2h0"/><path stroke="#ffb300" d="M321.7 132.9h0M321.9 184.6h0M402.1 200.2h0M337.7 265.6h0"/><path stroke="#e50000" d="M317.6 127.8h0M356 147.3h0M290.7 153.5h0M317.7 153.6h0M317.4 157.6h0M401.6 249.1h0M424.1 252.9h0M425.2 284.6h0"/><path stroke="#ff9900" d="M351.2 128.5h0M298.9 169.1h0M356.4 303.4h0"/><path stroke="#0000b2" d="M398 221.8h0M397.2 234.5h0M394 242.1h0M371.6 249.7h0M360.1 287.6h0M375 291.1h0"/><path stroke="#a60000" d="M343.5 116.2h0M332.3 123.8h0M287.8 138.8h0M292.1 140h0M294.9 139h0M333.4 143.9h0M309.5 151.5h0M345.1 157.6h0M310 161.6h0M348.9 162.9h0M337.7 165.2h0M409.1 256.7h0M405.2 267.9h0M402 273.3h0"/><path stroke="#fff200" d="M367.3 143.6h0M391.1 196.2h0M401.4 204.8h0"/><path stroke="#00b2ff" d="M367.6 119.8h0M386.2 123.9h0M385.9 200.4h0M314 208.8h0M358.5 234.4h0M340 239.4h0M352.7 254.2h0M406.2 306.8h0"/><path stroke="#0000f2" d="M364 109.2h0M425 189.8h0M390 212.1h0"/><path stroke="#0033ff" d="M429.2 189h0"/><path stroke="#1affe5" d="M359.7 189.3h0M339.8 192.4h0M337.6 204.6h0M343.7 240.9h0"/><path stroke="#990000" d="M329.3 132.1h0M333.4 131.4h0M296.2 135.1h0M343.4 140h0M335.7 143h0M295.3 147.7h0M299.9 147.3h0M337.2 154.7h0M392.7 268.4h0"/><path stroke="#8c0000" d="M347.1 123.5h0M328.2 127.6h0M306.8 132.6h0M302.7 147.3h0M312.9 158.3h0M334.1 165.3h0"/><path stroke="#0000cc" d="M416.6 165h0M421.2 204.7h0M425.3 207.6h0M386.5 212.7h0M398.1 218.4h0M412.9 218.3h0M413.7 222.4h0M362.5 233.7h0M366.6 249.6h0M385.5 249h0M359.8 253.7h0M386.1 296.4h0M375.4 299.7h0M385.7 299.5h0M405.2 115.4h0M402.2 121.4h0"/><path stroke="#008cff" d="M385.8 108.1h0M394.6 131.6h0M371.5 197h0M333.8 207.5h0M401.2 210.6h0M329.3 233.8h0M360.7 263.7h0M337.1 272.1h0"/><path stroke="#ffff00" d="M379.2 104.4h0M318.7 136.5h0M299.9 173.5h0M424.2 299.6h0M402.2 153.4h0"/><path stroke="#0000ff" d="M374.9 210.5h0M419.9 222.7h0M364.4 265.9h0M400.2 135.4h0"/><path stroke="#ff2600" d="M427 245h0"/><path stroke="#d9ff26" d="M359.9 117.1h0M324.5 131.2h0M359.7 130.7h0M363.5 139.3h0M318.6 143.7h0M359.9 185.8h0M369.9 272.6h0M352 303.5h0M348.9 306.5h0"/><path stroke="#0000e6" d="M401.9 159h0M406 208.8h0M393 215.4h0M360.1 261.2h0M408.2 110.4h0M397.2 140.4h0"/><path stroke="#ff4000" d="M359.6 139.8h0M314.3 147.7h0M351.9 150.4h0M428.6 286.7h0"/><path stroke="#ff1a00" d="M352.5 134.7h0M351.3 154.8h0M353 181.5h0M427.6 261.1h0M344.9 264.7h0"/><path stroke="#99ff66" d="M375.9 170.5h0M379.5 178.4h0M348.5 187.9h0M347.5 286.6h0M421.4 303.1h0"/><path stroke="#00d9ff" d="M389.4 119.9h0M390.6 161h0M390.4 168.8h0M383.2 173h0M397.5 176.5h0M371.9 184.2h0M347.6 231.2h0M355.1 234.9h0M354.9 249.9h0M351.3 281.2h0M368.3 296h0"/><path stroke="#00ccff" d="M393.1 123h0M386.9 136.4h0M393.2 136.2h0M386.9 172.9h0M321.7 193.7h0M378.8 205h0M353.2 211.5h0M333.2 222.2h0M336 227h0M331.8 234.7h0"/><path stroke="#00bfff" d="M382.3 125.2h0M389.7 142h0M389.7 157.4h0M412.9 184.3h0M321.2 208.6h0M324.7 208.3h0"/><path stroke="#40ffbf" d="M377.7 185h0M389.5 204.6h0M347.5 223h0M355.4 222h0M340.7 249.7h0"/><path stroke="#ff5900" d="M348.8 151.3h0M358.5 173.6h0M371.9 268.1h0M378.9 283.7h0"/><path stroke="#cc0000" d="M344.5 124.6h0M299.9 151.6h0M324.8 167.1h0M329.2 165.9h0M332.9 178.2h0M413.9 256.4h0M408.1 271.7h0M428.3 272.8h0"/><path stroke="#ff0d00" d="M358.7 181.1h0M417.5 250.3h0M333 254.3h0M340.2 261.7h0M428.5 263.7h0M424.4 287.1h0"/><path stroke="#00e5ff" d="M387.2 104.2h0M381.5 112.5h0M381.9 196.6h0M349.3 199.6h0M368.2 208.4h0M344.7 235.3h0M348 237.3h0M337.9 242.8h0"/><path stroke="#66ff99" d="M372.1 132.1h0M372.1 140h0M381.9 169.4h0M428.1 181h0"/><path stroke="#0000a6" d="M413.8 204.8h0M427 204.4h0M427.7 208.4h0M371.7 226.9h0M379.6 227.3h0M382.7 231h0M388.9 230.8h0M372.2 252.7h0M370.9 256.6h0M371.1 292.3h0M390.2 303.3h0"/><path stroke="#ff7300" d="M378.2 161.3h0M363.9 174.7h0M400.7 197.2h0"/><path stroke="#ff8c00" d="M322.1 162h0M318 181.9h0M345.1 295.7h0"/><path stroke="#ffe500" d="M351.3 131.1h0M305.3 182.3h0M398.6 196h0M423.4 241.8h0M347.5 271.5h0"/><path stroke="#ff6600" d="M352.4 117.7h0M394.6 288.6h0"/><path stroke="#0059ff" d="M366.2 109.2h0M408.7 169.8h0M360 275.4h0M382.9 294.1h0"/><path stroke="#0040ff" d="M356.8 112.1h0M396.9 215.5h0"/><path stroke="#0066ff" d="M358.7 112.4h0M325.2 216.3h0M409.1 304h0"/><path stroke="#a6ff59" d="M428.1 292.3h0"/><path stroke="#0000bf" d="M397.7 147.7h0M412.4 167.1h0M404.5 185.6h0M428.5 200.7h0M413.2 210.9h0M363.8 252.6h0M394.3 294.9h0M382.3 303.6h0"/><path stroke="#00f2ff" d="M385.1 147h0M415.6 185.3h0M335.6 189h0M379.1 189.4h0M336.5 192.3h0M383.3 204.8h0M332.2 214.6h0M314.9 218.6h0M359.3 223.2h0M332.8 245.5h0M375 257.6h0"/><path stroke="#b30000" d="M313.1 161.2h0M306.4 167h0M318.1 165.9h0M347.6 167h0M330 174.3h0M340.1 173.5h0M343.6 172.6h0M424.5 264.5h0M385.5 268.6h0"/><path stroke="#00a6ff" d="M391 106.1h0M371 191.6h0M406 203.5h0M370.2 209h0M340 212.3h0M350.8 218.2h0M326 229.5h0M353.1 230.3h0M338 235.3h0M355.1 264.5h0M351.2 272.6h0M355.3 291.6h0"/><path stroke="#0dfff2" d="M390.6 124.5h0M385.4 142.1h0M427.6 168.7h0M383.1 178h0M375.3 195.9h0M362.4 211.3h0M335.9 229.7h0M324.6 239.2h0"/><path stroke="#4dffb2" d="M377.7 117.8h0M378.2 142.9h0M419.6 176.9h0M333.3 196.3h0M341.8 200.5h0M351.3 260.5h0"/><path stroke="#33ffcc" d="M374.5 119.9h0M381.7 131h0M383.6 143.7h0M386.6 181.7h0M351.5 188.8h0M360.3 193.4h0M371.5 201h0M341.5 208.9h0M333 212.2h0M332 219.9h0"/><path stroke="#0080ff" d="M393 121.5h0M358.4 249.5h0M355.2 269.2h0"/><path stroke="#ffcc00" d="M324.6 152h0M320.7 159.2h0M397 189.5h0M394.8 199.7h0M382.3 287.9h0M429.1 299.3h0"/><path stroke="#bf0000" d="M335.7 119.9h0M332.1 146.5h0M320.5 168.9h0M344.7 176.3h0M406.3 253.9h0M415.9 253.8h0M334 261.5h0M397.5 259.9h0M386 264.6h0M413.9 271.8h0"/><path stroke="#00008c" d="M385 215.7h0M409.5 214.6h0M374.3 222.8h0M411.9 227.6h0M367.6 231.4h0M371.4 231.6h0M393.3 230.3h0M374.3 240.9h0M390 242.8h0M366.3 254h0"/><path stroke="#0000d9" d="M402.6 189.4h0M404.5 197.2h0"/><path stroke="#e5ff1a" d="M322.2 135.9h0M420.1 233.8h0"/><path stroke="#000dff" d="M391 146.4h0M392.7 246.3h0M366.8 287.5h0"/><path stroke="#f2ff0d" d="M325.4 136.4h0M363.3 150.3h0M311.2 185.4h0M392.7 188.2h0M428.8 249.4h0"/><path stroke="#ff3300" d="M351.4 140.5h0M372.1 170.6h0M341.6 254h0M428.5 257.1h0M389.5 284.2h0M396.9 283.9h0"/><path stroke="#bfff40" d="M373.9 115.6h0M341.6 271.8h0M358.9 298.3h0"/><path stroke="#73ff8c" d="M322.1 143.5h0M412 176.2h0M368.3 180.2h0M330.2 200.8h0M347.1 283.8h0M350.9 288.6h0"/><path stroke="#000080" d="M381.6 223.7h0M398.1 231.8h0M363.5 250.5h0M385.1 302.8h0"/><path stroke="#ffa600" d="M379.6 109.3h0M317.2 132.7h0M357 134.5h0"/><path stroke="#0026ff" d="M356 284.6h0"/><path stroke="#0099ff" d="M318 192h0M349.3 208.4h0M360 215.4h0M354.6 260.2h0"/></g><g clip-path="url(#boxclip)"><path d="M196.3 96.8 270.9 96.8M214.9 96.8 214.9 168.2M196.3 133.7 214.9 133.7M214.9 125.3 262 125.3M214.9 151.2 249.8 151.2 251.7 152.3 254.2 152.5 256.7 152.4 259.2 153.2 261.1 154.7 262.7 155.6M196.3 168.2 227.5 168.2 227.5 200.6M227.5 176.5 269.9 176.5M196.3 200.6 274.2 200.6M221.5 200.6 221.5 204.5 240.4 204.5 240.4 219.5 242.2 220.7 244.1 220.7 245.4 222.3 247.3 222.6 249.8 223.4 252.3 223 254.2 224.5 256.7 225.3 258.6 225.7 260.5 224.9 263 225.9 265.5 224.9 268 224.5 270.6 224.5 272.5 225.3 275.1 226.5 277.9 227.2M221.2 204.5 221.1 238.8 198.7 238.8M198.7 238.8 199.4 240.5 201.3 242.5 203.2 244 204.6 245.1 205.7 246.5 207.1 248 208.9 248.7 210 250.3 210.8 252 211.5 253.8 211.7 255.7 213.9 257.5 216.4 259.3 219 260.7 220.5 260.9 222.1 258.9 222.1 257 223.4 255.7 225.3 254.6 228.4 254.9 231.5 255.2 232.9 256.4 234.1 257.8 236 260 236.2 262.2 237.8 263.6 239.1 266.4 241 268.6 242 270.2 243.5 271.4 243.8 275 243.9 276.8 245.4 277.8 247.9 279.5 249.4 280.6 251.1 281.3 254.2 282 256.4 283.1 258.3 282.4M258.3 282.4 257.7 279.9 257 276.4 256.7 272.8 258 270 259.2 268.7 259.9 267.2 261.2 266.2 262.4 265 263.4 263.2 265.5 263.6 267.4 263.2 268.7 261.8 270.5 260.8 271.8 259.3 273.4 258.2 272.1 256.4 273.7 255.3 276.2 256.4 279.1 255.7M274.2 200.6 274.2 204.5 274.1 206.3 276 207.8 276.2 209.5 275.8 211.3 275.4 213.1 275.1 226.5M277.9 227.2 277.9 231.2 277.9 238.8 278.7 241.8 280.2 243.6 280.9 245.8 280.3 247.8 280 249.8 279.9 252.8 279.1 255.7M277.9 231.2 295.9 231.3M274.2 200.6 274.2 183.8 272.6 181.4 271.2 178.5 269.9 176.5M274.2 204.5 302.3 204.5 301.1 206.9 301 208.4 305.2 208.4M262.7 155.6 263.6 158.1 264.5 160.2 265.2 162.3 265.3 164.1 266.2 165.7 266.5 169 267 171.7 268.7 174 269.9 176.5M267 171.7 292.4 171.4 294.4 173.3M262.7 146.9 295.6 146.9M262.7 146.9 262.7 131.1 262 125.3 261.1 123.3 261.1 121.1 260.5 116.5 260.2 111 260 109.4 259.6 107.8 258.9 106.3 258.3 101.6 257.8 96.8M262.7 146.9 262.7 148.8 261.8 150.4 260.8 152.4 262 153.9 262.7 155.6M270.9 96.8 273.1 98.7 274.3 99.5 276.9 100.1 279.4 101.1 281.9 100.6 284.4 100.4 286.9 102 288.8 103.3 290.7 103 291.3 104.8 293.2 105.4 295.7 105.8 298.3 105.4 300.8 105.4 303.3 105.8 305.8 106.4M305.8 106.4 304.2 107.9 302 108.6 300.4 110.3 298.3 111 297.2 112.3 295.8 113.2 294.5 114.2 292.6 115 291.3 116.5 288.9 118.4M288.9 118.4 288.9 124 286.9 126.1 286 128.6 285.7 132 286 136 287.3 137.2 288.8 138.2 291.3 139.9 293.1 141.2 294.5 143 295.7 144.8 295.6 146.9M288.9 118.4 290.7 118.4 293.9 117.5 295.6 116.4 297.6 116.1 298.9 118.4 300.6 119.6M300.6 119.6 302.7 121.6 304.2 123.1 306.4 122.9 308.3 123 309.7 124.3 311.5 124.8 315.3 125.2 316.8 127.9 317.1 130.6 318.4 132.8M295.6 146.9 296.1 151.2 297.6 153.8 299.2 155.5 300.8 158.1 302.3 160.6 301.4 163.2 299.5 164.4 298.1 165.2 297 166.5 296.4 169.8 296.3 172.1 294.4 173.3 294.5 176.5 295.4 178.1 296.4 179.7 296.9 182 298.9 183 300.8 185 302.3 187 301.7 190.3 304 190.7 303.9 193.1 305.4 194.3 306.4 195.8 306.4 198.2 307.6 199.3 308.6 200.6 309 202.2 308.1 203.8 306.4 204.5 306.1 206.9 305.2 208.4 303.8 210.2 303 212.3 302.7 215.4 301.4 217.7 300.5 219.2 299.5 220.7 299.5 222.8 297.6 223.8 296.4 225.5 296.4 227.6 295.9 231.3 296.4 234.3 297 237.3 295.4 238.5 294.5 240.3 293.9 243.2 293 246.2M293 246.2 305 246.2 304.9 248.4 304.6 250.4 305.8 252.2M299.3 155.5 317.1 155.5M318.8 161.8 318.8 181.8 318.4 183.8 319 187 317.8 189.5 316.5 191.9 315.6 194.2M308.6 200.6 310.8 199.4 312.7 199.8 314.6 197.4 316.1 196.1 315.6 194.2 318.4 193.5 321.5 194.2 324.7 193.5 327.8 192.7 329.7 191.1 331.6 188.6 333.5 187 336 186.2 335.9 183.8 337.9 183.8 339 185.2 340.4 186.2 342.9 187.4 346.1 187.8 348.6 186.6 349.9 189 351.8 187 352.7 185.4 354.9 183.4 357.4 181.8 359.9 180.1 361.2 177.3 362.1 174.8 362.6 173 363 171.2M335.9 161.8 335.9 183.8M320.9 161.8 335.9 161.8 344.5 162.1M363 171.2 363 159.8M367.7 157.5 367.7 159.8 395.4 159.8M363 171.2 363 178.8 392.7 178.8M349.9 191.1 351.9 192.5 352.4 195 354 196.4 355.5 199 357.4 198.2 359.9 198.2 362.5 197.4 364.3 196.2 366.2 193.9 367.6 192.7 368.1 191.1 369.4 189 371.3 188.6 373.2 186.2 375 184.6 376.6 182.2 380.1 182.2M380.1 182.2 378.5 181.5 377.6 180.1 375.7 180.1 373.8 179.7 371.9 181 369.5 183 369.5 178.8M343.1 203.7 346.1 202.6 348 200.6 350.5 199 352 197.4 354 196.4M354 196.4 351.8 194.2 350.8 191.9 349.9 191.1 349.9 189M306.4 204.5 315.6 204.5 315.6 203.1 322.2 203.3 331.6 203.7 337.9 203.7 343.1 203.7M343.1 203.7 355.7 203.8M355.7 203.8 354.3 206.1 352.4 207.6 349.9 208.6 348.8 210.3 346.7 210.4 344.2 211.9 343 213.5 341.1 213.8 339 216.1M339 216.1 301.4 216.1M355.7 203.8 392.2 204.1M339 216.1 346.7 216.1 348.8 215 351.1 214.6 359.7 215 360.4 215.4 361.2 217.5 368.2 217.7 375.4 224.8M346.7 216.1 346.8 218.2 348.6 219.2 351 219.8 351.1 222.3 353 223.7 353 226.1 353.8 227.7 354.9 229.1 356.8 231.3 356.4 233.2 358 234.3 358.3 236.2 359.3 237.7 360.6 238.4M331 216.1 333.5 231.3 335.3 232.6 336.2 234.1 334.8 236.2 334.4 241.8 334.8 246.2M334.8 246.2 335.6 248.3 344.2 248.7 352.4 249.3 353.3 250.6 355.2 249.1 357.1 248.4M334.8 246.2 318.4 246.2 319 248.4 319.7 250.6M314.6 216.1 312.9 239.5 313.4 250.6M279.1 255.7 281.9 255.2 284 256 286.3 256.4 288.8 256.7 291.3 255.7 293.9 257.1 295.7 258.9 298.3 260 300.8 259.6 302.7 258.9 304.6 258.2 307.1 260 308.6 260.7 307.7 258.6 306.4 257.1 305.2 255.7 306.8 253.8 305.2 252.9 305.8 252.2M300.5 253.1 302.7 252 304.6 252 304.9 253.1 303 253.3 300.5 253.1M305.8 252.2 307.5 250.9 309.6 250.7 313.4 250.7 315.3 249.1 315.9 251.3 318.4 251.5 320.1 250.2 322.2 250.6 325.3 250.6 328.5 251.3 331 252.8 331.1 254.6 332.6 255.7 335.4 255.3 337.3 255.3 338.5 253.8 341.1 252.8 342.9 254.2 343.8 255.7 344.8 257.1 346.7 259.3 348.6 261.4 348.9 265 348.6 267.9 349.9 270 349.6 272.1 350.2 273.6 351.1 275 352.4 277.1 354.3 279.2 354.9 282 356.8 283.4 358.7 285.5 359.6 287.6 362.5 287.6 363.7 286.9 364.3 284.8 365.3 282 365.9 278.5 365.9 275.7 365 272.8 364.6 271 363.7 269.3 364.2 267.1 362.5 265.7 362.1 263.6 361.8 261.9 360.6 260.7 360.1 258.8 359 257.1 358.9 255.2 358 253.5 357.4 250.6 357.1 248.4M363.7 286.9 365.5 288.4 365 290.7 364.7 292.9 366.2 294.5M357.1 248.4 357.7 245.4 358.7 242.5 359.3 239.5 360.6 238.4 362.5 236.6 363.7 235.1 366.2 233.6 368 233 368.7 231.3 370.3 230.5 371.3 229.1 371 226.9 373.2 226.4 375.4 224.8 379.1 224.5 380.1 221.5 382.6 220 385.1 218.4 388.3 218.8 389.5 216.5 390.8 215.2 392.7 214.6 394.6 212.3 394.6 210 394.3 208.1 393 206.9 392.2 204.1 391.7 201.4M388.3 216.5 388.1 214.4 390.1 213.8 387.6 212.3 389.5 211.4 391.4 210.7 388.9 209.2 390.8 209.1 392 207.6 387.6 208.4M391.7 201.4 389.5 201 388.9 199 389.5 196.6 389.2 194.2 389.5 192.3 387.6 191.1 385.7 190.3 384.8 188.6 384.5 186.2 384.8 185 383.2 183.8 382 183 380.1 182.2M389.5 192.3 388.3 190.3 388.9 187.8 387.9 185.4 388.6 183 389.5 181.8 390.8 180.1 391.7 179.7 392.7 178.8M385.1 189.5 387 188.6 387.6 191.1M388.9 195.8 386.9 195.9 385.7 194.2 387.6 196.6M391.7 179.7 390.1 182.2 390.8 185 389.5 187 389.4 189.3 391.4 190.3 392 192.7 391.7 195.8 391.4 199.4 392 199.4 393.3 197.8 393.9 195.8 394.6 194.4 395.5 193.1 396.4 191.1 397.4 189 397.1 186.2 396.3 184.5 395.2 183 394.2 180.1 394.2 178.1M392.7 178.8 392.7 189 397.4 189M393.6 193.1 396.2 192.4M394.2 178.1 396.4 177.3 397.7 176 399.3 174.8 397.7 172.7 396.4 170.3 397.4 168.2 398.3 166.5 399.6 165.3M392.7 178.8 394.6 177.8 395.1 178.1M395.4 159.8 397.1 161.5 398.3 164 399.6 165.3M399.6 165.3 401 166.7 402.9 167.3 404.6 168.3M404.6 168.3 404 170.3 402.4 172.3 404 173.2 403.7 176.5 403.4 178.5 402.1 180.5 400.2 182.6 398.3 185 398 183 395.8 181.8 394.2 179.7M404 171.5 407.1 171.5 410.3 170.7 413.4 169.8 415.4 169.8 416.6 168.2 414.1 168.6 411.5 168.6 408.4 169 405.9 169.4 404.6 169.8M367.7 157.5 370 156 372.5 154.2 373.2 152.1 372.2 150.4 372.2 148.9 375.7 148 378.8 148 381.3 149.1 385.1 148.8 387.6 147.8 390.1 146.5 390.1 143.4 389.2 141.7 390.3 140.2 392 139.5 393.4 137.7 395.2 136.4 397 135.9 397.7 134.2 399.6 133.7 408.1 133.7M408.1 133.7 419.7 133.6 421.1 132.4 422.4 131.1M408.1 133.7 408.1 138.2 407.8 142.6 408.9 144.4 408.7 146.5 408.7 151.2 408.6 153.4M408.6 153.4 407.4 155.2 406.6 157.1 407.1 159.4 407.1 165.7 406.2 168.2M413.1 153.6 413.7 151.2 414.1 146.9 415.3 144.3 415.6 142 416.6 139.9 417.1 137.9 419.1 137.3 419.7 133.6M408.6 153.4 413.7 153.6 421 153.8 422.9 153 424.1 152.4M424.8 150.5 423.8 148.8 423.1 146.9 422.9 142.6 422.6 135.5 422.4 131.1M422.4 131.1 424.1 129.7 425 128.1 426 126.6 426.4 124.7 427.3 122.9 428.9 120.9 428.5 118.4 429.2 113.8M407.1 159.4 417.8 159.6 420.5 159.6 420.5 164M417.8 159.6 417.5 165.5M406.2 168.2 408.4 167.2 410.3 166.5 412.8 165.9 415.3 165.7 417.5 165.5 419.7 165.1 421 164 422.2 164 423.5 163.6 425.4 163.6 427.9 162.7 429.2 161.9 429.2 159.4 427.9 159.4 426 161 425.1 159.8 424.8 157.7 423.5 156 424.1 153.8 424.1 152.4 424.8 150.5 425.1 148.7 426.6 147.8 427.9 145.6 429.2 144.3M429.2 144.3 429.2 113.8M318.8 161.8 320.3 162.7 322.2 162.5 323.7 161.5 325.3 158.9 326.6 156.4 327.2 153 326.9 149.5 327.2 147.5 325.6 146.1 325.9 142.6 325.7 140.5 327.2 139.1 327.1 137.1 328.2 135.5 329.9 134.3 331 132.4 331.6 135.5 332.6 133.7 334.1 132.6 334.1 130.6 335.2 129 335.1 127 337.3 126.6 339.8 128.2 342.3 129.7 343.4 131 344.8 132 345.5 135.5 345.1 139.5 344.3 141 343.6 142.6 342.5 144 341.7 145.6 343.2 144.9 344.2 143.4 345.7 142.7 347.3 142.1 349.2 143 349.7 145 350.5 146.9 350.8 151.2 350.5 154.7 348.6 156.4 346.7 158.1 346.1 160.2 344.5 162.1M300.6 119.6 303.3 119.1 305.1 118.7 306.4 117.5 309.6 116.5 311.2 115.8 312.7 115.2 314.6 112.8 316.5 111.4 315.2 112.5 314.5 114 314 115.6 315.9 116.5 315.8 118.7 317.8 119.1 319 120.2 322.2 120.7 325.3 120.2 326.8 119.2 328.5 118.8 331.6 118.4 334.8 117.9 336.6 120.2 338.5 120.2 340.4 121.1 341.1 123.9 339.6 124.7 337.9 124.9 334.8 124.3 331.6 124.8 329.1 125.2 326.6 126.1 324.7 127.9 322.8 126.6 320.3 128.4 319.7 129.9 318.4 131.1 318.4 132.8M317.1 155.5 316.8 151.2 316.5 147.8 316.9 146 317.8 144.3 318.4 140.8 319 137.3 320.5 135.7 321.5 133.7 322.2 131.5 319.6 132.4 319 135.1 317.1 136.8 315.9 137.7 314.7 135.5 317.1 134.6 318.4 132.8M317.1 155.5 318.4 157 318.1 158.9 318.4 161 318.8 161.8M344.5 162.1 346.7 163.2 349.2 164.4 351.8 164.8 354.3 164 355.9 163.5 357.4 162.7 359.9 161 361.5 160.8 363 159.9 365.6 158.9 367.7 157.5" fill="none" stroke="#000" stroke-width="2.9" stroke-linejoin="round"/><path d="M258.3 282.4 257.7 279.9 257 276.4 256.7 272.8 258 270 259.1 268.7 259.9 267.2 260.9 265.8 262.4 265 264.2 264.7 265.5 263.6 267.2 262.9 268.7 261.8 270 260.2 271.8 259.3 273.4 258.2 272.1 256.4 273.7 255.3 276.2 256.4 279.1 255.7M279.1 255.7 281.9 255.2 283.6 257.5 286.3 256.4 288.8 256.7 291.3 255.7 293.9 257.1 295.7 258.9 298.3 260 300.8 259.6 302.7 258.9 304.6 258.2 307.1 260 308.6 260.7 307.7 258.6 306.4 257.1 305.2 255.7 306.8 253.8 305.2 252.9 305.8 252.2M305.8 252.2 307.8 251.7 309.6 250.7 313.4 250.7 315.3 249.1 315.9 251.3 318.4 251.5 320.2 250.6 322.2 250.6 325.3 250.6 328.5 251.3 331 252.8 331.8 254.2 332.6 255.7 335.4 255.3 336.9 254.4 338.5 253.8 341.1 252.8 342.9 254.2 343.9 255.6 344.8 257.1 346.7 259.3 348.6 261.4 348.9 265 348.6 267.9 349.9 270 349.6 272.1 352.1 272.6 351.1 275 352.4 277.1 354.3 279.2 354.9 282 356.8 283.4 358.7 285.5 359.6 287.6 362.5 287.6 363.7 286.9 364.3 284.8 365.3 282 365.9 278.5 365.9 275.7 365 272.8 364 271.2 363.7 269.3 363.8 267.3 362.5 265.7 362.1 263.6 360.6 262.6 360.6 260.7 359.7 258.9 359 257.1 359.2 255.1 358 253.5 357.4 250.6 357.1 248.4M357.1 248.4 357.7 245.4 358.7 242.5 359.3 239.5 360.6 238.4 362.5 236.6 363.7 235.1 366.2 233.6 367.9 232.9 368.7 231.3 370.8 231 371.3 229.1 371.2 227 373.2 226.4 375.4 224.8 379.1 224.5 380.1 221.5 382.6 220 385.1 218.4 388.3 218.8 389.5 216.5 391 215.3 392.7 214.6 394.6 212.3 394.6 210 393.5 208.5 393 206.9 392.2 204.1 391.7 201.4M388.3 216.5 389.6 215.5 390.1 213.8 387.6 212.3 389.8 212.3 391.4 210.7 388.9 209.2 389.6 206.6 392 207.6 387.6 208.4M391.7 201.4 389.5 201 388.9 199 389.5 196.6 389.2 194.2 389.5 192.3 387.6 191.1 385.7 190.3 384.8 188.6 384.5 186.2 384.8 185 383.2 183.8 382 183 380.1 182.2M389.5 192.3 388.3 190.3 388.9 187.8 387.9 185.4 388.6 183 389.5 181.8 390.8 180.1 391.7 179.7 392.7 178.8M385.1 189.5 387 188.6 387.6 191.1M388.9 195.8 387.7 194.3 385.7 194.2 387.6 196.6M391.7 179.7 390.1 182.2 390.8 185 389.5 187 391.4 188.1 391.4 190.3 392 192.7 391.7 195.8 391.4 199.4 392 199.4 393.4 197.9 393.9 195.8 393.7 193.9 395.5 193.1 396.4 191.1 397.4 189 397.1 186.2 396.2 184.5 395.2 183 394.2 180.1 394.2 178.1M392.7 178.8 392.7 189 397.4 189M393.6 193.1 396.2 192.4M404.6 168.3 404 170.3 402.4 172.3 404 173.2 403.7 176.5 403.4 178.5 402.1 180.5 400.2 182.6 398.3 185 398 183 395.8 181.8 394.2 179.7M404 171.5 407.1 171.5 410.3 170.7 413.4 169.8 415.4 169.8 416.6 168.2 414.1 168.6 411.5 168.6 408.4 169 405.9 169.4 404.6 169.8M406.2 168.2 408.4 167.2 410.3 166.5 412.8 165.9 415.3 165.7 417.5 165.5 419.7 165.1 421 164 422.2 164 423.5 163.6 425.4 163.6 427.9 162.7 429.2 161.9 429.2 159.4 427.9 159.4 426 161 425.1 159.8 424.8 157.7 423.5 156 424.1 153.8 424.1 152.4 424.8 150.5 425.6 149.1 426.6 147.8 427.9 145.6 429.2 144.3" fill="none" stroke="#000" stroke-width="3.6" stroke-linejoin="round"/><polygon points="396.2,166.5 401,168.4 403,173.3 400.5,181 398,188.8 395.5,196.6 393.5,204.4 395.5,212.5 391,216.5 386.5,212 387,205 383,198 386,193 384,187 386,182 390,179.5 395,177.5 397,172.3"/><polygon points="403,168 410,165 418,162 428,158.5 430,160.5 422,165 414,169 406,172.5 402,172"/><polygon points="299,252 304,249.5 309,251 311,256 311,263 306,262 302,258 298,256"/></g></g><g transform="translate(420.8,389.6)"><text x="163.3" y="112.9" text-anchor="end" class="lb" textLength="16.7" lengthAdjust="spacingAndGlyphs">48</text><circle cx="168" cy="99.5" r="1.2" class="dg"/><text x="175.7" y="112.9" class="lb" textLength="9.2" lengthAdjust="spacingAndGlyphs">N</text><text x="163.3" y="130.8" text-anchor="end" class="lb" textLength="16.7" lengthAdjust="spacingAndGlyphs">46</text><circle cx="168" cy="117.5" r="1.2" class="dg"/><text x="175.7" y="130.8" class="lb" textLength="9.2" lengthAdjust="spacingAndGlyphs">N</text><text x="163.3" y="147.8" text-anchor="end" class="lb" textLength="16.7" lengthAdjust="spacingAndGlyphs">44</text><circle cx="168" cy="134.4" r="1.2" class="dg"/><text x="175.7" y="147.8" class="lb" textLength="9.2" lengthAdjust="spacingAndGlyphs">N</text><text x="163.3" y="166.7" text-anchor="end" class="lb" textLength="16.7" lengthAdjust="spacingAndGlyphs">42</text><circle cx="168" cy="153.3" r="1.2" class="dg"/><text x="175.7" y="166.7" class="lb" textLength="9.2" lengthAdjust="spacingAndGlyphs">N</text><text x="163.3" y="182.9" text-anchor="end" class="lb" textLength="16.7" lengthAdjust="spacingAndGlyphs">40</text><circle cx="168" cy="169.5" r="1.2" class="dg"/><text x="175.7" y="182.9" class="lb" textLength="9.2" lengthAdjust="spacingAndGlyphs">N</text><text x="163.3" y="197.9" text-anchor="end" class="lb" textLength="16.7" lengthAdjust="spacingAndGlyphs">38</text><circle cx="168" cy="184.5" r="1.2" class="dg"/><text x="175.7" y="197.9" class="lb" textLength="9.2" lengthAdjust="spacingAndGlyphs">N</text><text x="163.3" y="214.9" text-anchor="end" class="lb" textLength="16.7" lengthAdjust="spacingAndGlyphs">36</text><circle cx="168" cy="201.5" r="1.2" class="dg"/><text x="175.7" y="214.9" class="lb" textLength="9.2" lengthAdjust="spacingAndGlyphs">N</text><text x="163.3" y="228.9" text-anchor="end" class="lb" textLength="16.7" lengthAdjust="spacingAndGlyphs">34</text><circle cx="168" cy="215.5" r="1.2" class="dg"/><text x="175.7" y="228.9" class="lb" textLength="9.2" lengthAdjust="spacingAndGlyphs">N</text><text x="163.3" y="245.8" text-anchor="end" class="lb" textLength="16.7" lengthAdjust="spacingAndGlyphs">32</text><circle cx="168" cy="232.4" r="1.2" class="dg"/><text x="175.7" y="245.8" class="lb" textLength="9.2" lengthAdjust="spacingAndGlyphs">N</text><text x="163.3" y="259.9" text-anchor="end" class="lb" textLength="16.7" lengthAdjust="spacingAndGlyphs">30</text><circle cx="168" cy="246.5" r="1.2" class="dg"/><text x="175.7" y="259.9" class="lb" textLength="9.2" lengthAdjust="spacingAndGlyphs">N</text><text x="163.3" y="273.1" text-anchor="end" class="lb" textLength="16.7" lengthAdjust="spacingAndGlyphs">28</text><circle cx="168" cy="259.7" r="1.2" class="dg"/><text x="175.7" y="273.1" class="lb" textLength="9.2" lengthAdjust="spacingAndGlyphs">N</text><text x="163.3" y="287.8" text-anchor="end" class="lb" textLength="16.7" lengthAdjust="spacingAndGlyphs">26</text><circle cx="168" cy="274.4" r="1.2" class="dg"/><text x="175.7" y="287.8" class="lb" textLength="9.2" lengthAdjust="spacingAndGlyphs">N</text><text x="163.3" y="301.9" text-anchor="end" class="lb" textLength="16.7" lengthAdjust="spacingAndGlyphs">24</text><circle cx="168" cy="288.5" r="1.2" class="dg"/><text x="175.7" y="301.9" class="lb" textLength="9.2" lengthAdjust="spacingAndGlyphs">N</text><text x="163.3" y="315.4" text-anchor="end" class="lb" textLength="16.7" lengthAdjust="spacingAndGlyphs">22</text><circle cx="168" cy="302" r="1.2" class="dg"/><text x="175.7" y="315.4" class="lb" textLength="9.2" lengthAdjust="spacingAndGlyphs">N</text></g><g transform="translate(420.8,390)"><text x="216" y="77" class="lb lo" textLength="24.4" lengthAdjust="spacingAndGlyphs">100</text><circle cx="244.8" cy="64.4" r="1.2" class="dg"/><text x="252.8" y="77" class="lb lo" textLength="12.8" lengthAdjust="spacingAndGlyphs">W</text><text x="284.8" y="77" class="lb lo" textLength="15.6" lengthAdjust="spacingAndGlyphs">90</text><circle cx="304.8" cy="64.4" r="1.2" class="dg"/><text x="314" y="77" class="lb lo" textLength="12.4" lengthAdjust="spacingAndGlyphs">W</text><text x="348.8" y="77" class="lb lo" textLength="16.8" lengthAdjust="spacingAndGlyphs">80</text><circle cx="370" cy="64.4" r="1.2" class="dg"/><text x="377.6" y="77" class="lb lo" textLength="13.2" lengthAdjust="spacingAndGlyphs">W</text><text x="412" y="77" class="lb lo" textLength="15.2" lengthAdjust="spacingAndGlyphs">70</text><circle cx="431.6" cy="64.4" r="1.2" class="dg"/><text x="440.4" y="77" class="lb lo" textLength="13.2" lengthAdjust="spacingAndGlyphs">W</text></g><g transform="translate(421,390)"><rect x="441.5" y="95.5" width="23" height="215" fill="url(#jetg)" stroke="#1a1a1a" stroke-width="0.9"/><text x="474.2" y="104.4" class="cb" textLength="11.8" lengthAdjust="spacingAndGlyphs">2</text><line x1="461.5" x2="464.8" y1="96.4" y2="96.4" stroke="#262626" stroke-width="0.8"/><text x="474.2" y="157.1" class="cb" textLength="11.8" lengthAdjust="spacingAndGlyphs">1</text><line x1="461.5" x2="464.8" y1="149.1" y2="149.1" stroke="#262626" stroke-width="0.8"/><text x="474.2" y="210.4" class="cb" textLength="11.8" lengthAdjust="spacingAndGlyphs">0</text><line x1="461.5" x2="464.8" y1="202.4" y2="202.4" stroke="#262626" stroke-width="0.8"/><text x="474.2" y="263.9" class="cb" textLength="21.3" lengthAdjust="spacingAndGlyphs">-1</text><line x1="461.5" x2="464.8" y1="255.9" y2="255.9" stroke="#262626" stroke-width="0.8"/><text x="474.2" y="316.6" class="cb" textLength="21.3" lengthAdjust="spacingAndGlyphs">-2</text><line x1="461.5" x2="464.8" y1="308.6" y2="308.6" stroke="#262626" stroke-width="0.8"/></g><text x="555.2" y="731.1" class="tt" textLength="347.6" lengthAdjust="spacingAndGlyphs">SAT-RAP 700 hPa Temp (K)</text><g transform="translate(841.6,388.5)"><rect x="196.3" y="96.8" width="232.9" height="212.8" fill="#fff" stroke="#000" stroke-width="1.1"/><g fill="none" stroke-width="7.4" stroke-linecap="round"><path stroke="#00b2ff" d="M412.3 177.1h0M424 200.7h0"/><path stroke="#ff0d00" d="M393.8 117.1h0M337.5 132.7h0M303.3 139.5h0M317.1 146.2h0M326.4 147h0M356.2 153.9h0M356.1 159.5h0M313.1 161.7h0M396.4 162.5h0M305.9 172.5h0M333.2 199.1h0M350.9 204.4h0M322 208.7h0M427.2 226.2h0M328.3 243.1h0M348.8 246.2h0"/><path stroke="#66ff99" d="M406 131.7h0"/><path stroke="#ffe500" d="M344 178.1h0M375.8 211.4h0M362.7 272h0M391 279.6h0"/><path stroke="#ffbf00" d="M405.7 138.4h0M375.3 184.3h0M377.5 203.1h0M360.5 302.5h0M429.2 303.5h0M421.6 306.1h0"/><path stroke="#800000" d="M386.1 125h0M374.9 131.3h0M377.9 130.7h0M306.7 139.1h0M317 140.5h0M313.8 214.5h0M326.1 231.5h0M328.3 233.5h0"/><path stroke="#0000b2" d="M390.5 239.1h0M344.1 261.5h0M343.9 280.8h0M348.8 299.2h0"/><path stroke="#00e5ff" d="M303.8 157.9h0M401.2 173.3h0M415.5 214.5h0M416.7 227.6h0"/><path stroke="#cc0000" d="M353.2 116.3h0M355.9 116.9h0M337 125.3h0M349.2 125.2h0M356.5 125.3h0M388.8 123.3h0M328 132.7h0M367.6 132.4h0M362.3 139.3h0M324.8 144.1h0M336.6 241.2h0M336.9 245.6h0"/><path stroke="#ff1a00" d="M398.4 107.9h0M400.5 132.7h0M328.4 150.5h0M329.3 162.1h0M348 212.8h0M318.4 220.2h0M336.7 224h0M345.5 221.9h0M352.5 223.7h0M424.8 223.9h0M347.6 231.1h0M351.4 230.5h0M359.3 234.5h0M326.2 238.3h0M356.9 238.1h0M351.7 240.9h0M356.6 246.3h0"/><path stroke="#ffb300" d="M412.1 117.4h0M406.1 154.6h0M328.3 164.8h0M339.9 167.1h0M333.3 176.4h0M345.2 189h0M382.4 208.5h0M356.6 225.8h0"/><path stroke="#0000d9" d="M394.2 231.4h0M366.6 245.4h0M381.7 245.9h0M348.6 294.7h0M344.5 300.1h0M386.2 301.7h0M391 302.9h0M404.7 303.9h0M379.7 307.6h0"/><path stroke="#59ffa6" d="M423 132.6h0M420.5 142.7h0M424.7 260.5h0M400.3 265.2h0M402 276h0"/><path stroke="#40ffbf" d="M387 264.1h0"/><path stroke="#0026ff" d="M416.4 193.2h0M402.5 212.5h0M402.1 214.6h0M401 224h0M381.7 279.8h0M385.7 283.9h0"/><path stroke="#0040ff" d="M347.3 268.1h0"/><path stroke="#d9ff26" d="M411.6 124.1h0M420.3 151.3h0M416.5 253.8h0M397 263.6h0M406.3 269.7h0"/><path stroke="#ff3300" d="M405.8 113.3h0M348.8 135.5h0M345.4 165.2h0M305.6 169.6h0M310.3 196.9h0M340 210.7h0M322.1 214.8h0M344.3 229.8h0M423.3 299.1h0"/><path stroke="#0000ff" d="M405.7 210.7h0M397.4 222.8h0M381.9 230.8h0M393.2 235.3h0"/><path stroke="#ffcc00" d="M339.9 168.8h0M320.6 177.1h0M366.4 177.3h0M372.1 177.7h0M314.6 181.6h0M321.2 180.3h0M307.4 195.7h0M356.2 195.2h0M379.3 199.8h0M354.9 212.6h0M423.8 218.8h0M375.9 229.8h0"/><path stroke="#0000f2" d="M396.6 225.7h0M409.8 227.4h0M385.2 233.3h0M370.3 254.4h0M390.5 254.4h0M341.7 258.1h0M367.7 268.4h0M350.9 280.2h0M371.8 283.7h0"/><path stroke="#0000e6" d="M396.4 233.2h0M371.3 242.9h0M373.9 242.7h0M382.7 253.7h0M378.1 282.7h0"/><path stroke="#ff4c00" d="M392.8 127.2h0M286.3 140h0M358.6 140h0M402.3 146.8h0M350.8 162.1h0M307.6 165.2h0M324.3 177.4h0M390 176.5h0M349.2 183.8h0M370.2 192.1h0M317.9 199.9h0M355.7 200.4h0M324.7 211.3h0M329.2 214.8h0M363.2 215.3h0M366.6 224h0M341.8 246.4h0"/><path stroke="#0099ff" d="M415.6 176.8h0M402.5 188.6h0M429.1 189h0M419.5 207.3h0M378.1 231.5h0"/><path stroke="#73ff8c" d="M420.2 131.1h0M404.9 256.1h0M404.8 275.6h0"/><path stroke="#bfff40" d="M381.8 196.2h0M425 231.4h0M329 252.9h0M402.4 267.6h0M416.1 271.8h0M366.8 287.3h0M363.6 306h0"/><path stroke="#ff2600" d="M395 108.4h0M351.6 127.9h0M356.7 139.1h0M330.3 147.9h0M362.5 147.5h0M381.8 159h0M379 163.1h0M389.4 166.5h0M374.3 187.7h0M344.4 197.4h0M330 207.5h0M362.6 221.8h0M424 226.6h0M341.1 234.3h0M356 278.9h0"/><path stroke="#00f2ff" d="M427.5 121.4h0M398.5 191.5h0M390 258.3h0"/><path stroke="#fff200" d="M412.8 143.6h0M314 173.1h0M426.9 178.2h0M382.5 203.1h0M375.8 216.2h0M420.6 222.5h0"/><path stroke="#bf0000" d="M387.2 109.3h0M388.9 113.6h0M345.5 119.4h0M359.3 121.2h0M332.7 123.4h0M351.4 125h0M362.4 125.3h0M363.5 128.9h0M298.8 132.4h0M326.1 134.4h0M370.5 140.2h0M400.5 138.7h0M396.5 146.3h0M299.1 169.5h0M318.2 215.3h0"/><path stroke="#00a6ff" d="M423.1 109.8h0M401.5 196.3h0M402.4 204.9h0"/><path stroke="#00ffff" d="M428.3 127.4h0M428.1 204.9h0M393.8 257.4h0"/><path stroke="#0000bf" d="M334.1 261.1h0M334 265.4h0M345.3 267.7h0M337.6 279.5h0M394.6 294.8h0M344.3 303.9h0M377.5 303.8h0"/><path stroke="#ff8000" d="M397.1 113.6h0M404.4 136.1h0M290.8 144.1h0M294.1 148h0M340.1 155h0M340.8 162.1h0M354.7 165.5h0M360.3 166.7h0M388.9 170.8h0M429.1 182.1h0M337.4 197.2h0M351.8 199.8h0M358.6 222.6h0M370.1 225.9h0M427 237.8h0"/><path stroke="#ffff00" d="M373.9 208.5h0M378.9 214.6h0M359.2 299.6h0"/><path stroke="#a60000" d="M383.4 105.3h0M360 115.8h0M364.2 115.5h0M387.4 116.4h0M325.1 125.1h0M329.5 128h0M332 127.9h0M391.2 132.6h0M355.5 135h0M331.8 139.8h0M334 144.3h0M401.7 142.8h0M370.6 146.2h0M302 166.8h0M309.1 165.2h0M303 181.7h0M347 223.4h0"/><path stroke="#b30000" d="M383.1 108.8h0M347.1 116.7h0M363.3 132.3h0M386.1 135.8h0M363.8 142h0M371.7 143.8h0M378.4 143.3h0M366.1 146h0M337.4 226h0"/><path stroke="#ff7300" d="M397 143.7h0M326.5 154.6h0M294.8 166.1h0M351.2 166h0M396.8 173h0M356 177.9h0M325.4 185.5h0M367.8 186.2h0M381.3 185.3h0M362.3 193.2h0M353.1 276h0"/><path stroke="#008cff" d="M428.4 117.3h0M425 169.6h0M404 237.3h0M416.6 287.1h0M423.9 286.9h0"/><path stroke="#b3ff4c" d="M416.7 146h0M428.6 172.4h0M394.4 260.3h0"/><path stroke="#ffd900" d="M340.9 185.1h0M359.5 206.9h0M425 237.7h0M354.7 261.2h0"/><path stroke="#e50000" d="M310.1 132.9h0M348.7 131h0M311.1 135.5h0M351.3 136.5h0M408.2 147.9h0M352 153.7h0M362.6 173.3h0M386.4 174.1h0M325.2 220h0"/><path stroke="#99ff66" d="M415.4 136.5h0M428.7 162.1h0M382.1 218.3h0M405.4 280.1h0"/><path stroke="#0080ff" d="M420.2 112.4h0M401.2 177.8h0M402.3 181.6h0M409.6 187.7h0M389.1 204.5h0M393.6 203h0M415.8 222.2h0M428.9 276.7h0"/><path stroke="#0000cc" d="M383.4 222h0M374.6 239.4h0M389.5 246.6h0M341.3 268.3h0M348.9 288.5h0M412.1 292.5h0M341.3 294.4h0M348.1 307.5h0"/><path stroke="#00ccff" d="M413.5 97.4h0M408.7 180.6h0M428 192.4h0M406.2 204.7h0M423 204.8h0"/><path stroke="#0059ff" d="M408.2 192.4h0M412.2 202.8h0M409.6 234.2h0M363.7 253.9h0M362.6 256.8h0M386.3 256.3h0"/><path stroke="#a6ff59" d="M302.9 155.1h0M428.2 170.2h0M386.9 272.1h0M386.2 276.7h0M394.2 277.2h0M366.8 302.4h0"/><path stroke="#0019ff" d="M405.3 177.4h0M392.7 241.5h0M374 273.3h0M374.6 280.9h0M412.7 295.3h0M393.9 301.7h0"/><path stroke="#d90000" d="M394.9 104.6h0M322.1 136h0M393.7 138.6h0M313.6 142.2h0M393 147.6h0M340.5 150.2h0M324.8 157.5h0M325.8 200.1h0M325.7 215.7h0"/><path stroke="#ffa600" d="M324.5 166.8h0M348.8 166.6h0M329.5 170.3h0M332.7 184.4h0M389.8 188.3h0M359.9 257.8h0M352.6 273.6h0"/><path stroke="#f2ff0d" d="M352.2 177.6h0M396.7 181.4h0M347.8 188.7h0M383.2 210.8h0M414 268.2h0"/><path stroke="#00d9ff" d="M420.8 98.3h0M424 96.9h0M393.1 195.5h0M405.3 215.7h0M381.4 275.4h0M424.7 275.1h0"/><path stroke="#1affe5" d="M415.6 138.6h0M424.9 139.6h0M386 208.7h0M348.5 264.3h0"/><path stroke="#004dff" d="M417.2 189.8h0M389 218.3h0M393.1 306.3h0M413.9 306.6h0"/><path stroke="#000099" d="M336.7 275.8h0M340.4 277.3h0M345.3 276.4h0M385.9 291.5h0"/><path stroke="#0dfff2" d="M425 125.3h0M401.2 169.7h0M425.3 245.3h0M420.6 248.7h0"/><path stroke="#ff8c00" d="M393.4 154.4h0M386 161.2h0M320.9 174.5h0M348.2 182.3h0M345.2 192.8h0M347.8 203.9h0M358.6 203h0M363.5 204.4h0M363.1 234.5h0"/><path stroke="#990000" d="M370.1 113.6h0M373.8 113h0M408.4 117h0M366.6 128.5h0M385.2 128.8h0M390.3 127.1h0M333.5 148h0M344.3 147.3h0M321.9 229.8h0"/><path stroke="#8cff73" d="M423.3 162.9h0M412.3 249.3h0M420.6 261.7h0"/><path stroke="#0073ff" d="M344.4 258h0M382.1 257.5h0M402.6 290.2h0M417.2 290.3h0"/><path stroke="#000080" d="M379.1 235.4h0M386 250.8h0M398.7 307.1h0"/><path stroke="#ff0000" d="M398.2 121.6h0M401.3 120.5h0M401 128h0M294.6 143h0M335.8 142.8h0M350.9 159.6h0M359.6 158.8h0M356.9 161.1h0M364.1 161.7h0M366.8 165.1h0M378.2 164.9h0M371.2 185h0"/><path stroke="#ff9900" d="M408.9 125.4h0M355 144.1h0M347.7 168.8h0M328.9 174.3h0M339.9 182.2h0M344 180.6h0M360.3 184.5h0M348.4 192.5h0M352.3 193.4h0"/><path stroke="#0066ff" d="M409.5 207h0M401.4 296.4h0M355.2 298.4h0M409.4 301.9h0"/><path stroke="#0000a6" d="M340.5 260.8h0M348.7 280.8h0M341.3 292.6h0M374.6 294.1h0"/><path stroke="#e5ff1a" d="M416.1 150.1h0M417.6 162.7h0M390.9 272.6h0"/><path stroke="#4dffb2" d="M420.6 266h0M401.2 283.6h0"/><path stroke="#8c0000" d="M389.2 104.2h0M313.9 135.5h0"/><path stroke="#ff6600" d="M409 143.6h0M293.9 157.3h0M314.5 168.7h0M375.1 180.7h0M351.3 189.3h0M362.4 188.1h0M359.8 226.7h0"/><path stroke="#ff4000" d="M397.3 101h0M309.2 143.5h0M382.2 155.7h0M362.4 180.5h0M367.2 188.6h0M314.6 193.8h0M339.7 191.6h0M328.3 220h0M329.8 222.8h0M347.4 225.6h0M356.4 264.4h0M358.5 264h0"/><path stroke="#0033ff" d="M397.4 219.7h0M394.6 222.6h0M412.3 222.7h0M400.4 288.6h0M370.4 292.1h0M405 305.8h0"/><path stroke="#33ffcc" d="M397 197.2h0M347.3 260.5h0M367.4 294.5h0M355.5 301.7h0"/><path stroke="#ff5900" d="M398.4 131.8h0M387.1 150.1h0M330.4 155.8h0M332.7 165h0M348.4 176.2h0M333.6 188.6h0M311 193.1h0M321.4 196.7h0M341 195.3h0M339.5 220.2h0M363.4 218.8h0M332.2 235.2h0"/><path stroke="#ccff33" d="M382.9 215.1h0M379 218.3h0M360 253.4h0M400.7 258.2h0M393.8 283.7h0"/><path stroke="#000dff" d="M394 212.6h0M377.9 224.2h0M393 239.2h0M401.2 298.9h0"/><path stroke="#80ff80" d="M414 135.4h0M428.8 158.1h0M405.2 248.4h0M341.6 253.5h0M401.8 254.1h0M390.8 268.8h0"/><path stroke="#f20000" d="M405.8 120.7h0M408.3 120.9h0M351.5 142.9h0M381.7 146.9h0M364.3 151.4h0M343.6 155.3h0M348.7 158.4h0M356.1 189.8h0M309.4 200.6h0M333.7 211.2h0M332.9 215.2h0M344.6 241.1h0"/><path stroke="#ff4c00" d="M318 131.2h0M369.8 169.9h0M334.1 208.8h0M355.5 216.5h0M370.7 233.4h0M340.3 238.5h0M360 273.1h0"/><path stroke="#0000bf" d="M390.6 211h0M332.8 258.2h0M347.2 283.9h0M345.4 294.7h0M354.8 296.2h0M382 303.6h0M401.7 302.8h0"/><path stroke="#1affe5" d="M409.2 101.8h0M419.9 120.8h0M423.9 128.7h0"/><path stroke="#00f2ff" d="M420.7 181.4h0M417.8 210.7h0M386.2 218.1h0M424.5 279.8h0"/><path stroke="#0080ff" d="M415.4 109.2h0M406.1 193.6h0M402.2 237.5h0"/><path stroke="#0019ff" d="M416.8 102.4h0M307.4 154.2h0M404.9 207.4h0M394.6 214.4h0"/><path stroke="#0000e6" d="M381.9 239.2h0M385.2 238.2h0M386.7 242.7h0M375.2 249.1h0M337 257.6h0M370.6 280.9h0M404.6 286.6h0M352.4 290.6h0M398 302.3h0"/><path stroke="#0059ff" d="M411.9 193.6h0M407.8 291.7h0"/><path stroke="#26ffd9" d="M423.4 146.6h0"/><path stroke="#ff8c00" d="M398.5 105.8h0M345.4 140h0M298.2 158.5h0M320.6 165.3h0M368.3 193h0M373.6 193.4h0M329.6 196h0M371.4 203.8h0M428.3 214.2h0M344.3 220h0M366.1 226.6h0M428.6 235h0M351.8 249.1h0M364 280.3h0M363.9 284.4h0"/><path stroke="#0000cc" d="M351.7 287.7h0M374.9 286.8h0M343.3 291.8h0M407.9 300h0"/><path stroke="#80ff80" d="M427.3 101.8h0M401.4 242.4h0M427 257h0"/><path stroke="#ff7300" d="M355.3 131.6h0M375.8 151.1h0M337 170.4h0M389.8 184.5h0M383.1 188.9h0M371 214.7h0M337.7 218.8h0M368.2 219.2h0M330.1 249.2h0"/><path stroke="#b3ff4c" d="M415.5 155.4h0M393.1 265.1h0"/><path stroke="#33ffcc" d="M392.9 189.1h0M421.3 256.9h0M382 267.6h0M420.4 279h0M419.6 282.9h0"/><path stroke="#fff200" d="M381.2 193.5h0M363 200.7h0M408.4 257.4h0"/><path stroke="#990000" d="M360.1 111.9h0M370.8 115.6h0M356.6 120.2h0M379 124.7h0M325.9 127.3h0M313.3 132.3h0M371.2 136.1h0M329.3 230.7h0M352.3 235.5h0M356.7 233.9h0"/><path stroke="#b30000" d="M375.6 109h0M347.4 119.5h0M341.7 124h0M340.3 138.5h0M381.4 138.7h0M287.9 142.5h0M390.8 143h0M322.2 146.2h0M294.5 151.2h0M332.7 154.1h0M375.2 153.9h0M302 176.4h0M313.8 208.7h0M317.8 222h0"/><path stroke="#ffff00" d="M311.2 146.1h0M306.6 159.4h0M408.8 157.8h0M332.9 170.2h0M341.7 176.7h0M310.4 188.6h0M360 200.5h0M387.4 261.3h0"/><path stroke="#0000a6" d="M332.6 267.4h0M378.1 276.5h0M391.1 305.4h0"/><path stroke="#0000b2" d="M409.7 230.9h0M340.2 273.1h0M345.4 271.5h0M347.7 275.7h0M386.8 296h0M402.4 306.3h0"/><path stroke="#a6ff59" d="M411.9 129.1h0M427.9 140.1h0M400.6 246.5h0M408.9 248.7h0M411.8 273.2h0M390.9 283.7h0"/><path stroke="#a60000" d="M391 115.5h0M336.3 120.7h0M387.4 119.3h0M393.3 121.2h0M383.5 135h0M299 174.6h0M322.4 226.4h0M360.4 243.2h0"/><path stroke="#ffbf00" d="M343.3 174.2h0M314.7 177.1h0M394.3 184.4h0M374.5 199.4h0M355.8 208.1h0M352.6 210.5h0M352 215.2h0M362.8 245.1h0M383.6 261.6h0M355.8 307.6h0"/><path stroke="#d90000" d="M389.8 102h0M341.3 119.7h0M390.3 120h0M328.3 158.1h0M368 158.8h0M302.1 169.9h0M368.3 170.6h0M356.6 172.9h0M332.3 230.5h0"/><path stroke="#40ffbf" d="M427.3 166.2h0M368.4 298.4h0"/><path stroke="#ff1a00" d="M401.1 123.4h0M405.2 129h0M302.4 143.9h0M378.4 153.4h0M375.9 162.2h0M390.8 162.9h0M362.2 177.4h0M314.2 195.7h0M341.7 204.2h0M343.3 204.8h0M336.1 211.4h0M336.4 233.8h0M359.1 291.4h0"/><path stroke="#0000ff" d="M409.2 216.6h0M389.2 222.9h0M366.3 250.2h0M387.3 254.1h0M378.1 257.5h0M367.1 262.1h0M366.6 264.4h0M374.4 265h0"/><path stroke="#004dff" d="M405 189.7h0M416.5 229.6h0M404.1 234.4h0M394.6 291.9h0M419.9 290.3h0"/><path stroke="#73ff8c" d="M428.9 131.9h0M310.4 186h0M412.2 238.1h0M345.4 252.8h0M386 267.5h0M393.7 280.6h0"/><path stroke="#008cff" d="M420.8 108.3h0M400.2 191.7h0M423.5 192h0M400.7 208.9h0M425.1 208.6h0"/><path stroke="#0040ff" d="M397.7 206.8h0M412 214.9h0M397.5 231.6h0M378.4 260.8h0M371.4 268.5h0M366.7 272.3h0M371.1 299.1h0M373.9 298h0M409.6 309.4h0"/><path stroke="#ff2600" d="M351.7 146.8h0M348.3 154.1h0M367 154.7h0M394.6 157.6h0M352.5 168.7h0M359.1 173.2h0M370.6 174.8h0M355 180.4h0M321.9 200.9h0M354.6 221.8h0M321.1 235.5h0"/><path stroke="#000080" d="M394.9 226.3h0"/><path stroke="#f2ff0d" d="M416.2 124.3h0M404.7 165.5h0M347.2 173h0M416.1 257.7h0"/><path stroke="#99ff66" d="M415.8 143.4h0M321.7 185h0M424.2 234.7h0M411.7 246.6h0M427.6 244.6h0M405.2 253.2h0M428.1 263.8h0"/><path stroke="#ff0000" d="M317.1 143.5h0M385.7 148.1h0M370.1 163.3h0M333.5 203.4h0M325.7 222.5h0M358.6 231.5h0"/><path stroke="#0dfff2" d="M417 106.2h0M420.2 116.6h0M315.2 155h0M428.6 250.3h0M416 275.3h0M406.2 284.8h0"/><path stroke="#0066ff" d="M423.6 102.3h0M405.3 186h0M406.1 195.4h0M363.3 250.3h0"/><path stroke="#e5ff1a" d="M409.6 111.7h0M408.2 128.3h0M419.5 139.6h0M307.4 193.3h0M412.1 242.5h0"/><path stroke="#00ccff" d="M410.2 184.6h0M387 196.3h0M398.8 199h0M416.4 206.7h0M378.7 267.8h0"/><path stroke="#0073ff" d="M413.4 196.3h0M412.5 225.9h0M416.8 233.4h0"/><path stroke="#00a6ff" d="M410 178h0M413.1 188h0M423.5 189.3h0M427.8 284.7h0M416.4 296.1h0"/><path stroke="#ffa600" d="M405.2 105.6h0M386.5 159.2h0M337.3 182.1h0M336.5 193.2h0M347.2 220h0"/><path stroke="#00008c" d="M344.4 283.9h0M396.6 287.2h0"/><path stroke="#59ffa6" d="M412.5 131.9h0M424.8 144.3h0M428.5 142.3h0M417 168.8h0M409.9 242.6h0"/><path stroke="#0000f2" d="M421.5 188.6h0M385.9 230h0M390.4 234.6h0M378.1 242.6h0M369.9 250.3h0M375.4 276.5h0M375.9 283.9h0M381.5 298.5h0M385.7 299.8h0M393.5 298.3h0"/><path stroke="#8c0000" d="M370.2 121h0M376 119.4h0M379.3 120.7h0M371.7 125.2h0M381.3 123.5h0"/><path stroke="#00b2ff" d="M404.4 98.1h0M409.8 174.2h0M421.1 174.4h0M421.2 176.8h0M423.3 197.5h0M411.9 207.8h0"/><path stroke="#ff9900" d="M358.6 149.8h0M299.9 154h0M396.5 170.4h0M378.2 172.5h0M312.9 187.7h0M328.1 191.5h0M364.1 196.9h0M362.3 208.9h0M374.6 223.7h0M368.1 231.6h0M344.2 250.4h0M336.7 252.8h0M362.7 296.1h0"/><path stroke="#ffcc00" d="M295.5 163.1h0M310.2 178.5h0M366.9 197.1h0M366.8 214.5h0M347.4 249h0"/><path stroke="#ff5900" d="M335.9 136.3h0M349.1 146.5h0M356.4 146.5h0M337.1 150.7h0M358.4 153.9h0M345.3 170.7h0M303.7 174.2h0M333.3 195.5h0M360.2 196.5h0M318.7 204.5h0M356.8 218.6h0M359.1 219.1h0M332.6 228h0M359.2 276.3h0"/><path stroke="#0000d9" d="M406.2 219.3h0M408.5 218.2h0M412.8 230.5h0M377.6 238.9h0M379.8 250.6h0M374 262h0M345.3 264.6h0M382.4 287.7h0M352.3 295.9h0M390.2 295h0M382.9 306.9h0"/><path stroke="#800000" d="M370 131.1h0M299 147.4h0M337.7 146.9h0M333.7 237.7h0"/><path stroke="#ff8000" d="M401 157.7h0M318.5 168.6h0M360.3 169.7h0M316.7 177.1h0M316.8 184.6h0M348.4 196.7h0M324.6 207.8h0M411.6 256.9h0M362.7 276.5h0"/><path stroke="#0099ff" d="M415.6 183.9h0M409.5 195.3h0M425.3 283.3h0"/><path stroke="#0033ff" d="M309 150.7h0M389.9 216.6h0M390.1 250.5h0M393.6 249.5h0M370.5 288.2h0M406 294.2h0"/><path stroke="#d9ff26" d="M408 136h0M406.2 159.2h0M413.1 161.9h0M415.5 242.4h0M355.5 283.6h0"/><path stroke="#000dff" d="M420.4 193.7h0M388.8 208.6h0M393.7 207.5h0M400.6 218.4h0M389.8 227.8h0M402.1 231.4h0M393.1 253.6h0M393.8 288.5h0M371.7 296.3h0M382.9 294.5h0M406.1 300.2h0"/><path stroke="#ffb300" d="M318.2 151h0M291.3 155.3h0M340.7 173.2h0M337.7 178.1h0M393.6 177h0M332.7 181.3h0M337.3 188.5h0M378.8 188.1h0M372.2 196.5h0M344.3 214.7h0M420.9 220.4h0M355.8 256.6h0"/><path stroke="#66ff99" d="M413.1 170.6h0M404.4 181.8h0M417.2 246.5h0M367.4 280.6h0"/><path stroke="#0026ff" d="M394.9 219.8h0M405.7 227.7h0M390.8 242h0M371.2 256.4h0M352.1 306.6h0"/><path stroke="#00ffff" d="M413 104.8h0M416.5 127.2h0M402.4 199.8h0M408.7 200.2h0M420 212.5h0M398.1 241.6h0M428.4 288.2h0M423.1 294.1h0"/><path stroke="#ffd900" d="M351 173.8h0M394.2 173h0M360.6 192.1h0M371.4 207.8h0M366.7 210.9h0M408.5 265.6h0"/><path stroke="#00d9ff" d="M405.7 170.8h0M423.8 210.8h0M415.9 219.4h0M419.3 302.9h0"/><path stroke="#8cff73" d="M419.7 136.5h0M419.7 167h0M408.9 169.3h0M357 291.7h0"/><path stroke="#bf0000" d="M370.7 108.3h0M341.8 129h0M306.5 131.3h0M305.7 135.3h0M360.4 135.3h0M367.1 138.3h0M306.4 143.7h0M344.9 143.2h0M298.6 166.1h0M313.4 212.6h0"/><path stroke="#00bfff" d="M406.1 101.2h0M428 106.1h0M412.6 180.8h0M398.4 188.8h0M368 283h0"/><path stroke="#ff4000" d="M398 135.9h0M379.6 150.2h0M341.6 159.3h0M344.5 162.1h0M370 166.7h0M383.5 164.9h0M374.5 171h0M379.6 176.6h0M360 188h0M320.9 192.7h0M352.3 196.4h0M348.1 199.1h0M344 206.9h0M425.2 215.2h0M363.3 287.2h0"/><path stroke="#4dffb2" d="M412.1 112.1h0M427.3 113.2h0M424.6 149.7h0M425.1 154.3h0M417.4 238.6h0M419.5 254.3h0M409 273.4h0M410 275.3h0"/><path stroke="#ff6600" d="M401.9 112.1h0M321.7 150.8h0M409 150.1h0M387.2 154.9h0M322.5 159.1h0M396.6 159.5h0M366.7 161.2h0M321.7 170.2h0M383.5 169.1h0M345.5 186.2h0M363.6 185.2h0M379.2 184.7h0M385.9 184.8h0M358.7 215.6h0M369.9 222.5h0M354.7 231h0M351.2 253.9h0M358.8 284.5h0M358.7 286.6h0M425.2 307h0"/><path stroke="#ff3300" d="M406.4 146.9h0M363.5 154.9h0M334 158.6h0M375.8 159.4h0M360.1 162.5h0M401 164.8h0M351.7 182h0M389 180.3h0M350.9 185.4h0M321.1 204.1h0M336.2 215.5h0M364.6 226.7h0M347.1 235.4h0M332 244.8h0"/><path stroke="#ff0d00" d="M401.4 134.7h0M324.7 140.1h0M328.3 143.4h0M348.8 149.8h0M391.2 149.6h0M389.3 154.2h0M367.9 174h0M326.1 205.1h0M351.9 218.2h0M329.1 238.3h0M343.7 245h0M359 249.5h0"/><path stroke="#f20000" d="M385.3 104.6h0M315.1 140.2h0M375.3 148h0M389.4 174.4h0M341 223.2h0M355.7 250.2h0"/><path stroke="#ccff33" d="M400.4 101.7h0M411.6 151.3h0M374.6 220h0M409.7 253.4h0M417.1 269.1h0M392.7 271.8h0M397.6 272.2h0"/><path stroke="#00e5ff" d="M413.1 101.9h0M423.7 180h0M428.5 197.1h0M411.9 201.2h0"/><path stroke="#e50000" d="M405.8 109.7h0M328.2 123.3h0M404.3 125.1h0M355.6 128.2h0M344.6 130.7h0M302.3 135.1h0M329.4 135.5h0M321.2 139.8h0M337.7 139.9h0M348.3 140.1h0M351.1 140.3h0M291.4 145.9h0M302.1 146.5h0M378.4 146h0M400.6 154.1h0M321.4 221.9h0M352.8 227.5h0M326.6 241h0"/><path stroke="#bfff40" d="M428.5 149.6h0M415.5 158.6h0M400.7 248.5h0M390.5 265.6h0"/><path stroke="#cc0000" d="M373.9 135.8h0M378.8 135.5h0M398.1 138.5h0M368 142.9h0M302.3 151.2h0M333.2 219.5h0M341.8 227.8h0"/><path stroke="#ffe500" d="M326.2 170.4h0M382.5 200.4h0M417.7 259.9h0M355.8 267.7h0M396.9 267.5h0"/><path stroke="#000099" d="M401.9 234.2h0M397.5 237.3h0M398.2 290.8h0"/><path stroke="#ff8000" d="M336.1 162.2h0M401.7 163.1h0M374.1 167.1h0M393.6 169.7h0M333.9 172.9h0M385.1 178.4h0M375.8 196.8h0M372 200.8h0M348.9 207.5h0M352.2 257.6h0M352.6 260.2h0"/><path stroke="#ff2600" d="M402.1 105.8h0M405.9 117h0M301.5 131.1h0M321.4 132h0M339.8 147.9h0M400.2 151.7h0M322.4 154.1h0M317.5 158.9h0M332.4 161.4h0M363.4 166.8h0M309.3 170.7h0M306.3 178.3h0M373.9 176.9h0M367.2 180.4h0M370.7 181.5h0M316.8 195.2h0M316.8 212.4h0M425 303.6h0"/><path stroke="#ff7300" d="M315.2 145.9h0M355.1 170.9h0M328.8 180.4h0M326.4 189h0M352.6 206.9h0M359.3 211.3h0M364.5 291h0"/><path stroke="#00ccff" d="M428.4 108.3h0M410 204.6h0M386.7 211.5h0M374.8 233.9h0"/><path stroke="#ffff00" d="M409 108.4h0M378.1 195.4h0M400.7 260h0"/><path stroke="#fff200" d="M412.8 120.6h0M378.9 192.5h0M364.3 241h0M408 259.9h0M419.3 269.4h0M364.6 302.7h0"/><path stroke="#e50000" d="M396.7 129.2h0M333 151.1h0M363.7 158.1h0M393.1 165.2h0M334.2 240.9h0M427.5 299.3h0"/><path stroke="#a6ff59" d="M423.1 135.6h0M412.9 153.7h0M421.5 162.3h0M429.2 185.7h0M306.9 189.7h0M421.5 214.6h0M398.1 277.4h0"/><path stroke="#d90000" d="M394.6 113.3h0M396.9 116.3h0M397.9 125.2h0M333 131.4h0M394.5 130.9h0M294 135.1h0M298.1 136.6h0M393.4 136.3h0M290.7 139.9h0M360.3 145.9h0M336.9 153.6h0M348.9 216.1h0M428.9 220.3h0M336.9 231.8h0"/><path stroke="#0000e6" d="M312.9 150h0M409.4 222.2h0M375.5 246.2h0M374.7 256.6h0M371.6 275.3h0M373.6 291.1h0M409.6 296.2h0M378.1 297.9h0M348.6 303.4h0M370.8 303.9h0M373.8 303.2h0"/><path stroke="#00b2ff" d="M415.6 180.7h0M392.9 191.7h0M387.1 200h0M416.8 205h0"/><path stroke="#0000cc" d="M387.2 228h0M338 260.2h0M379.3 281.1h0"/><path stroke="#008cff" d="M425.4 104.1h0M409.7 211.5h0M404.7 222.9h0M377.5 266h0M424.3 290.6h0"/><path stroke="#ffd900" d="M416.6 167h0M336.6 172.9h0M354.7 184.6h0M371.7 212.4h0"/><path stroke="#59ffa6" d="M408.7 105h0M427.2 135.5h0M420.6 147.2h0M419.5 154.3h0M423.4 158.4h0M421.4 276.6h0"/><path stroke="#1affe5" d="M419.3 101.8h0M332.1 253h0M398.6 252.3h0"/><path stroke="#004dff" d="M420.9 200.4h0M370.8 261.5h0M364 269.3h0M377.6 272.8h0M415.5 298h0"/><path stroke="#33ffcc" d="M398 178.1h0M306.9 183.8h0M389.3 192.5h0M377.5 227.6h0M397 244.8h0"/><path stroke="#a60000" d="M401.4 117.6h0M367.8 119.6h0M326.2 132.7h0M359.1 130.8h0M379 138.5h0M387.1 139.3h0M374.3 142.5h0"/><path stroke="#ff0d00" d="M328.6 140h0M354.8 151.3h0M368.3 150.8h0M371.2 151h0M313.5 200.2h0M345.5 212.3h0M333.5 223.6h0M339.6 231.3h0"/><path stroke="#40ffbf" d="M417 97.8h0M425.1 173.9h0M383.1 264.4h0M383.3 273.4h0M416.4 278.8h0"/><path stroke="#ff0000" d="M321.3 143.7h0M371.9 157.2h0M314.3 203.2h0M337.3 203.4h0M344.5 226.5h0M427.6 230h0"/><path stroke="#0099ff" d="M420.9 185.2h0M420.7 196.2h0M417 201h0M396.4 203.9h0M419.9 235.3h0M366.5 242.6h0M366 253.3h0M398.5 284.9h0M412 299h0"/><path stroke="#ff4000" d="M400.5 108.7h0M298.9 142.5h0M405 150.6h0M336.5 159.3h0M344.9 158h0M298.7 162.1h0M318.4 163h0M381.8 174h0M360 177.9h0M382.8 177.7h0M377.8 181.4h0M328.7 200.1h0M321.3 218.6h0M340.6 248.6h0M360 269.7h0"/><path stroke="#8c0000" d="M367.8 112.5h0M381.2 112.9h0M369.9 128.3h0M378.2 127.5h0"/><path stroke="#ffb300" d="M412.4 146.7h0M301.5 161.5h0M394.4 161.8h0M413.1 166h0M326.5 193.5h0M351.7 246h0M333.7 250.5h0M348.2 253.4h0M355.3 272.5h0M427.3 305.6h0"/><path stroke="#bfff40" d="M424.7 184.4h0M419.6 226.8h0M424.2 240.9h0M408.6 281h0M356.3 288.1h0"/><path stroke="#ff5900" d="M293.8 140.5h0M287.6 146.1h0M347.5 163.1h0M336.4 166.5h0M386.2 165.5h0M325 173.4h0M356.8 192.9h0M339.7 200.7h0M344.5 201.1h0M337.7 239.3h0M337.5 250.6h0M347.8 257.1h0"/><path stroke="#0000f2" d="M310.8 155.2h0M378 253.6h0M374 306.8h0"/><path stroke="#8cff73" d="M405.3 245.7h0M409.6 268.9h0"/><path stroke="#0080ff" d="M420.5 104.6h0M406.4 172.8h0M416.4 174.5h0M428.3 201h0M349.3 271.9h0M372 273.4h0M427.6 279.8h0M383.2 292.2h0M370.3 305.8h0"/><path stroke="#b30000" d="M379.5 104.7h0M389.3 109.5h0M356.6 112h0M363.5 119.3h0M360.4 124h0M321.8 128.9h0M347.3 127.9h0M340.3 131.4h0M309 138.7h0M374.4 138.4h0M398.4 149.9h0M330 227.9h0M343.5 234.4h0"/><path stroke="#b3ff4c" d="M428.2 146.6h0M419.3 246h0M413 253.3h0M398.3 256.7h0M405.1 262.1h0"/><path stroke="#00bfff" d="M392.9 199.2h0M419.6 230.4h0M397.5 250.2h0"/><path stroke="#e5ff1a" d="M412.5 140.2h0M309.5 159.3h0M407.9 166.8h0M309.6 174.2h0"/><path stroke="#0033ff" d="M389.9 196.6h0M364.5 261.5h0M389.3 291.6h0M391.2 299.4h0M352.9 302.6h0"/><path stroke="#99ff66" d="M416.4 132h0M409.7 161.9h0M409.6 246.7h0M390.1 261.2h0M425.2 271.9h0M420.4 298.3h0"/><path stroke="#ff6600" d="M406.4 142.8h0M370.2 155.5h0M324.3 163.1h0M317.9 165.2h0M385.4 170.9h0M328.2 178.5h0M306.9 181.1h0M382.1 181h0M328 185.8h0M371.6 188.7h0M332.8 192.6h0M374.5 225.8h0M363.3 231.2h0M366.6 233.9h0M363 238.5h0M355 253h0M359.5 279.4h0"/><path stroke="#ccff33" d="M417.1 119.7h0M412.8 158.5h0M404.2 162.8h0M427.1 212h0M421.2 242.6h0M367.1 306.4h0"/><path stroke="#26ffd9" d="M419.7 170.4h0M424.8 178.1h0M419.9 238.5h0M406.2 240.8h0M424.8 249.6h0M427.4 262h0"/><path stroke="#0000bf" d="M382.1 226.2h0M382.2 241.5h0M377.6 245.5h0M336.2 265.4h0M341.5 265.3h0M338 269.7h0M345.3 288.3h0M387.1 307.3h0"/><path stroke="#80ff80" d="M408.5 132.7h0M408.1 139.3h0M428.5 153.9h0M386.3 192.2h0M405.3 264.4h0M417 265.3h0M423.9 265h0M412 276.8h0"/><path stroke="#f20000" d="M352.2 130.8h0M340.8 136.8h0M344.7 136.1h0M392.7 142.7h0M351.2 151.8h0M324.5 197.2h0M321 211.5h0M324.8 226.3h0M345 238.8h0M360.6 245.1h0"/><path stroke="#00e5ff" d="M427.2 273h0M413.7 288.7h0"/><path stroke="#0000ff" d="M381.7 234.4h0M409.1 307h0"/><path stroke="#990000" d="M373.8 106h0M379.4 108.3h0M362.9 112.2h0M379.3 112.5h0M374.5 116.9h0M381.9 116.6h0M374.1 128.1h0M385.2 133h0M348.4 143.1h0M381.4 144.4h0M318 208.9h0M326.1 233.4h0"/><path stroke="#ff8c00" d="M398.6 167.1h0M340.8 189.2h0M385.5 188.5h0M367.4 200.5h0M370.8 218.6h0M370.6 231.6h0M359.9 261.5h0"/><path stroke="#4dffb2" d="M425 165h0M368.2 237.4h0M425.2 253.4h0M363.9 264.3h0M402.2 271.4h0M406.3 272h0M400.9 278.9h0"/><path stroke="#000dff" d="M413.2 219h0M401.4 225.7h0M385.6 246.2h0M378.8 290.5h0"/><path stroke="#0000a6" d="M340.9 288.3h0"/><path stroke="#0066ff" d="M397.9 185.7h0M419.7 204.8h0M413.2 212.4h0M366.5 256.1h0M405.2 290.6h0"/><path stroke="#ff3300" d="M307.1 147.5h0M299.3 150.4h0M337.4 200.5h0M338 208.2h0M340.6 207.8h0M340.4 215.6h0M348.7 237.6h0M359 238.8h0M348.6 242h0M329.7 244.8h0M351.3 263.9h0"/><path stroke="#000080" d="M386.7 287.3h0"/><path stroke="#ff9900" d="M294.6 155.1h0M391.2 158h0M379.2 170.8h0M359.9 180.8h0M386.4 182h0M394 181h0M314.4 185.4h0M351 238.7h0M356.4 241.2h0M351.6 269.2h0M427.6 291.6h0M360.5 306.5h0"/><path stroke="#0040ff" d="M412.3 173.2h0M412.1 185.6h0M382.1 284.3h0M420.9 288.2h0M396.7 299.1h0"/><path stroke="#800000" d="M366.6 109.8h0M367.7 115.7h0M378.3 116.4h0M381.3 120.9h0M374.7 123h0M381.4 127.6h0M382.2 131.3h0M358.8 142.5h0"/><path stroke="#bf0000" d="M368.1 125.3h0M393.9 124h0M343.9 128h0M318.5 134.6h0M333.4 134.4h0M366.3 134.8h0M389.7 139.1h0M385.5 144.3h0M318.1 189.9h0M318.6 193.1h0"/><path stroke="#ff1a00" d="M394.4 102.5h0M314 127h0M298.8 140h0M341.3 143.1h0M390.5 147.1h0M395 150h0M313.2 159.4h0M321.7 162.9h0M312.8 166.1h0M364.1 169.9h0M322.7 189.8h0M340 241.9h0"/><path stroke="#ffbf00" d="M291.4 150.5h0M318.8 154.3h0M318 181.4h0M373.8 204.7h0M329.9 211.4h0M378.9 211.5h0M427 222h0"/><path stroke="#00f2ff" d="M415.4 113.8h0M423.9 111.7h0M425.1 117.1h0M429.1 123.7h0M428.5 208.1h0M409.8 237.1h0M428.7 254.4h0M424.2 257.3h0"/><path stroke="#0026ff" d="M389.5 229.6h0M371 245.4h0M409.8 288h0M352.9 298.3h0"/><path stroke="#ffe500" d="M305.3 162h0M309.6 162.6h0M368.2 208.4h0M428.1 242.6h0M366.4 290.5h0M363.2 299.4h0"/><path stroke="#0073ff" d="M401.3 184.1h0M397.2 214.6h0M369.9 239h0"/><path stroke="#0000d9" d="M383.4 249.5h0M374.8 267.8h0M340.4 280.3h0M340.9 284h0M351.4 284.3h0M377.9 287.9h0M416.9 305.8h0"/><path stroke="#ffcc00" d="M310.7 181.9h0M366.1 204.2h0M412.3 260.7h0"/><path stroke="#0000b2" d="M397.3 212h0M393.3 246h0M335.8 273h0M348.3 291.3h0"/><path stroke="#0019ff" d="M386.1 223.3h0M374.4 254.2h0M389.9 288h0M396.5 295.6h0M416.1 303.9h0"/><path stroke="#d9ff26" d="M420.5 129.2h0M386.1 203h0M416.6 250.4h0"/><path stroke="#0059ff" d="M416.6 196.4h0M404.3 230.8h0M371.6 264.1h0M379 294.5h0M420.9 294.9h0M413.5 301.7h0"/><path stroke="#f2ff0d" d="M419.9 158.1h0M337.1 184h0M411.9 265.5h0M396.5 280.4h0"/><path stroke="#cc0000" d="M385.6 113.2h0M351.2 120.3h0M345 123.1h0M318.2 129.1h0M336.1 129.1h0M359.2 127.1h0M363.9 135.8h0M389.7 135.9h0M325.3 149.9h0M428.6 294.2h0"/><path stroke="#ffa600" d="M317.6 174h0M374.9 174.8h0M355.9 203.7h0M379.7 207.5h0M363.4 211.1h0M356.7 276.7h0M360.3 295.2h0"/><path stroke="#ff4c00" d="M345.4 149.8h0M383.2 150.3h0M398.7 153.7h0M378.3 159.6h0M383.5 162.2h0M324.7 181.7h0M330.1 189.9h0M328.1 203.2h0"/><path stroke="#66ff99" d="M419.8 124h0M409.5 154.6h0M397.9 260.7h0M390.5 276.7h0M413.1 278.9h0"/><path stroke="#73ff8c" d="M394.6 268.5h0M425.1 268.8h0M428.5 269.3h0M421.5 272.7h0M413.6 284.5h0"/><path stroke="#0dfff2" d="M390.7 199.9h0"/><path stroke="#00a6ff" d="M409 97.1h0M423.9 120.8h0M307.5 150.6h0M405 200.5h0M413.8 235.6h0M366.1 275.7h0"/><path stroke="#00ffff" d="M412.9 109h0M416.3 116.1h0M386.2 216.4h0M385.1 281.1h0M409 283.9h0M416.3 283.5h0"/></g><g clip-path="url(#boxclip)"><path d="M196.3 96.8 270.9 96.8M214.9 96.8 214.9 168.2M196.3 133.7 214.9 133.7M214.9 125.3 262 125.3M214.9 151.2 249.8 151.2 251.7 152.3 254.2 152.5 256.7 152.4 259.2 153.2 261.1 154.7 262.7 155.6M196.3 168.2 227.5 168.2 227.5 200.6M227.5 176.5 269.9 176.5M196.3 200.6 274.2 200.6M221.5 200.6 221.5 204.5 240.4 204.5 240.4 219.5 242.2 220.7 244.1 220.7 245.4 222.3 247.3 222.6 249.8 223.4 252.3 223 254.2 224.5 256.7 225.3 258.6 225.7 260.5 224.9 263 225.9 265.5 224.9 268 224.5 270.6 224.5 272.5 225.3 275.1 226.5 277.9 227.2M221.2 204.5 221.1 238.8 198.7 238.8M198.7 238.8 199.4 240.5 201.3 242.5 203.2 244 204.6 245.1 205.7 246.5 207.1 248 208.9 248.7 210 250.3 210.8 252 211.5 253.8 211.7 255.7 213.9 257.5 216.4 259.3 219 260.7 220.5 260.9 222.1 258.9 222.1 257 223.4 255.7 225.3 254.6 228.4 254.9 231.5 255.2 232.9 256.4 234.1 257.8 236 260 236.2 262.2 237.8 263.6 239.1 266.4 241 268.6 242 270.2 243.5 271.4 243.8 275 243.9 276.8 245.4 277.8 247.9 279.5 249.4 280.6 251.1 281.3 254.2 282 256.4 283.1 258.3 282.4M258.3 282.4 257.7 279.9 257 276.4 256.7 272.8 258 270 259.2 268.7 259.9 267.2 261.2 266.2 262.4 265 263.4 263.2 265.5 263.6 267.4 263.2 268.7 261.8 270.5 260.8 271.8 259.3 273.4 258.2 272.1 256.4 273.7 255.3 276.2 256.4 279.1 255.7M274.2 200.6 274.2 204.5 274.1 206.3 276 207.8 276.2 209.5 275.8 211.3 275.4 213.1 275.1 226.5M277.9 227.2 277.9 231.2 277.9 238.8 278.7 241.8 280.2 243.6 280.9 245.8 280.3 247.8 280 249.8 279.9 252.8 279.1 255.7M277.9 231.2 295.9 231.3M274.2 200.6 274.2 183.8 272.6 181.4 271.2 178.5 269.9 176.5M274.2 204.5 302.3 204.5 301.1 206.9 301 208.4 305.2 208.4M262.7 155.6 263.6 158.1 264.5 160.2 265.2 162.3 265.3 164.1 266.2 165.7 266.5 169 267 171.7 268.7 174 269.9 176.5M267 171.7 292.4 171.4 294.4 173.3M262.7 146.9 295.6 146.9M262.7 146.9 262.7 131.1 262 125.3 261.1 123.3 261.1 121.1 260.5 116.5 260.2 111 260 109.4 259.6 107.8 258.9 106.3 258.3 101.6 257.8 96.8M262.7 146.9 262.7 148.8 261.8 150.4 260.8 152.4 262 153.9 262.7 155.6M270.9 96.8 273.1 98.7 274.3 99.5 276.9 100.1 279.4 101.1 281.9 100.6 284.4 100.4 286.9 102 288.8 103.3 290.7 103 291.3 104.8 293.2 105.4 295.7 105.8 298.3 105.4 300.8 105.4 303.3 105.8 305.8 106.4M305.8 106.4 304.2 107.9 302 108.6 300.4 110.3 298.3 111 297.2 112.3 295.8 113.2 294.5 114.2 292.6 115 291.3 116.5 288.9 118.4M288.9 118.4 288.9 124 286.9 126.1 286 128.6 285.7 132 286 136 287.3 137.2 288.8 138.2 291.3 139.9 293.1 141.2 294.5 143 295.7 144.8 295.6 146.9M288.9 118.4 290.7 118.4 293.9 117.5 295.6 116.4 297.6 116.1 298.9 118.4 300.6 119.6M300.6 119.6 302.7 121.6 304.2 123.1 306.4 122.9 308.3 123 309.7 124.3 311.5 124.8 315.3 125.2 316.8 127.9 317.1 130.6 318.4 132.8M295.6 146.9 296.1 151.2 297.6 153.8 299.2 155.5 300.8 158.1 302.3 160.6 301.4 163.2 299.5 164.4 298.1 165.2 297 166.5 296.4 169.8 296.3 172.1 294.4 173.3 294.5 176.5 295.4 178.1 296.4 179.7 296.9 182 298.9 183 300.8 185 302.3 187 301.7 190.3 304 190.7 303.9 193.1 305.4 194.3 306.4 195.8 306.4 198.2 307.6 199.3 308.6 200.6 309 202.2 308.1 203.8 306.4 204.5 306.1 206.9 305.2 208.4 303.8 210.2 303 212.3 302.7 215.4 301.4 217.7 300.5 219.2 299.5 220.7 299.5 222.8 297.6 223.8 296.4 225.5 296.4 227.6 295.9 231.3 296.4 234.3 297 237.3 295.4 238.5 294.5 240.3 293.9 243.2 293 246.2M293 246.2 305 246.2 304.9 248.4 304.6 250.4 305.8 252.2M299.3 155.5 317.1 155.5M318.8 161.8 318.8 181.8 318.4 183.8 319 187 317.8 189.5 316.5 191.9 315.6 194.2M308.6 200.6 310.8 199.4 312.7 199.8 314.6 197.4 316.1 196.1 315.6 194.2 318.4 193.5 321.5 194.2 324.7 193.5 327.8 192.7 329.7 191.1 331.6 188.6 333.5 187 336 186.2 335.9 183.8 337.9 183.8 339 185.2 340.4 186.2 342.9 187.4 346.1 187.8 348.6 186.6 349.9 189 351.8 187 352.7 185.4 354.9 183.4 357.4 181.8 359.9 180.1 361.2 177.3 362.1 174.8 362.6 173 363 171.2M335.9 161.8 335.9 183.8M320.9 161.8 335.9 161.8 344.5 162.1M363 171.2 363 159.8M367.7 157.5 367.7 159.8 395.4 159.8M363 171.2 363 178.8 392.7 178.8M349.9 191.1 351.9 192.5 352.4 195 354 196.4 355.5 199 357.4 198.2 359.9 198.2 362.5 197.4 364.3 196.2 366.2 193.9 367.6 192.7 368.1 191.1 369.4 189 371.3 188.6 373.2 186.2 375 184.6 376.6 182.2 380.1 182.2M380.1 182.2 378.5 181.5 377.6 180.1 375.7 180.1 373.8 179.7 371.9 181 369.5 183 369.5 178.8M343.1 203.7 346.1 202.6 348 200.6 350.5 199 352 197.4 354 196.4M354 196.4 351.8 194.2 350.8 191.9 349.9 191.1 349.9 189M306.4 204.5 315.6 204.5 315.6 203.1 322.2 203.3 331.6 203.7 337.9 203.7 343.1 203.7M343.1 203.7 355.7 203.8M355.7 203.8 354.3 206.1 352.4 207.6 349.9 208.6 348.8 210.3 346.7 210.4 344.2 211.9 343 213.5 341.1 213.8 339 216.1M339 216.1 301.4 216.1M355.7 203.8 392.2 204.1M339 216.1 346.7 216.1 348.8 215 351.1 214.6 359.7 215 360.4 215.4 361.2 217.5 368.2 217.7 375.4 224.8M346.7 216.1 346.8 218.2 348.6 219.2 351 219.8 351.1 222.3 353 223.7 353 226.1 353.8 227.7 354.9 229.1 356.8 231.3 356.4 233.2 358 234.3 358.3 236.2 359.3 237.7 360.6 238.4M331 216.1 333.5 231.3 335.3 232.6 336.2 234.1 334.8 236.2 334.4 241.8 334.8 246.2M334.8 246.2 335.6 248.3 344.2 248.7 352.4 249.3 353.3 250.6 355.2 249.1 357.1 248.4M334.8 246.2 318.4 246.2 319 248.4 319.7 250.6M314.6 216.1 312.9 239.5 313.4 250.6M279.1 255.7 281.9 255.2 284 256 286.3 256.4 288.8 256.7 291.3 255.7 293.9 257.1 295.7 258.9 298.3 260 300.8 259.6 302.7 258.9 304.6 258.2 307.1 260 308.6 260.7 307.7 258.6 306.4 257.1 305.2 255.7 306.8 253.8 305.2 252.9 305.8 252.2M300.5 253.1 302.7 252 304.6 252 304.9 253.1 303 253.3 300.5 253.1M305.8 252.2 307.5 250.9 309.6 250.7 313.4 250.7 315.3 249.1 315.9 251.3 318.4 251.5 320.1 250.2 322.2 250.6 325.3 250.6 328.5 251.3 331 252.8 331.1 254.6 332.6 255.7 335.4 255.3 337.3 255.3 338.5 253.8 341.1 252.8 342.9 254.2 343.8 255.7 344.8 257.1 346.7 259.3 348.6 261.4 348.9 265 348.6 267.9 349.9 270 349.6 272.1 350.2 273.6 351.1 275 352.4 277.1 354.3 279.2 354.9 282 356.8 283.4 358.7 285.5 359.6 287.6 362.5 287.6 363.7 286.9 364.3 284.8 365.3 282 365.9 278.5 365.9 275.7 365 272.8 364.6 271 363.7 269.3 364.2 267.1 362.5 265.7 362.1 263.6 361.8 261.9 360.6 260.7 360.1 258.8 359 257.1 358.9 255.2 358 253.5 357.4 250.6 357.1 248.4M363.7 286.9 365.5 288.4 365 290.7 364.7 292.9 366.2 294.5M357.1 248.4 357.7 245.4 358.7 242.5 359.3 239.5 360.6 238.4 362.5 236.6 363.7 235.1 366.2 233.6 368 233 368.7 231.3 370.3 230.5 371.3 229.1 371 226.9 373.2 226.4 375.4 224.8 379.1 224.5 380.1 221.5 382.6 220 385.1 218.4 388.3 218.8 389.5 216.5 390.8 215.2 392.7 214.6 394.6 212.3 394.6 210 394.3 208.1 393 206.9 392.2 204.1 391.7 201.4M388.3 216.5 388.1 214.4 390.1 213.8 387.6 212.3 389.5 211.4 391.4 210.7 388.9 209.2 390.8 209.1 392 207.6 387.6 208.4M391.7 201.4 389.5 201 388.9 199 389.5 196.6 389.2 194.2 389.5 192.3 387.6 191.1 385.7 190.3 384.8 188.6 384.5 186.2 384.8 185 383.2 183.8 382 183 380.1 182.2M389.5 192.3 388.3 190.3 388.9 187.8 387.9 185.4 388.6 183 389.5 181.8 390.8 180.1 391.7 179.7 392.7 178.8M385.1 189.5 387 188.6 387.6 191.1M388.9 195.8 386.9 195.9 385.7 194.2 387.6 196.6M391.7 179.7 390.1 182.2 390.8 185 389.5 187 389.4 189.3 391.4 190.3 392 192.7 391.7 195.8 391.4 199.4 392 199.4 393.3 197.8 393.9 195.8 394.6 194.4 395.5 193.1 396.4 191.1 397.4 189 397.1 186.2 396.3 184.5 395.2 183 394.2 180.1 394.2 178.1M392.7 178.8 392.7 189 397.4 189M393.6 193.1 396.2 192.4M394.2 178.1 396.4 177.3 397.7 176 399.3 174.8 397.7 172.7 396.4 170.3 397.4 168.2 398.3 166.5 399.6 165.3M392.7 178.8 394.6 177.8 395.1 178.1M395.4 159.8 397.1 161.5 398.3 164 399.6 165.3M399.6 165.3 401 166.7 402.9 167.3 404.6 168.3M404.6 168.3 404 170.3 402.4 172.3 404 173.2 403.7 176.5 403.4 178.5 402.1 180.5 400.2 182.6 398.3 185 398 183 395.8 181.8 394.2 179.7M404 171.5 407.1 171.5 410.3 170.7 413.4 169.8 415.4 169.8 416.6 168.2 414.1 168.6 411.5 168.6 408.4 169 405.9 169.4 404.6 169.8M367.7 157.5 370 156 372.5 154.2 373.2 152.1 372.2 150.4 372.2 148.9 375.7 148 378.8 148 381.3 149.1 385.1 148.8 387.6 147.8 390.1 146.5 390.1 143.4 389.2 141.7 390.3 140.2 392 139.5 393.4 137.7 395.2 136.4 397 135.9 397.7 134.2 399.6 133.7 408.1 133.7M408.1 133.7 419.7 133.6 421.1 132.4 422.4 131.1M408.1 133.7 408.1 138.2 407.8 142.6 408.9 144.4 408.7 146.5 408.7 151.2 408.6 153.4M408.6 153.4 407.4 155.2 406.6 157.1 407.1 159.4 407.1 165.7 406.2 168.2M413.1 153.6 413.7 151.2 414.1 146.9 415.3 144.3 415.6 142 416.6 139.9 417.1 137.9 419.1 137.3 419.7 133.6M408.6 153.4 413.7 153.6 421 153.8 422.9 153 424.1 152.4M424.8 150.5 423.8 148.8 423.1 146.9 422.9 142.6 422.6 135.5 422.4 131.1M422.4 131.1 424.1 129.7 425 128.1 426 126.6 426.4 124.7 427.3 122.9 428.9 120.9 428.5 118.4 429.2 113.8M407.1 159.4 417.8 159.6 420.5 159.6 420.5 164M417.8 159.6 417.5 165.5M406.2 168.2 408.4 167.2 410.3 166.5 412.8 165.9 415.3 165.7 417.5 165.5 419.7 165.1 421 164 422.2 164 423.5 163.6 425.4 163.6 427.9 162.7 429.2 161.9 429.2 159.4 427.9 159.4 426 161 425.1 159.8 424.8 157.7 423.5 156 424.1 153.8 424.1 152.4 424.8 150.5 425.1 148.7 426.6 147.8 427.9 145.6 429.2 144.3M429.2 144.3 429.2 113.8M318.8 161.8 320.3 162.7 322.2 162.5 323.7 161.5 325.3 158.9 326.6 156.4 327.2 153 326.9 149.5 327.2 147.5 325.6 146.1 325.9 142.6 325.7 140.5 327.2 139.1 327.1 137.1 328.2 135.5 329.9 134.3 331 132.4 331.6 135.5 332.6 133.7 334.1 132.6 334.1 130.6 335.2 129 335.1 127 337.3 126.6 339.8 128.2 342.3 129.7 343.4 131 344.8 132 345.5 135.5 345.1 139.5 344.3 141 343.6 142.6 342.5 144 341.7 145.6 343.2 144.9 344.2 143.4 345.7 142.7 347.3 142.1 349.2 143 349.7 145 350.5 146.9 350.8 151.2 350.5 154.7 348.6 156.4 346.7 158.1 346.1 160.2 344.5 162.1M300.6 119.6 303.3 119.1 305.1 118.7 306.4 117.5 309.6 116.5 311.2 115.8 312.7 115.2 314.6 112.8 316.5 111.4 315.2 112.5 314.5 114 314 115.6 315.9 116.5 315.8 118.7 317.8 119.1 319 120.2 322.2 120.7 325.3 120.2 326.8 119.2 328.5 118.8 331.6 118.4 334.8 117.9 336.6 120.2 338.5 120.2 340.4 121.1 341.1 123.9 339.6 124.7 337.9 124.9 334.8 124.3 331.6 124.8 329.1 125.2 326.6 126.1 324.7 127.9 322.8 126.6 320.3 128.4 319.7 129.9 318.4 131.1 318.4 132.8M317.1 155.5 316.8 151.2 316.5 147.8 316.9 146 317.8 144.3 318.4 140.8 319 137.3 320.5 135.7 321.5 133.7 322.2 131.5 319.6 132.4 319 135.1 317.1 136.8 315.9 137.7 314.7 135.5 317.1 134.6 318.4 132.8M317.1 155.5 318.4 157 318.1 158.9 318.4 161 318.8 161.8M344.5 162.1 346.7 163.2 349.2 164.4 351.8 164.8 354.3 164 355.9 163.5 357.4 162.7 359.9 161 361.5 160.8 363 159.9 365.6 158.9 367.7 157.5" fill="none" stroke="#000" stroke-width="2.9" stroke-linejoin="round"/><path d="M258.3 282.4 257.7 279.9 257 276.4 256.7 272.8 258 270 259.1 268.7 259.9 267.2 260.9 265.8 262.4 265 264.2 264.7 265.5 263.6 267.2 262.9 268.7 261.8 270 260.2 271.8 259.3 273.4 258.2 272.1 256.4 273.7 255.3 276.2 256.4 279.1 255.7M279.1 255.7 281.9 255.2 283.6 257.5 286.3 256.4 288.8 256.7 291.3 255.7 293.9 257.1 295.7 258.9 298.3 260 300.8 259.6 302.7 258.9 304.6 258.2 307.1 260 308.6 260.7 307.7 258.6 306.4 257.1 305.2 255.7 306.8 253.8 305.2 252.9 305.8 252.2M305.8 252.2 307.8 251.7 309.6 250.7 313.4 250.7 315.3 249.1 315.9 251.3 318.4 251.5 320.2 250.6 322.2 250.6 325.3 250.6 328.5 251.3 331 252.8 331.8 254.2 332.6 255.7 335.4 255.3 336.9 254.4 338.5 253.8 341.1 252.8 342.9 254.2 343.9 255.6 344.8 257.1 346.7 259.3 348.6 261.4 348.9 265 348.6 267.9 349.9 270 349.6 272.1 352.1 272.6 351.1 275 352.4 277.1 354.3 279.2 354.9 282 356.8 283.4 358.7 285.5 359.6 287.6 362.5 287.6 363.7 286.9 364.3 284.8 365.3 282 365.9 278.5 365.9 275.7 365 272.8 364 271.2 363.7 269.3 363.8 267.3 362.5 265.7 362.1 263.6 360.6 262.6 360.6 260.7 359.7 258.9 359 257.1 359.2 255.1 358 253.5 357.4 250.6 357.1 248.4M357.1 248.4 357.7 245.4 358.7 242.5 359.3 239.5 360.6 238.4 362.5 236.6 363.7 235.1 366.2 233.6 367.9 232.9 368.7 231.3 370.8 231 371.3 229.1 371.2 227 373.2 226.4 375.4 224.8 379.1 224.5 380.1 221.5 382.6 220 385.1 218.4 388.3 218.8 389.5 216.5 391 215.3 392.7 214.6 394.6 212.3 394.6 210 393.5 208.5 393 206.9 392.2 204.1 391.7 201.4M388.3 216.5 389.6 215.5 390.1 213.8 387.6 212.3 389.8 212.3 391.4 210.7 388.9 209.2 389.6 206.6 392 207.6 387.6 208.4M391.7 201.4 389.5 201 388.9 199 389.5 196.6 389.2 194.2 389.5 192.3 387.6 191.1 385.7 190.3 384.8 188.6 384.5 186.2 384.8 185 383.2 183.8 382 183 380.1 182.2M389.5 192.3 388.3 190.3 388.9 187.8 387.9 185.4 388.6 183 389.5 181.8 390.8 180.1 391.7 179.7 392.7 178.8M385.1 189.5 387 188.6 387.6 191.1M388.9 195.8 387.7 194.3 385.7 194.2 387.6 196.6M391.7 179.7 390.1 182.2 390.8 185 389.5 187 391.4 188.1 391.4 190.3 392 192.7 391.7 195.8 391.4 199.4 392 199.4 393.4 197.9 393.9 195.8 393.7 193.9 395.5 193.1 396.4 191.1 397.4 189 397.1 186.2 396.2 184.5 395.2 183 394.2 180.1 394.2 178.1M392.7 178.8 392.7 189 397.4 189M393.6 193.1 396.2 192.4M404.6 168.3 404 170.3 402.4 172.3 404 173.2 403.7 176.5 403.4 178.5 402.1 180.5 400.2 182.6 398.3 185 398 183 395.8 181.8 394.2 179.7M404 171.5 407.1 171.5 410.3 170.7 413.4 169.8 415.4 169.8 416.6 168.2 414.1 168.6 411.5 168.6 408.4 169 405.9 169.4 404.6 169.8M406.2 168.2 408.4 167.2 410.3 166.5 412.8 165.9 415.3 165.7 417.5 165.5 419.7 165.1 421 164 422.2 164 423.5 163.6 425.4 163.6 427.9 162.7 429.2 161.9 429.2 159.4 427.9 159.4 426 161 425.1 159.8 424.8 157.7 423.5 156 424.1 153.8 424.1 152.4 424.8 150.5 425.6 149.1 426.6 147.8 427.9 145.6 429.2 144.3" fill="none" stroke="#000" stroke-width="3.6" stroke-linejoin="round"/><polygon points="396.2,166.5 401,168.4 403,173.3 400.5,181 398,188.8 395.5,196.6 393.5,204.4 395.5,212.5 391,216.5 386.5,212 387,205 383,198 386,193 384,187 386,182 390,179.5 395,177.5 397,172.3"/><polygon points="403,168 410,165 418,162 428,158.5 430,160.5 422,165 414,169 406,172.5 402,172"/><polygon points="299,252 304,249.5 309,251 311,256 311,263 306,262 302,258 298,256"/></g></g><g transform="translate(842,388.5)"><text x="163.3" y="112.9" text-anchor="end" class="lb" textLength="16.7" lengthAdjust="spacingAndGlyphs">48</text><circle cx="168" cy="99.5" r="1.2" class="dg"/><text x="175.7" y="112.9" class="lb" textLength="9.2" lengthAdjust="spacingAndGlyphs">N</text><text x="163.3" y="130.8" text-anchor="end" class="lb" textLength="16.7" lengthAdjust="spacingAndGlyphs">46</text><circle cx="168" cy="117.5" r="1.2" class="dg"/><text x="175.7" y="130.8" class="lb" textLength="9.2" lengthAdjust="spacingAndGlyphs">N</text><text x="163.3" y="147.8" text-anchor="end" class="lb" textLength="16.7" lengthAdjust="spacingAndGlyphs">44</text><circle cx="168" cy="134.4" r="1.2" class="dg"/><text x="175.7" y="147.8" class="lb" textLength="9.2" lengthAdjust="spacingAndGlyphs">N</text><text x="163.3" y="166.7" text-anchor="end" class="lb" textLength="16.7" lengthAdjust="spacingAndGlyphs">42</text><circle cx="168" cy="153.3" r="1.2" class="dg"/><text x="175.7" y="166.7" class="lb" textLength="9.2" lengthAdjust="spacingAndGlyphs">N</text><text x="163.3" y="182.9" text-anchor="end" class="lb" textLength="16.7" lengthAdjust="spacingAndGlyphs">40</text><circle cx="168" cy="169.5" r="1.2" class="dg"/><text x="175.7" y="182.9" class="lb" textLength="9.2" lengthAdjust="spacingAndGlyphs">N</text><text x="163.3" y="197.9" text-anchor="end" class="lb" textLength="16.7" lengthAdjust="spacingAndGlyphs">38</text><circle cx="168" cy="184.5" r="1.2" class="dg"/><text x="175.7" y="197.9" class="lb" textLength="9.2" lengthAdjust="spacingAndGlyphs">N</text><text x="163.3" y="214.9" text-anchor="end" class="lb" textLength="16.7" lengthAdjust="spacingAndGlyphs">36</text><circle cx="168" cy="201.5" r="1.2" class="dg"/><text x="175.7" y="214.9" class="lb" textLength="9.2" lengthAdjust="spacingAndGlyphs">N</text><text x="163.3" y="228.9" text-anchor="end" class="lb" textLength="16.7" lengthAdjust="spacingAndGlyphs">34</text><circle cx="168" cy="215.5" r="1.2" class="dg"/><text x="175.7" y="228.9" class="lb" textLength="9.2" lengthAdjust="spacingAndGlyphs">N</text><text x="163.3" y="245.8" text-anchor="end" class="lb" textLength="16.7" lengthAdjust="spacingAndGlyphs">32</text><circle cx="168" cy="232.4" r="1.2" class="dg"/><text x="175.7" y="245.8" class="lb" textLength="9.2" lengthAdjust="spacingAndGlyphs">N</text><text x="163.3" y="259.9" text-anchor="end" class="lb" textLength="16.7" lengthAdjust="spacingAndGlyphs">30</text><circle cx="168" cy="246.5" r="1.2" class="dg"/><text x="175.7" y="259.9" class="lb" textLength="9.2" lengthAdjust="spacingAndGlyphs">N</text><text x="163.3" y="273.1" text-anchor="end" class="lb" textLength="16.7" lengthAdjust="spacingAndGlyphs">28</text><circle cx="168" cy="259.7" r="1.2" class="dg"/><text x="175.7" y="273.1" class="lb" textLength="9.2" lengthAdjust="spacingAndGlyphs">N</text><text x="163.3" y="287.8" text-anchor="end" class="lb" textLength="16.7" lengthAdjust="spacingAndGlyphs">26</text><circle cx="168" cy="274.4" r="1.2" class="dg"/><text x="175.7" y="287.8" class="lb" textLength="9.2" lengthAdjust="spacingAndGlyphs">N</text><text x="163.3" y="301.9" text-anchor="end" class="lb" textLength="16.7" lengthAdjust="spacingAndGlyphs">24</text><circle cx="168" cy="288.5" r="1.2" class="dg"/><text x="175.7" y="301.9" class="lb" textLength="9.2" lengthAdjust="spacingAndGlyphs">N</text><text x="163.3" y="315.4" text-anchor="end" class="lb" textLength="16.7" lengthAdjust="spacingAndGlyphs">22</text><circle cx="168" cy="302" r="1.2" class="dg"/><text x="175.7" y="315.4" class="lb" textLength="9.2" lengthAdjust="spacingAndGlyphs">N</text></g><g transform="translate(843.6,388)"><text x="216" y="77" class="lb lo" textLength="24.4" lengthAdjust="spacingAndGlyphs">100</text><circle cx="244.8" cy="64.4" r="1.2" class="dg"/><text x="252.8" y="77" class="lb lo" textLength="12.8" lengthAdjust="spacingAndGlyphs">W</text><text x="284.8" y="77" class="lb lo" textLength="15.6" lengthAdjust="spacingAndGlyphs">90</text><circle cx="304.8" cy="64.4" r="1.2" class="dg"/><text x="314" y="77" class="lb lo" textLength="12.4" lengthAdjust="spacingAndGlyphs">W</text><text x="348.8" y="77" class="lb lo" textLength="16.8" lengthAdjust="spacingAndGlyphs">80</text><circle cx="370" cy="64.4" r="1.2" class="dg"/><text x="377.6" y="77" class="lb lo" textLength="13.2" lengthAdjust="spacingAndGlyphs">W</text><text x="412" y="77" class="lb lo" textLength="15.2" lengthAdjust="spacingAndGlyphs">70</text><circle cx="431.6" cy="64.4" r="1.2" class="dg"/><text x="440.4" y="77" class="lb lo" textLength="13.2" lengthAdjust="spacingAndGlyphs">W</text></g><g transform="translate(844.2,390)"><rect x="441.5" y="95.5" width="23" height="215" fill="url(#jetg)" stroke="#1a1a1a" stroke-width="0.9"/><text x="474.2" y="104.4" class="cb" textLength="11.8" lengthAdjust="spacingAndGlyphs">2</text><line x1="461.5" x2="464.8" y1="96.4" y2="96.4" stroke="#262626" stroke-width="0.8"/><text x="474.2" y="157.1" class="cb" textLength="11.8" lengthAdjust="spacingAndGlyphs">1</text><line x1="461.5" x2="464.8" y1="149.1" y2="149.1" stroke="#262626" stroke-width="0.8"/><text x="474.2" y="210.4" class="cb" textLength="11.8" lengthAdjust="spacingAndGlyphs">0</text><line x1="461.5" x2="464.8" y1="202.4" y2="202.4" stroke="#262626" stroke-width="0.8"/><text x="474.2" y="263.9" class="cb" textLength="21.3" lengthAdjust="spacingAndGlyphs">-1</text><line x1="461.5" x2="464.8" y1="255.9" y2="255.9" stroke="#262626" stroke-width="0.8"/><text x="474.2" y="316.6" class="cb" textLength="21.3" lengthAdjust="spacingAndGlyphs">-2</text><line x1="461.5" x2="464.8" y1="308.6" y2="308.6" stroke="#262626" stroke-width="0.8"/></g><text x="977.2" y="732.1" class="tt" textLength="346.9" lengthAdjust="spacingAndGlyphs">SAT-RAP 500 hPa Temp (K)</text>
</svg>
</body></html>
